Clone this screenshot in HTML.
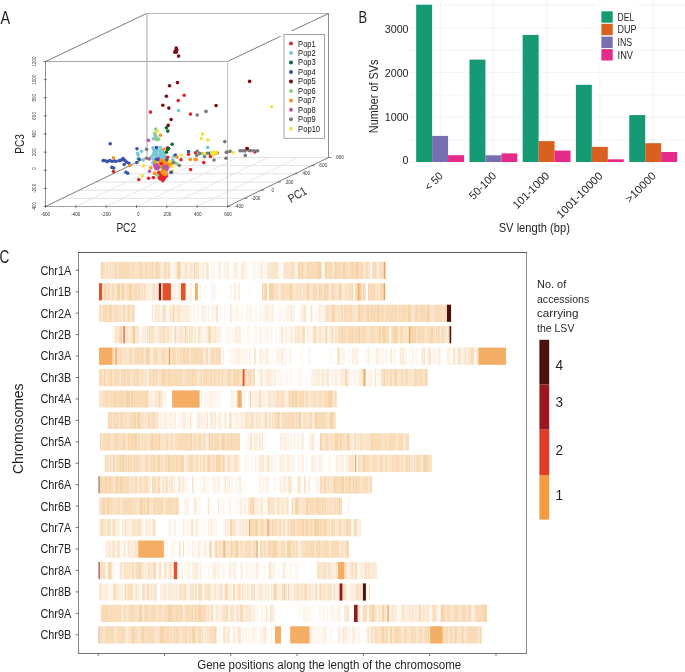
<!DOCTYPE html>
<html><head><meta charset="utf-8"><style>
html,body{margin:0;padding:0;background:#fff;}
body{width:685px;height:672px;overflow:hidden;}
svg{display:block;font-family:"Liberation Sans", sans-serif;}
text{-webkit-font-smoothing:antialiased;}
.g{opacity:0.999;will-change:transform;}
</style></head><body>
<svg width="685" height="672" viewBox="0 0 685 672">
<rect width="685" height="672" fill="#fff"/>
<g class="g"><text x="0.60" y="23.90" font-size="17.5" text-anchor="start" fill="#231f20" textLength="9.6" lengthAdjust="spacingAndGlyphs" >A</text>
<line x1="75.83" y1="206.5" x2="176.83" y2="157.5" stroke="#e2e2e2" stroke-width="0.8"/>
<line x1="106.17" y1="206.5" x2="207.17" y2="157.5" stroke="#e2e2e2" stroke-width="0.8"/>
<line x1="136.50" y1="206.5" x2="237.50" y2="157.5" stroke="#e2e2e2" stroke-width="0.8"/>
<line x1="166.83" y1="206.5" x2="267.83" y2="157.5" stroke="#e2e2e2" stroke-width="0.8"/>
<line x1="197.17" y1="206.5" x2="298.17" y2="157.5" stroke="#e2e2e2" stroke-width="0.8"/>
<line x1="62.33" y1="198.33" x2="244.33" y2="198.33" stroke="#e2e2e2" stroke-width="1"/>
<line x1="79.17" y1="190.17" x2="261.17" y2="190.17" stroke="#e2e2e2" stroke-width="1"/>
<line x1="96.00" y1="182.00" x2="278.00" y2="182.00" stroke="#e2e2e2" stroke-width="1"/>
<line x1="112.83" y1="173.83" x2="294.83" y2="173.83" stroke="#e2e2e2" stroke-width="1"/>
<line x1="129.67" y1="165.67" x2="311.67" y2="165.67" stroke="#e2e2e2" stroke-width="1"/>
<line x1="146.50" y1="157.50" x2="328.50" y2="157.50" stroke="#e2e2e2" stroke-width="1"/>
<line x1="146.5" y1="13.5" x2="328.5" y2="13.5" stroke="#b4b4b4" stroke-width="1"/>
<line x1="147" y1="13.5" x2="147" y2="157.5" stroke="#a6a6a6" stroke-width="1"/>
<line x1="328.5" y1="13.5" x2="328.5" y2="157.5" stroke="#8c8c8c" stroke-width="1"/>
<line x1="45.5" y1="61.5" x2="146.5" y2="13.5" stroke="#5a5a5a" stroke-width="0.8"/>
<line x1="227.5" y1="61.5" x2="328.5" y2="13.5" stroke="#5a5a5a" stroke-width="0.8"/>
<line x1="45.5" y1="206.5" x2="146.5" y2="157.5" stroke="#5a5a5a" stroke-width="0.8"/>
<line x1="227.5" y1="206.5" x2="328.5" y2="157.5" stroke="#5a5a5a" stroke-width="0.8"/>
<line x1="45.5" y1="61.5" x2="227.5" y2="61.5" stroke="#aaaaaa" stroke-width="1"/>
<line x1="45.5" y1="206.5" x2="227.5" y2="206.5" stroke="#a4a4a4" stroke-width="1"/>
<line x1="45.5" y1="61" x2="45.5" y2="207" stroke="#8e8e8e" stroke-width="1"/>
<line x1="227.5" y1="61" x2="227.5" y2="207" stroke="#c0c0c0" stroke-width="1"/>
<line x1="43.5" y1="61.50" x2="47.0" y2="61.50" stroke="#555" stroke-width="0.7"/>
<text x="34.40" y="61.50" font-size="4.6" text-anchor="middle" fill="#333" transform="rotate(-90 34.40 61.50)" dominant-baseline="central">1200</text>
<line x1="43.5" y1="79.62" x2="47.0" y2="79.62" stroke="#555" stroke-width="0.7"/>
<text x="34.40" y="79.62" font-size="4.6" text-anchor="middle" fill="#333" transform="rotate(-90 34.40 79.62)" dominant-baseline="central">1000</text>
<line x1="43.5" y1="97.75" x2="47.0" y2="97.75" stroke="#555" stroke-width="0.7"/>
<text x="34.40" y="97.75" font-size="4.6" text-anchor="middle" fill="#333" transform="rotate(-90 34.40 97.75)" dominant-baseline="central">800</text>
<line x1="43.5" y1="115.88" x2="47.0" y2="115.88" stroke="#555" stroke-width="0.7"/>
<text x="34.40" y="115.88" font-size="4.6" text-anchor="middle" fill="#333" transform="rotate(-90 34.40 115.88)" dominant-baseline="central">600</text>
<line x1="43.5" y1="134.00" x2="47.0" y2="134.00" stroke="#555" stroke-width="0.7"/>
<text x="34.40" y="134.00" font-size="4.6" text-anchor="middle" fill="#333" transform="rotate(-90 34.40 134.00)" dominant-baseline="central">400</text>
<line x1="43.5" y1="152.12" x2="47.0" y2="152.12" stroke="#555" stroke-width="0.7"/>
<text x="34.40" y="152.12" font-size="4.6" text-anchor="middle" fill="#333" transform="rotate(-90 34.40 152.12)" dominant-baseline="central">200</text>
<line x1="43.5" y1="170.25" x2="47.0" y2="170.25" stroke="#555" stroke-width="0.7"/>
<text x="34.40" y="168.45" font-size="4.6" text-anchor="middle" fill="#333" transform="rotate(-90 34.40 168.45)" dominant-baseline="central">0</text>
<line x1="43.5" y1="188.38" x2="47.0" y2="188.38" stroke="#555" stroke-width="0.7"/>
<text x="34.40" y="188.38" font-size="4.6" text-anchor="middle" fill="#333" transform="rotate(-90 34.40 188.38)" dominant-baseline="central">-200</text>
<line x1="43.5" y1="206.50" x2="47.0" y2="206.50" stroke="#555" stroke-width="0.7"/>
<text x="34.40" y="206.50" font-size="4.6" text-anchor="middle" fill="#333" transform="rotate(-90 34.40 206.50)" dominant-baseline="central">-400</text>
<line x1="45.50" y1="205.0" x2="45.50" y2="208.0" stroke="#555" stroke-width="0.7"/>
<text x="45.50" y="215.80" font-size="4.6" text-anchor="middle" fill="#333" >-600</text>
<line x1="75.83" y1="205.0" x2="75.83" y2="208.0" stroke="#555" stroke-width="0.7"/>
<text x="75.83" y="215.80" font-size="4.6" text-anchor="middle" fill="#333" >-400</text>
<line x1="106.17" y1="205.0" x2="106.17" y2="208.0" stroke="#555" stroke-width="0.7"/>
<text x="106.17" y="215.80" font-size="4.6" text-anchor="middle" fill="#333" >-200</text>
<line x1="136.50" y1="205.0" x2="136.50" y2="208.0" stroke="#555" stroke-width="0.7"/>
<text x="138.30" y="215.80" font-size="4.6" text-anchor="middle" fill="#333" >0</text>
<line x1="166.83" y1="205.0" x2="166.83" y2="208.0" stroke="#555" stroke-width="0.7"/>
<text x="167.43" y="215.80" font-size="4.6" text-anchor="middle" fill="#333" >200</text>
<line x1="197.17" y1="205.0" x2="197.17" y2="208.0" stroke="#555" stroke-width="0.7"/>
<text x="197.77" y="215.80" font-size="4.6" text-anchor="middle" fill="#333" >400</text>
<line x1="227.50" y1="205.0" x2="227.50" y2="208.0" stroke="#555" stroke-width="0.7"/>
<text x="228.10" y="215.80" font-size="4.6" text-anchor="middle" fill="#333" >600</text>
<line x1="227.50" y1="206.50" x2="230.50" y2="206.50" stroke="#555" stroke-width="0.7"/>
<text x="239.00" y="208.10" font-size="4.6" text-anchor="middle" fill="#333" >-400</text>
<line x1="244.33" y1="198.33" x2="247.33" y2="198.33" stroke="#555" stroke-width="0.7"/>
<text x="255.83" y="199.93" font-size="4.6" text-anchor="middle" fill="#333" >-200</text>
<line x1="261.17" y1="190.17" x2="264.17" y2="190.17" stroke="#555" stroke-width="0.7"/>
<text x="272.67" y="191.77" font-size="4.6" text-anchor="middle" fill="#333" >0</text>
<line x1="278.00" y1="182.00" x2="281.00" y2="182.00" stroke="#555" stroke-width="0.7"/>
<text x="289.50" y="183.60" font-size="4.6" text-anchor="middle" fill="#333" >200</text>
<line x1="294.83" y1="173.83" x2="297.83" y2="173.83" stroke="#555" stroke-width="0.7"/>
<text x="306.33" y="175.43" font-size="4.6" text-anchor="middle" fill="#333" >400</text>
<line x1="311.67" y1="165.67" x2="314.67" y2="165.67" stroke="#555" stroke-width="0.7"/>
<text x="323.17" y="167.27" font-size="4.6" text-anchor="middle" fill="#333" >600</text>
<line x1="328.50" y1="157.50" x2="331.50" y2="157.50" stroke="#555" stroke-width="0.7"/>
<text x="340.00" y="159.10" font-size="4.6" text-anchor="middle" fill="#333" >800</text>
<text x="126.20" y="231.90" font-size="12.2" text-anchor="middle" fill="#231f20" textLength="19.6" lengthAdjust="spacingAndGlyphs" >PC2</text>
<text x="24.00" y="144.00" font-size="12.8" text-anchor="middle" fill="#231f20" textLength="19.6" lengthAdjust="spacingAndGlyphs" transform="rotate(-90 24.00 144.00)" >PC3</text>
<text x="0" y="0" font-size="12.0" text-anchor="middle" fill="#231f20" textLength="19.4" lengthAdjust="spacingAndGlyphs" transform="translate(299.5 198.3) rotate(-30)">PC1</text>
<circle cx="153.0" cy="147.9" r="1.8" fill="#76c7d6"/>
<circle cx="160.3" cy="147.5" r="1.8" fill="#76c7d6"/>
<circle cx="154.1" cy="150.3" r="1.8" fill="#76c7d6"/>
<circle cx="155.9" cy="150.6" r="1.8" fill="#76c7d6"/>
<circle cx="157.8" cy="150.4" r="1.8" fill="#76c7d6"/>
<circle cx="161.1" cy="150.3" r="1.8" fill="#76c7d6"/>
<circle cx="162.6" cy="151.4" r="1.8" fill="#76c7d6"/>
<circle cx="154.3" cy="152.6" r="1.8" fill="#76c7d6"/>
<circle cx="156.5" cy="153.3" r="1.8" fill="#76c7d6"/>
<circle cx="160.2" cy="152.6" r="1.8" fill="#76c7d6"/>
<circle cx="161.8" cy="153.3" r="1.8" fill="#76c7d6"/>
<circle cx="163.6" cy="153.8" r="1.8" fill="#76c7d6"/>
<circle cx="155.0" cy="155.1" r="1.8" fill="#76c7d6"/>
<circle cx="157.4" cy="155.2" r="1.8" fill="#76c7d6"/>
<circle cx="160.2" cy="155.2" r="1.8" fill="#76c7d6"/>
<circle cx="162.4" cy="155.2" r="1.8" fill="#76c7d6"/>
<circle cx="164.6" cy="155.6" r="1.8" fill="#76c7d6"/>
<circle cx="155.9" cy="157.3" r="1.8" fill="#76c7d6"/>
<circle cx="159.4" cy="157.0" r="1.8" fill="#76c7d6"/>
<circle cx="162.0" cy="157.4" r="1.8" fill="#76c7d6"/>
<circle cx="165.0" cy="157.6" r="1.8" fill="#76c7d6"/>
<circle cx="158.9" cy="160.2" r="1.8" fill="#76c7d6"/>
<circle cx="161.2" cy="159.6" r="1.8" fill="#76c7d6"/>
<circle cx="163.3" cy="160.4" r="1.8" fill="#76c7d6"/>
<circle cx="165.2" cy="159.8" r="1.8" fill="#76c7d6"/>
<circle cx="159.8" cy="162.2" r="1.8" fill="#76c7d6"/>
<circle cx="162.9" cy="162.2" r="1.8" fill="#76c7d6"/>
<circle cx="153.4" cy="159.2" r="1.8" fill="#76c7d6"/>
<circle cx="154.5" cy="161.3" r="1.8" fill="#76c7d6"/>
<circle cx="157.0" cy="158.8" r="1.8" fill="#76c7d6"/>
<circle cx="153.3" cy="154.5" r="1.8" fill="#76c7d6"/>
<circle cx="141.5" cy="151.3" r="1.8" fill="#76c7d6"/>
<circle cx="137.6" cy="153.4" r="1.8" fill="#76c7d6"/>
<circle cx="138.2" cy="155.1" r="1.8" fill="#76c7d6"/>
<circle cx="138.2" cy="158.6" r="1.8" fill="#76c7d6"/>
<circle cx="143.2" cy="160.1" r="1.8" fill="#76c7d6"/>
<circle cx="151.7" cy="156.6" r="1.8" fill="#76c7d6"/>
<circle cx="152.8" cy="163.0" r="1.8" fill="#76c7d6"/>
<circle cx="172.5" cy="160.0" r="1.8" fill="#76c7d6"/>
<circle cx="173.8" cy="156.0" r="1.8" fill="#76c7d6"/>
<circle cx="178.6" cy="110.6" r="1.8" fill="#76c7d6"/>
<circle cx="155.3" cy="135.2" r="1.8" fill="#76c7d6"/>
<circle cx="207.6" cy="147.4" r="1.8" fill="#76c7d6"/>
<circle cx="172.8" cy="160.4" r="1.8" fill="#76c7d6"/>
<circle cx="160.7" cy="160.6" r="1.8" fill="#f7941d"/>
<circle cx="162.5" cy="160.5" r="1.8" fill="#f7941d"/>
<circle cx="164.5" cy="160.2" r="1.8" fill="#f7941d"/>
<circle cx="166.5" cy="160.8" r="1.8" fill="#f7941d"/>
<circle cx="168.5" cy="161.5" r="1.8" fill="#f7941d"/>
<circle cx="170.3" cy="162.5" r="1.8" fill="#f7941d"/>
<circle cx="171.2" cy="164.2" r="1.8" fill="#f7941d"/>
<circle cx="163.5" cy="162.5" r="1.8" fill="#f7941d"/>
<circle cx="165.5" cy="162.5" r="1.8" fill="#f7941d"/>
<circle cx="167.5" cy="163.0" r="1.8" fill="#f7941d"/>
<circle cx="169.5" cy="163.8" r="1.8" fill="#f7941d"/>
<circle cx="160.2" cy="164.8" r="1.8" fill="#f7941d"/>
<circle cx="162.0" cy="165.0" r="1.8" fill="#f7941d"/>
<circle cx="164.0" cy="164.5" r="1.8" fill="#f7941d"/>
<circle cx="166.0" cy="165.0" r="1.8" fill="#f7941d"/>
<circle cx="168.0" cy="165.5" r="1.8" fill="#f7941d"/>
<circle cx="170.0" cy="166.0" r="1.8" fill="#f7941d"/>
<circle cx="161.0" cy="166.8" r="1.8" fill="#f7941d"/>
<circle cx="163.0" cy="167.2" r="1.8" fill="#f7941d"/>
<circle cx="165.0" cy="167.5" r="1.8" fill="#f7941d"/>
<circle cx="167.0" cy="168.0" r="1.8" fill="#f7941d"/>
<circle cx="162.5" cy="168.8" r="1.8" fill="#f7941d"/>
<circle cx="166.0" cy="169.5" r="1.8" fill="#f7941d"/>
<circle cx="159.6" cy="162.8" r="1.8" fill="#f7941d"/>
<circle cx="154.8" cy="164.8" r="1.8" fill="#c24fad"/>
<circle cx="156.8" cy="164.5" r="1.8" fill="#c24fad"/>
<circle cx="155.0" cy="166.6" r="1.8" fill="#c24fad"/>
<circle cx="157.0" cy="166.8" r="1.8" fill="#c24fad"/>
<circle cx="158.8" cy="167.0" r="1.8" fill="#c24fad"/>
<circle cx="155.8" cy="168.6" r="1.8" fill="#c24fad"/>
<circle cx="157.8" cy="168.8" r="1.8" fill="#c24fad"/>
<circle cx="164.5" cy="166.4" r="1.8" fill="#c24fad"/>
<circle cx="166.5" cy="166.3" r="1.8" fill="#c24fad"/>
<circle cx="167.5" cy="168.0" r="1.8" fill="#c24fad"/>
<circle cx="165.3" cy="169.3" r="1.8" fill="#c24fad"/>
<circle cx="166.8" cy="170.0" r="1.8" fill="#c24fad"/>
<circle cx="158.3" cy="158.6" r="1.8" fill="#c24fad"/>
<circle cx="149.3" cy="158.9" r="1.8" fill="#c24fad"/>
<circle cx="148.5" cy="140.3" r="1.8" fill="#c24fad"/>
<circle cx="149.5" cy="171.2" r="1.8" fill="#c24fad"/>
<circle cx="155.9" cy="165.7" r="1.8" fill="#c24fad"/>
<circle cx="163.8" cy="167.5" r="1.8" fill="#7a7a7a"/>
<circle cx="159.5" cy="173.1" r="1.8" fill="#e3252b"/>
<circle cx="158.7" cy="174.6" r="1.8" fill="#e3252b"/>
<circle cx="159.8" cy="176.0" r="1.8" fill="#e3252b"/>
<circle cx="159.2" cy="178.0" r="1.8" fill="#e3252b"/>
<circle cx="161.1" cy="177.6" r="1.8" fill="#e3252b"/>
<circle cx="163.3" cy="177.0" r="1.8" fill="#e3252b"/>
<circle cx="165.4" cy="176.8" r="1.8" fill="#e3252b"/>
<circle cx="162.5" cy="179.3" r="1.8" fill="#e3252b"/>
<circle cx="164.3" cy="178.8" r="1.8" fill="#e3252b"/>
<circle cx="162.9" cy="180.8" r="1.8" fill="#e3252b"/>
<circle cx="160.5" cy="179.0" r="1.8" fill="#e3252b"/>
<circle cx="166.4" cy="176.0" r="1.8" fill="#e3252b"/>
<circle cx="158.9" cy="172.2" r="1.8" fill="#e3252b"/>
<circle cx="161.2" cy="175.2" r="1.8" fill="#e3252b"/>
<circle cx="163.6" cy="175.4" r="1.8" fill="#e3252b"/>
<circle cx="162.0" cy="171.6" r="1.8" fill="#f7941d"/>
<circle cx="164.4" cy="171.2" r="1.8" fill="#f7941d"/>
<circle cx="163.2" cy="173.6" r="1.8" fill="#f7941d"/>
<circle cx="166.8" cy="173.8" r="1.8" fill="#f7941d"/>
<circle cx="165.2" cy="174.6" r="1.8" fill="#f7941d"/>
<circle cx="176.2" cy="48.0" r="1.8" fill="#7d0c0e"/>
<circle cx="175.5" cy="50.7" r="1.8" fill="#7d0c0e"/>
<circle cx="176.4" cy="52.1" r="1.8" fill="#7d0c0e"/>
<circle cx="174.8" cy="52.3" r="1.8" fill="#7d0c0e"/>
<circle cx="176.8" cy="49.8" r="1.8" fill="#7d0c0e"/>
<circle cx="178.6" cy="56.1" r="1.8" fill="#7d0c0e"/>
<circle cx="177.5" cy="82.6" r="1.8" fill="#7d0c0e"/>
<circle cx="169.5" cy="85.8" r="1.8" fill="#7d0c0e"/>
<circle cx="166.4" cy="96.3" r="1.8" fill="#7d0c0e"/>
<circle cx="162.8" cy="105.3" r="1.8" fill="#7d0c0e"/>
<circle cx="168.8" cy="108.1" r="1.8" fill="#7d0c0e"/>
<circle cx="171.1" cy="119.5" r="1.8" fill="#7d0c0e"/>
<circle cx="168.2" cy="125.4" r="1.8" fill="#7d0c0e"/>
<circle cx="216.1" cy="105.6" r="1.8" fill="#7d0c0e"/>
<circle cx="249.6" cy="81.4" r="1.8" fill="#7d0c0e"/>
<circle cx="247.1" cy="148.6" r="1.8" fill="#7d0c0e"/>
<circle cx="184.2" cy="95.2" r="1.8" fill="#e3252b"/>
<circle cx="178.2" cy="100.6" r="1.8" fill="#e3252b"/>
<circle cx="150.5" cy="112.1" r="1.8" fill="#e3252b"/>
<circle cx="190.5" cy="114.1" r="1.8" fill="#e3252b"/>
<circle cx="113.5" cy="171.5" r="1.8" fill="#e3252b"/>
<circle cx="138.8" cy="179.6" r="1.8" fill="#e3252b"/>
<circle cx="148.6" cy="178.2" r="1.8" fill="#e3252b"/>
<circle cx="153.4" cy="177.6" r="1.8" fill="#e3252b"/>
<circle cx="167.6" cy="147.7" r="1.8" fill="#e3252b"/>
<circle cx="167.6" cy="157.2" r="1.8" fill="#e3252b"/>
<circle cx="161.4" cy="163.6" r="1.8" fill="#e3252b"/>
<circle cx="188.5" cy="154.3" r="1.8" fill="#e3252b"/>
<circle cx="195.5" cy="152.7" r="1.8" fill="#e3252b"/>
<circle cx="210.5" cy="156.4" r="1.8" fill="#e3252b"/>
<circle cx="217.2" cy="152.7" r="1.8" fill="#e3252b"/>
<circle cx="203.7" cy="162.6" r="1.8" fill="#e3252b"/>
<circle cx="190.6" cy="169.6" r="1.8" fill="#e3252b"/>
<circle cx="181.0" cy="159.7" r="1.8" fill="#e3252b"/>
<circle cx="254.9" cy="151.9" r="1.8" fill="#e3252b"/>
<circle cx="166.4" cy="127.8" r="1.8" fill="#076a36"/>
<circle cx="167.8" cy="131.1" r="1.8" fill="#076a36"/>
<circle cx="172.2" cy="144.3" r="1.8" fill="#076a36"/>
<circle cx="167.6" cy="149.6" r="1.8" fill="#076a36"/>
<circle cx="166.4" cy="152.2" r="1.8" fill="#076a36"/>
<circle cx="168.6" cy="148.6" r="1.8" fill="#076a36"/>
<circle cx="110.2" cy="143.8" r="1.8" fill="#3953a7"/>
<circle cx="103.2" cy="160.6" r="1.8" fill="#3953a7"/>
<circle cx="105.3" cy="160.8" r="1.8" fill="#3953a7"/>
<circle cx="107.3" cy="161.6" r="1.8" fill="#3953a7"/>
<circle cx="109.6" cy="160.6" r="1.8" fill="#3953a7"/>
<circle cx="111.9" cy="161.3" r="1.8" fill="#3953a7"/>
<circle cx="114.2" cy="161.0" r="1.8" fill="#3953a7"/>
<circle cx="116.2" cy="161.3" r="1.8" fill="#3953a7"/>
<circle cx="119.5" cy="160.6" r="1.8" fill="#3953a7"/>
<circle cx="121.4" cy="160.0" r="1.8" fill="#3953a7"/>
<circle cx="123.0" cy="158.6" r="1.8" fill="#3953a7"/>
<circle cx="124.8" cy="160.4" r="1.8" fill="#3953a7"/>
<circle cx="126.5" cy="162.0" r="1.8" fill="#3953a7"/>
<circle cx="128.9" cy="163.2" r="1.8" fill="#3953a7"/>
<circle cx="124.2" cy="164.5" r="1.8" fill="#3953a7"/>
<circle cx="111.9" cy="167.4" r="1.8" fill="#3953a7"/>
<circle cx="113.7" cy="168.0" r="1.8" fill="#3953a7"/>
<circle cx="126.0" cy="172.3" r="1.8" fill="#3953a7"/>
<circle cx="127.7" cy="173.2" r="1.8" fill="#3953a7"/>
<circle cx="137.0" cy="148.7" r="1.8" fill="#3953a7"/>
<circle cx="139.1" cy="159.2" r="1.8" fill="#3953a7"/>
<circle cx="136.8" cy="162.5" r="1.8" fill="#3953a7"/>
<circle cx="156.5" cy="147.6" r="1.8" fill="#3953a7"/>
<circle cx="171.2" cy="172.2" r="1.8" fill="#3953a7"/>
<circle cx="167.0" cy="159.7" r="1.8" fill="#3953a7"/>
<circle cx="175.4" cy="155.0" r="1.8" fill="#3953a7"/>
<circle cx="156.5" cy="159.5" r="1.8" fill="#3953a7"/>
<circle cx="188.5" cy="151.5" r="1.8" fill="#3953a7"/>
<circle cx="209.6" cy="153.3" r="1.8" fill="#3953a7"/>
<circle cx="157.8" cy="159.8" r="1.8" fill="#3953a7"/>
<circle cx="153.5" cy="138.8" r="1.8" fill="#76c7d6"/>
<circle cx="155.6" cy="136.2" r="1.8" fill="#76c7d6"/>
<circle cx="155.7" cy="129.1" r="1.8" fill="#90d07f"/>
<circle cx="154.7" cy="133.4" r="1.8" fill="#90d07f"/>
<circle cx="157.2" cy="138.2" r="1.8" fill="#90d07f"/>
<circle cx="158.6" cy="139.4" r="1.8" fill="#90d07f"/>
<circle cx="156.4" cy="139.8" r="1.8" fill="#90d07f"/>
<circle cx="157.4" cy="175.3" r="1.8" fill="#90d07f"/>
<circle cx="176.7" cy="163.5" r="1.8" fill="#90d07f"/>
<circle cx="202.0" cy="153.6" r="1.8" fill="#90d07f"/>
<circle cx="113.5" cy="157.8" r="1.8" fill="#f7941d"/>
<circle cx="129.8" cy="165.6" r="1.8" fill="#f7941d"/>
<circle cx="160.5" cy="135.2" r="1.8" fill="#f7941d"/>
<circle cx="164.0" cy="149.2" r="1.8" fill="#f7941d"/>
<circle cx="150.8" cy="167.7" r="1.8" fill="#f7941d"/>
<circle cx="154.8" cy="173.4" r="1.8" fill="#f7941d"/>
<circle cx="177.0" cy="157.1" r="1.8" fill="#f7941d"/>
<circle cx="190.3" cy="159.5" r="1.8" fill="#f7941d"/>
<circle cx="195.0" cy="159.5" r="1.8" fill="#f7941d"/>
<circle cx="196.3" cy="159.5" r="1.8" fill="#f7941d"/>
<circle cx="155.2" cy="162.1" r="1.8" fill="#f7941d"/>
<circle cx="154.6" cy="173.2" r="1.8" fill="#f7941d"/>
<circle cx="146.6" cy="149.3" r="1.8" fill="#7a7a7a"/>
<circle cx="146.7" cy="158.2" r="1.8" fill="#7a7a7a"/>
<circle cx="173.7" cy="162.6" r="1.8" fill="#7a7a7a"/>
<circle cx="179.3" cy="165.5" r="1.8" fill="#7a7a7a"/>
<circle cx="197.2" cy="115.0" r="1.8" fill="#7a7a7a"/>
<circle cx="206.0" cy="111.4" r="1.8" fill="#7a7a7a"/>
<circle cx="224.8" cy="141.6" r="1.8" fill="#7a7a7a"/>
<circle cx="197.3" cy="151.3" r="1.8" fill="#7a7a7a"/>
<circle cx="196.7" cy="155.3" r="1.8" fill="#7a7a7a"/>
<circle cx="199.6" cy="153.6" r="1.8" fill="#7a7a7a"/>
<circle cx="207.2" cy="153.3" r="1.8" fill="#7a7a7a"/>
<circle cx="204.5" cy="156.4" r="1.8" fill="#7a7a7a"/>
<circle cx="214.0" cy="160.0" r="1.8" fill="#7a7a7a"/>
<circle cx="227.1" cy="152.1" r="1.8" fill="#7a7a7a"/>
<circle cx="230.1" cy="151.4" r="1.8" fill="#7a7a7a"/>
<circle cx="226.3" cy="152.2" r="1.8" fill="#7a7a7a"/>
<circle cx="226.0" cy="158.2" r="1.8" fill="#7a7a7a"/>
<circle cx="240.0" cy="150.8" r="1.8" fill="#7a7a7a"/>
<circle cx="242.5" cy="150.8" r="1.8" fill="#7a7a7a"/>
<circle cx="245.0" cy="150.9" r="1.8" fill="#7a7a7a"/>
<circle cx="249.0" cy="150.6" r="1.8" fill="#7a7a7a"/>
<circle cx="251.0" cy="150.8" r="1.8" fill="#7a7a7a"/>
<circle cx="254.0" cy="150.8" r="1.8" fill="#7a7a7a"/>
<circle cx="257.6" cy="150.8" r="1.8" fill="#7a7a7a"/>
<circle cx="245.3" cy="155.4" r="1.8" fill="#7a7a7a"/>
<circle cx="157.6" cy="131.3" r="1.8" fill="#f5e23a"/>
<circle cx="202.6" cy="134.0" r="1.8" fill="#f5e23a"/>
<circle cx="201.4" cy="138.5" r="1.8" fill="#f5e23a"/>
<circle cx="207.8" cy="140.1" r="1.8" fill="#f5e23a"/>
<circle cx="143.5" cy="165.7" r="1.8" fill="#f5e23a"/>
<circle cx="142.2" cy="176.1" r="1.8" fill="#f5e23a"/>
<circle cx="172.2" cy="166.3" r="1.8" fill="#f5e23a"/>
<circle cx="181.3" cy="155.1" r="1.8" fill="#f5e23a"/>
<circle cx="204.3" cy="153.6" r="1.8" fill="#f5e23a"/>
<circle cx="211.5" cy="153.0" r="1.8" fill="#f5e23a"/>
<circle cx="213.5" cy="152.0" r="1.8" fill="#f5e23a"/>
<circle cx="215.0" cy="154.2" r="1.8" fill="#f5e23a"/>
<circle cx="216.5" cy="152.4" r="1.8" fill="#f5e23a"/>
<circle cx="212.8" cy="154.6" r="1.8" fill="#f5e23a"/>
<circle cx="233.2" cy="152.6" r="1.8" fill="#f5e23a"/>
<circle cx="271.6" cy="106.8" r="1.8" fill="#f5e23a"/>
<circle cx="169.7" cy="161.3" r="1.8" fill="#f5e23a"/>
<circle cx="172.4" cy="171.0" r="1.8" fill="#f5e23a"/>
<circle cx="247.1" cy="148.6" r="1.8" fill="#7d0c0e"/>
<circle cx="171.2" cy="172.3" r="1.8" fill="#3953a7"/>
<rect x="280.6" y="31" width="47" height="111" fill="#fff"/>
<rect x="284" y="34.5" width="40.5" height="103.8" fill="#fff" stroke="#9a9a9a" stroke-width="0.9"/>
<circle cx="291" cy="43.50" r="2" fill="#e3252b"/>
<text x="298.10" y="46.50" font-size="8.3" text-anchor="start" fill="#111" textLength="17.7" lengthAdjust="spacingAndGlyphs" >Pop1</text>
<circle cx="291" cy="52.98" r="2" fill="#76c7d6"/>
<text x="298.10" y="55.98" font-size="8.3" text-anchor="start" fill="#111" textLength="17.7" lengthAdjust="spacingAndGlyphs" >Pop2</text>
<circle cx="291" cy="62.46" r="2" fill="#076a36"/>
<text x="298.10" y="65.46" font-size="8.3" text-anchor="start" fill="#111" textLength="17.7" lengthAdjust="spacingAndGlyphs" >Pop3</text>
<circle cx="291" cy="71.94" r="2" fill="#3953a7"/>
<text x="298.10" y="74.94" font-size="8.3" text-anchor="start" fill="#111" textLength="17.7" lengthAdjust="spacingAndGlyphs" >Pop4</text>
<circle cx="291" cy="81.42" r="2" fill="#7d0c0e"/>
<text x="298.10" y="84.42" font-size="8.3" text-anchor="start" fill="#111" textLength="17.7" lengthAdjust="spacingAndGlyphs" >Pop5</text>
<circle cx="291" cy="90.90" r="2" fill="#90d07f"/>
<text x="298.10" y="93.90" font-size="8.3" text-anchor="start" fill="#111" textLength="17.7" lengthAdjust="spacingAndGlyphs" >Pop6</text>
<circle cx="291" cy="100.38" r="2" fill="#f7941d"/>
<text x="298.10" y="103.38" font-size="8.3" text-anchor="start" fill="#111" textLength="17.7" lengthAdjust="spacingAndGlyphs" >Pop7</text>
<circle cx="291" cy="109.86" r="2" fill="#c24fad"/>
<text x="298.10" y="112.86" font-size="8.3" text-anchor="start" fill="#111" textLength="17.7" lengthAdjust="spacingAndGlyphs" >Pop8</text>
<circle cx="291" cy="119.34" r="2" fill="#7a7a7a"/>
<text x="298.10" y="122.34" font-size="8.3" text-anchor="start" fill="#111" textLength="17.7" lengthAdjust="spacingAndGlyphs" >Pop9</text>
<circle cx="291" cy="128.82" r="2" fill="#f5e23a"/>
<text x="298.10" y="131.82" font-size="8.3" text-anchor="start" fill="#111" textLength="22.0" lengthAdjust="spacingAndGlyphs" >Pop10</text>
<text x="358.40" y="22.70" font-size="17.2" text-anchor="start" fill="#231f20" textLength="8.6" lengthAdjust="spacingAndGlyphs" >B</text>
<line x1="408.5" y1="139.60" x2="685" y2="139.60" stroke="#f1f1f1" stroke-width="0.8"/>
<line x1="408.5" y1="117.20" x2="685" y2="117.20" stroke="#f1f1f1" stroke-width="0.8"/>
<line x1="408.5" y1="94.80" x2="685" y2="94.80" stroke="#f1f1f1" stroke-width="0.8"/>
<line x1="408.5" y1="72.40" x2="685" y2="72.40" stroke="#f1f1f1" stroke-width="0.8"/>
<line x1="408.5" y1="50.00" x2="685" y2="50.00" stroke="#f1f1f1" stroke-width="0.8"/>
<line x1="408.5" y1="27.60" x2="685" y2="27.60" stroke="#f1f1f1" stroke-width="0.8"/>
<line x1="408.5" y1="5.20" x2="685" y2="5.20" stroke="#f1f1f1" stroke-width="0.8"/>
<line x1="408.5" y1="162.0" x2="685" y2="162.0" stroke="#f1f1f1" stroke-width="0.8"/>
<line x1="440.1" y1="0" x2="440.1" y2="169" stroke="#f1f1f1" stroke-width="0.8"/>
<line x1="493.4" y1="0" x2="493.4" y2="169" stroke="#f1f1f1" stroke-width="0.8"/>
<line x1="546.6" y1="0" x2="546.6" y2="169" stroke="#f1f1f1" stroke-width="0.8"/>
<line x1="599.8" y1="0" x2="599.8" y2="169" stroke="#f1f1f1" stroke-width="0.8"/>
<line x1="653.2" y1="0" x2="653.2" y2="169" stroke="#f1f1f1" stroke-width="0.8"/>
<rect x="416.18" y="4.7" width="15.95" height="157.30" fill="#159a73"/>
<rect x="432.12" y="135.9" width="15.95" height="26.10" fill="#7670b3"/>
<rect x="448.07" y="155.2" width="15.95" height="6.80" fill="#e52a8a"/>
<rect x="469.47" y="59.6" width="15.95" height="102.40" fill="#159a73"/>
<rect x="485.42" y="155.3" width="15.95" height="6.70" fill="#7670b3"/>
<rect x="501.37" y="153.4" width="15.95" height="8.60" fill="#e52a8a"/>
<rect x="522.68" y="34.9" width="15.95" height="127.10" fill="#159a73"/>
<rect x="538.63" y="141.1" width="15.95" height="20.90" fill="#d9601f"/>
<rect x="554.58" y="150.6" width="15.95" height="11.40" fill="#e52a8a"/>
<rect x="575.88" y="84.8" width="15.95" height="77.20" fill="#159a73"/>
<rect x="591.83" y="146.9" width="15.95" height="15.10" fill="#d9601f"/>
<rect x="607.78" y="159.3" width="15.95" height="2.70" fill="#e52a8a"/>
<rect x="629.28" y="115.1" width="15.95" height="46.90" fill="#159a73"/>
<rect x="645.23" y="143.2" width="15.95" height="18.80" fill="#d9601f"/>
<rect x="661.18" y="152.0" width="15.95" height="10.00" fill="#e52a8a"/>
<text x="408.60" y="32.80" font-size="11.8" text-anchor="end" fill="#231f20" textLength="23.9" lengthAdjust="spacingAndGlyphs" >3000</text>
<text x="408.60" y="76.70" font-size="11.8" text-anchor="end" fill="#231f20" textLength="23.9" lengthAdjust="spacingAndGlyphs" >2000</text>
<text x="408.60" y="120.60" font-size="11.8" text-anchor="end" fill="#231f20" textLength="23.9" lengthAdjust="spacingAndGlyphs" >1000</text>
<text x="408.60" y="164.40" font-size="11.8" text-anchor="end" fill="#231f20" textLength="6.0" lengthAdjust="spacingAndGlyphs" >0</text>
<text x="378.00" y="96.40" font-size="12.4" text-anchor="middle" fill="#231f20" textLength="73.5" lengthAdjust="spacingAndGlyphs" transform="rotate(-90 378.00 96.40)" >Number of SVs</text>
<text x="0" y="0" font-size="11.2" text-anchor="end" fill="#231f20" textLength="20.9" lengthAdjust="spacingAndGlyphs" transform="translate(443.70 176.60) rotate(-45)">&lt; 50</text>
<text x="0" y="0" font-size="11.2" text-anchor="end" fill="#231f20" textLength="33.3" lengthAdjust="spacingAndGlyphs" transform="translate(497.00 176.60) rotate(-45)">50-100</text>
<text x="0" y="0" font-size="11.2" text-anchor="end" fill="#231f20" textLength="46.6" lengthAdjust="spacingAndGlyphs" transform="translate(550.20 176.60) rotate(-45)">101-1000</text>
<text x="0" y="0" font-size="11.2" text-anchor="end" fill="#231f20" textLength="59.8" lengthAdjust="spacingAndGlyphs" transform="translate(603.40 176.60) rotate(-45)">1001-10000</text>
<text x="0" y="0" font-size="11.2" text-anchor="end" fill="#231f20" textLength="38.1" lengthAdjust="spacingAndGlyphs" transform="translate(656.80 176.60) rotate(-45)">&gt;10000</text>
<text x="534.30" y="231.60" font-size="12.2" text-anchor="middle" fill="#231f20" textLength="71.2" lengthAdjust="spacingAndGlyphs" >SV length (bp)</text>
<rect x="596" y="5" width="41.5" height="61" fill="#fff"/>
<rect x="601.4" y="11.3" width="11.3" height="11.4" fill="#159a73"/>
<rect x="601.4" y="23.8" width="11.3" height="11.4" fill="#d9601f"/>
<rect x="601.4" y="36.6" width="11.3" height="11.4" fill="#7670b3"/>
<rect x="601.4" y="49.1" width="11.3" height="11.4" fill="#e52a8a"/>
<text x="617.60" y="20.70" font-size="11.8" text-anchor="start" fill="#231f20" textLength="16.6" lengthAdjust="spacingAndGlyphs" >DEL</text>
<text x="617.60" y="33.30" font-size="11.8" text-anchor="start" fill="#231f20" textLength="19.0" lengthAdjust="spacingAndGlyphs" >DUP</text>
<text x="617.60" y="46.10" font-size="11.8" text-anchor="start" fill="#231f20" textLength="14.6" lengthAdjust="spacingAndGlyphs" >INS</text>
<text x="617.60" y="58.70" font-size="11.8" text-anchor="start" fill="#231f20" textLength="15.4" lengthAdjust="spacingAndGlyphs" >INV</text>
<text x="-0.60" y="262.90" font-size="17.8" text-anchor="start" fill="#231f20" textLength="9.8" lengthAdjust="spacingAndGlyphs" >C</text>
<path fill="#fef8f1" d="M169.8 261.8h1.0v17.2h-1.0zM173.8 261.8h0.5v17.2h-0.5zM189.2 261.8h0.5v17.2h-0.5zM192.6 261.8h1.5v17.2h-1.5zM199.0 261.8h1.0v17.2h-1.0zM200.7 261.8h1.0v17.2h-1.0zM201.7 261.8h1.0v17.2h-1.0zM203.7 261.8h2.5v17.2h-2.5zM211.9 261.8h1.0v17.2h-1.0zM212.9 261.8h1.0v17.2h-1.0zM213.9 261.8h1.0v17.2h-1.0zM217.4 261.8h1.0v17.2h-1.0zM221.9 261.8h2.0v17.2h-2.0zM224.4 261.8h1.0v17.2h-1.0zM226.4 261.8h1.2v17.2h-1.2zM231.7 261.8h2.0v17.2h-2.0zM233.7 261.8h0.5v17.2h-0.5zM236.8 261.8h1.0v17.2h-1.0zM237.8 261.8h1.0v17.2h-1.0zM240.0 261.8h1.5v17.2h-1.5zM245.7 261.8h1.0v17.2h-1.0zM246.7 261.8h2.0v17.2h-2.0zM252.9 261.8h0.7v17.2h-0.7zM253.6 261.8h1.0v17.2h-1.0zM263.0 261.8h2.0v17.2h-2.0zM265.0 261.8h2.5v17.2h-2.5zM297.2 261.8h0.8v17.2h-0.8zM370.4 261.8h2.0v17.2h-2.0zM377.6 261.8h1.0v17.2h-1.0zM172.4 283.2h1.0v17.2h-1.0zM173.4 283.2h0.7v17.2h-0.7zM176.6 283.2h1.2v17.2h-1.2zM185.6 283.2h1.0v17.2h-1.0zM186.6 283.2h2.0v17.2h-2.0zM193.1 283.2h1.0v17.2h-1.0zM199.0 283.2h1.2v17.2h-1.2zM200.9 283.2h1.0v17.2h-1.0zM204.3 283.2h1.5v17.2h-1.5zM206.3 283.2h0.5v17.2h-0.5zM211.0 283.2h1.2v17.2h-1.2zM212.2 283.2h1.5v17.2h-1.5zM229.4 283.2h2.5v17.2h-2.5zM248.8 283.2h1.0v17.2h-1.0zM267.0 283.2h2.0v17.2h-2.0zM279.4 283.2h0.5v17.2h-0.5zM329.6 283.2h0.7v17.2h-0.7zM353.3 283.2h1.0v17.2h-1.0zM153.4 304.7h1.0v17.2h-1.0zM154.4 304.7h1.0v17.2h-1.0zM160.6 304.7h1.5v17.2h-1.5zM166.6 304.7h2.5v17.2h-2.5zM169.1 304.7h1.2v17.2h-1.2zM175.3 304.7h1.2v17.2h-1.2zM190.0 304.7h2.0v17.2h-2.0zM192.7 304.7h1.5v17.2h-1.5zM194.2 304.7h2.0v17.2h-2.0zM210.3 304.7h1.2v17.2h-1.2zM220.0 304.7h1.0v17.2h-1.0zM224.0 304.7h1.0v17.2h-1.0zM231.2 304.7h2.0v17.2h-2.0zM233.9 304.7h2.5v17.2h-2.5zM239.1 304.7h1.2v17.2h-1.2zM241.5 304.7h0.7v17.2h-0.7zM242.2 304.7h1.0v17.2h-1.0zM247.9 304.7h1.0v17.2h-1.0zM248.9 304.7h1.1v17.2h-1.1zM251.2 304.7h1.0v17.2h-1.0zM252.7 304.7h0.5v17.2h-0.5zM254.2 304.7h1.2v17.2h-1.2zM255.4 304.7h1.5v17.2h-1.5zM264.4 304.7h1.0v17.2h-1.0zM266.4 304.7h0.5v17.2h-0.5zM269.4 304.7h2.0v17.2h-2.0zM280.1 304.7h2.5v17.2h-2.5zM283.6 304.7h1.0v17.2h-1.0zM284.6 304.7h2.5v17.2h-2.5zM288.6 304.7h1.0v17.2h-1.0zM292.8 304.7h0.5v17.2h-0.5zM301.0 304.7h1.0v17.2h-1.0zM306.0 304.7h1.0v17.2h-1.0zM315.2 304.7h1.0v17.2h-1.0zM316.2 304.7h2.5v17.2h-2.5zM321.2 304.7h0.5v17.2h-0.5zM321.7 304.7h1.0v17.2h-1.0zM323.7 304.7h1.0v17.2h-1.0zM355.3 304.7h0.5v17.2h-0.5zM112.5 326.1h1.5v17.2h-1.5zM123.6 326.1h1.0v17.2h-1.0zM146.0 326.1h1.2v17.2h-1.2zM148.2 326.1h0.5v17.2h-0.5zM171.7 326.1h2.5v17.2h-2.5zM179.2 326.1h0.5v17.2h-0.5zM195.7 326.1h1.2v17.2h-1.2zM202.8 326.1h2.5v17.2h-2.5zM217.2 326.1h0.5v17.2h-0.5zM220.2 326.1h2.5v17.2h-2.5zM224.7 326.1h2.0v17.2h-2.0zM227.2 326.1h2.5v17.2h-2.5zM229.7 326.1h1.0v17.2h-1.0zM231.4 326.1h2.0v17.2h-2.0zM236.9 326.1h0.5v17.2h-0.5zM242.4 326.1h1.5v17.2h-1.5zM243.9 326.1h0.5v17.2h-0.5zM247.6 326.1h1.5v17.2h-1.5zM249.1 326.1h0.9v17.2h-0.9zM250.0 326.1h0.5v17.2h-0.5zM253.7 326.1h1.0v17.2h-1.0zM255.2 326.1h0.5v17.2h-0.5zM260.3 326.1h1.2v17.2h-1.2zM261.5 326.1h1.0v17.2h-1.0zM263.2 326.1h2.5v17.2h-2.5zM265.7 326.1h2.0v17.2h-2.0zM268.7 326.1h0.5v17.2h-0.5zM270.4 326.1h1.0v17.2h-1.0zM275.0 326.1h2.0v17.2h-2.0zM278.0 326.1h0.7v17.2h-0.7zM278.7 326.1h1.0v17.2h-1.0zM279.7 326.1h1.5v17.2h-1.5zM284.4 326.1h0.5v17.2h-0.5zM286.6 326.1h1.0v17.2h-1.0zM287.6 326.1h1.0v17.2h-1.0zM288.6 326.1h1.5v17.2h-1.5zM293.2 326.1h1.5v17.2h-1.5zM306.0 326.1h0.5v17.2h-0.5zM308.5 326.1h1.0v17.2h-1.0zM310.0 326.1h2.0v17.2h-2.0zM222.2 347.6h1.0v17.2h-1.0zM228.7 347.6h1.0v17.2h-1.0zM230.4 347.6h2.5v17.2h-2.5zM232.9 347.6h2.0v17.2h-2.0zM234.9 347.6h1.0v17.2h-1.0zM236.9 347.6h0.7v17.2h-0.7zM240.6 347.6h1.0v17.2h-1.0zM241.6 347.6h2.5v17.2h-2.5zM244.1 347.6h1.5v17.2h-1.5zM246.1 347.6h2.0v17.2h-2.0zM250.1 347.6h1.5v17.2h-1.5zM256.3 347.6h1.0v17.2h-1.0zM261.8 347.6h2.5v17.2h-2.5zM264.3 347.6h1.5v17.2h-1.5zM268.3 347.6h1.5v17.2h-1.5zM271.0 347.6h1.2v17.2h-1.2zM272.2 347.6h0.5v17.2h-0.5zM275.2 347.6h1.5v17.2h-1.5zM276.7 347.6h1.5v17.2h-1.5zM279.2 347.6h1.5v17.2h-1.5zM284.6 347.6h1.2v17.2h-1.2zM290.0 347.6h2.5v17.2h-2.5zM301.2 347.6h0.5v17.2h-0.5zM301.7 347.6h0.5v17.2h-0.5zM302.2 347.6h1.0v17.2h-1.0zM307.9 347.6h2.0v17.2h-2.0zM309.9 347.6h1.0v17.2h-1.0zM324.6 347.6h0.5v17.2h-0.5zM328.3 347.6h0.7v17.2h-0.7zM330.5 347.6h1.5v17.2h-1.5zM332.0 347.6h0.5v17.2h-0.5zM340.7 347.6h1.5v17.2h-1.5zM342.2 347.6h1.0v17.2h-1.0zM347.7 347.6h1.0v17.2h-1.0zM349.7 347.6h1.0v17.2h-1.0zM354.4 347.6h1.2v17.2h-1.2zM357.8 347.6h1.2v17.2h-1.2zM365.5 347.6h1.0v17.2h-1.0zM366.5 347.6h1.0v17.2h-1.0zM371.7 347.6h1.5v17.2h-1.5zM374.2 347.6h2.0v17.2h-2.0zM378.2 347.6h1.0v17.2h-1.0zM379.2 347.6h2.0v17.2h-2.0zM381.2 347.6h1.2v17.2h-1.2zM382.4 347.6h1.5v17.2h-1.5zM384.9 347.6h0.7v17.2h-0.7zM385.6 347.6h0.7v17.2h-0.7zM406.4 347.6h0.5v17.2h-0.5zM408.9 347.6h1.5v17.2h-1.5zM412.8 347.6h0.5v17.2h-0.5zM413.3 347.6h1.0v17.2h-1.0zM415.3 347.6h0.5v17.2h-0.5zM415.8 347.6h1.0v17.2h-1.0zM416.8 347.6h1.0v17.2h-1.0zM420.3 347.6h1.5v17.2h-1.5zM428.3 347.6h0.7v17.2h-0.7zM432.2 347.6h1.5v17.2h-1.5zM434.9 347.6h2.0v17.2h-2.0zM436.9 347.6h1.0v17.2h-1.0zM440.4 347.6h1.0v17.2h-1.0zM449.5 347.6h2.5v17.2h-2.5zM455.4 347.6h1.5v17.2h-1.5zM456.9 347.6h1.0v17.2h-1.0zM461.4 347.6h2.0v17.2h-2.0zM147.3 369.0h1.2v17.2h-1.2zM257.0 369.0h1.0v17.2h-1.0zM258.0 369.0h2.5v17.2h-2.5zM262.7 369.0h1.5v17.2h-1.5zM264.2 369.0h0.7v17.2h-0.7zM272.6 369.0h1.0v17.2h-1.0zM277.3 369.0h1.2v17.2h-1.2zM278.5 369.0h2.0v17.2h-2.0zM283.7 369.0h1.3v17.2h-1.3zM289.2 369.0h2.5v17.2h-2.5zM297.6 369.0h1.5v17.2h-1.5zM299.1 369.0h0.7v17.2h-0.7zM299.8 369.0h1.2v17.2h-1.2zM301.0 369.0h1.0v17.2h-1.0zM305.5 369.0h1.0v17.2h-1.0zM309.5 369.0h1.0v17.2h-1.0zM313.2 369.0h0.5v17.2h-0.5zM316.7 369.0h0.5v17.2h-0.5zM320.4 369.0h1.2v17.2h-1.2zM325.0 369.0h1.5v17.2h-1.5zM330.2 369.0h1.2v17.2h-1.2zM331.4 369.0h0.5v17.2h-0.5zM332.9 369.0h0.7v17.2h-0.7zM333.6 369.0h1.2v17.2h-1.2zM337.3 369.0h2.5v17.2h-2.5zM339.8 369.0h1.2v17.2h-1.2zM351.0 369.0h0.5v17.2h-0.5zM351.5 369.0h0.7v17.2h-0.7zM353.4 369.0h1.0v17.2h-1.0zM356.1 369.0h2.5v17.2h-2.5zM369.5 369.0h1.0v17.2h-1.0zM371.7 369.0h1.0v17.2h-1.0zM375.9 369.0h1.5v17.2h-1.5zM379.6 369.0h1.4v17.2h-1.4zM153.4 390.4h1.2v17.2h-1.2zM163.7 390.4h2.5v17.2h-2.5zM166.2 390.4h1.0v17.2h-1.0zM203.6 390.4h1.2v17.2h-1.2zM204.8 390.4h2.5v17.2h-2.5zM207.3 390.4h2.0v17.2h-2.0zM209.3 390.4h1.0v17.2h-1.0zM212.3 390.4h2.0v17.2h-2.0zM216.3 390.4h1.0v17.2h-1.0zM217.3 390.4h2.5v17.2h-2.5zM219.8 390.4h1.2v17.2h-1.2zM231.7 390.4h0.7v17.2h-0.7zM235.4 390.4h1.0v17.2h-1.0zM243.7 390.4h0.5v17.2h-0.5zM247.7 390.4h1.5v17.2h-1.5zM251.0 390.4h1.2v17.2h-1.2zM253.2 390.4h0.7v17.2h-0.7zM258.4 390.4h0.5v17.2h-0.5zM265.1 390.4h2.0v17.2h-2.0zM271.6 390.4h0.7v17.2h-0.7zM273.0 390.4h0.5v17.2h-0.5zM162.6 411.9h1.2v17.2h-1.2zM167.5 411.9h1.0v17.2h-1.0zM168.5 411.9h1.0v17.2h-1.0zM171.5 411.9h2.5v17.2h-2.5zM179.0 411.9h1.0v17.2h-1.0zM180.0 411.9h2.5v17.2h-2.5zM189.2 411.9h1.0v17.2h-1.0zM191.2 411.9h1.5v17.2h-1.5zM195.9 411.9h1.0v17.2h-1.0zM213.0 411.9h1.0v17.2h-1.0zM220.9 411.9h0.7v17.2h-0.7zM231.8 411.9h1.0v17.2h-1.0zM232.8 411.9h2.5v17.2h-2.5zM239.5 411.9h1.0v17.2h-1.0zM244.5 411.9h0.5v17.2h-0.5zM270.5 411.9h1.2v17.2h-1.2zM280.0 411.9h0.5v17.2h-0.5zM245.5 433.3h2.5v17.2h-2.5zM248.5 433.3h0.7v17.2h-0.7zM261.4 433.3h0.7v17.2h-0.7zM263.1 433.3h1.9v17.2h-1.9zM282.5 433.3h1.0v17.2h-1.0zM286.5 433.3h2.0v17.2h-2.0zM292.7 433.3h1.0v17.2h-1.0zM295.2 433.3h0.5v17.2h-0.5zM300.2 433.3h1.0v17.2h-1.0zM314.1 433.3h0.5v17.2h-0.5zM314.6 433.3h0.7v17.2h-0.7zM317.8 433.3h0.5v17.2h-0.5zM318.3 433.3h1.0v17.2h-1.0zM319.3 433.3h0.5v17.2h-0.5zM356.5 433.3h1.2v17.2h-1.2zM225.8 454.8h1.5v17.2h-1.5zM244.5 454.8h1.0v17.2h-1.0zM246.5 454.8h1.0v17.2h-1.0zM247.5 454.8h1.5v17.2h-1.5zM252.2 454.8h0.5v17.2h-0.5zM255.9 454.8h0.5v17.2h-0.5zM256.4 454.8h1.2v17.2h-1.2zM257.6 454.8h1.0v17.2h-1.0zM261.5 454.8h1.0v17.2h-1.0zM264.0 454.8h1.0v17.2h-1.0zM265.0 454.8h1.2v17.2h-1.2zM271.9 454.8h1.5v17.2h-1.5zM273.4 454.8h2.0v17.2h-2.0zM275.4 454.8h1.2v17.2h-1.2zM281.3 454.8h1.0v17.2h-1.0zM284.0 454.8h1.0v17.2h-1.0zM285.0 454.8h1.0v17.2h-1.0zM286.0 454.8h1.0v17.2h-1.0zM290.5 454.8h0.5v17.2h-0.5zM298.6 454.8h1.0v17.2h-1.0zM299.6 454.8h0.7v17.2h-0.7zM314.6 454.8h1.5v17.2h-1.5zM321.0 454.8h1.0v17.2h-1.0zM322.0 454.8h2.0v17.2h-2.0zM328.0 454.8h1.0v17.2h-1.0zM329.0 454.8h2.5v17.2h-2.5zM333.5 454.8h2.0v17.2h-2.0zM340.2 454.8h1.0v17.2h-1.0zM345.5 454.8h1.0v17.2h-1.0zM354.2 454.8h0.7v17.2h-0.7zM160.4 476.2h1.2v17.2h-1.2zM164.6 476.2h1.0v17.2h-1.0zM167.6 476.2h1.5v17.2h-1.5zM175.3 476.2h1.0v17.2h-1.0zM176.3 476.2h1.0v17.2h-1.0zM183.5 476.2h0.5v17.2h-0.5zM184.0 476.2h0.5v17.2h-0.5zM185.2 476.2h2.5v17.2h-2.5zM188.7 476.2h1.0v17.2h-1.0zM194.2 476.2h1.5v17.2h-1.5zM197.2 476.2h1.0v17.2h-1.0zM200.2 476.2h1.0v17.2h-1.0zM201.2 476.2h0.7v17.2h-0.7zM201.9 476.2h1.0v17.2h-1.0zM204.9 476.2h2.0v17.2h-2.0zM206.9 476.2h1.0v17.2h-1.0zM207.9 476.2h1.0v17.2h-1.0zM213.6 476.2h0.7v17.2h-0.7zM215.5 476.2h1.2v17.2h-1.2zM216.7 476.2h1.5v17.2h-1.5zM222.7 476.2h2.0v17.2h-2.0zM227.7 476.2h1.0v17.2h-1.0zM231.2 476.2h1.0v17.2h-1.0zM232.2 476.2h1.5v17.2h-1.5zM234.7 476.2h0.5v17.2h-0.5zM235.2 476.2h2.0v17.2h-2.0zM237.2 476.2h1.0v17.2h-1.0zM241.2 476.2h1.2v17.2h-1.2zM244.4 476.2h1.0v17.2h-1.0zM260.3 476.2h2.5v17.2h-2.5zM263.5 476.2h1.0v17.2h-1.0zM267.5 476.2h1.5v17.2h-1.5zM269.0 476.2h1.0v17.2h-1.0zM274.0 476.2h1.0v17.2h-1.0zM275.0 476.2h1.0v17.2h-1.0zM279.0 476.2h1.0v17.2h-1.0zM282.5 476.2h0.5v17.2h-0.5zM286.0 476.2h0.5v17.2h-0.5zM286.5 476.2h0.5v17.2h-0.5zM287.0 476.2h1.2v17.2h-1.2zM291.2 476.2h2.5v17.2h-2.5zM297.2 476.2h0.5v17.2h-0.5zM300.2 476.2h1.2v17.2h-1.2zM301.4 476.2h1.0v17.2h-1.0zM314.8 476.2h2.5v17.2h-2.5zM318.3 476.2h0.7v17.2h-0.7zM319.5 476.2h0.5v17.2h-0.5zM179.0 497.6h0.5v17.2h-0.5zM182.0 497.6h0.5v17.2h-0.5zM185.7 497.6h1.2v17.2h-1.2zM188.4 497.6h0.7v17.2h-0.7zM195.8 497.6h0.5v17.2h-0.5zM198.3 497.6h0.7v17.2h-0.7zM199.0 497.6h1.0v17.2h-1.0zM201.0 497.6h1.0v17.2h-1.0zM206.0 497.6h1.0v17.2h-1.0zM207.7 497.6h0.7v17.2h-0.7zM211.8 497.6h1.5v17.2h-1.5zM219.0 497.6h0.7v17.2h-0.7zM221.7 497.6h0.7v17.2h-0.7zM222.4 497.6h2.0v17.2h-2.0zM228.4 497.6h0.7v17.2h-0.7zM229.1 497.6h1.0v17.2h-1.0zM233.0 497.6h1.0v17.2h-1.0zM235.0 497.6h1.2v17.2h-1.2zM237.2 497.6h2.0v17.2h-2.0zM242.2 497.6h1.0v17.2h-1.0zM243.2 497.6h1.0v17.2h-1.0zM245.9 497.6h0.7v17.2h-0.7zM259.5 497.6h1.2v17.2h-1.2zM262.9 497.6h2.5v17.2h-2.5zM106.0 519.1h0.5v17.2h-0.5zM111.0 519.1h1.5v17.2h-1.5zM116.9 519.1h0.7v17.2h-0.7zM123.2 519.1h1.0v17.2h-1.0zM145.9 519.1h0.5v17.2h-0.5zM150.4 519.1h2.0v17.2h-2.0zM168.6 519.1h0.5v17.2h-0.5zM178.1 519.1h1.0v17.2h-1.0zM186.5 519.1h1.0v17.2h-1.0zM187.5 519.1h1.0v17.2h-1.0zM188.5 519.1h1.2v17.2h-1.2zM189.7 519.1h1.2v17.2h-1.2zM193.4 519.1h0.5v17.2h-0.5zM194.6 519.1h0.5v17.2h-0.5zM201.8 519.1h1.0v17.2h-1.0zM202.8 519.1h2.0v17.2h-2.0zM205.8 519.1h1.2v17.2h-1.2zM208.7 519.1h0.5v17.2h-0.5zM209.9 519.1h1.0v17.2h-1.0zM212.6 519.1h2.0v17.2h-2.0zM214.6 519.1h1.0v17.2h-1.0zM223.2 519.1h1.4v17.2h-1.4zM229.1 519.1h1.0v17.2h-1.0zM237.2 519.1h1.5v17.2h-1.5zM285.4 519.1h1.0v17.2h-1.0zM104.5 540.5h1.5v17.2h-1.5zM110.5 540.5h1.0v17.2h-1.0zM115.5 540.5h0.7v17.2h-0.7zM119.9 540.5h1.2v17.2h-1.2zM121.1 540.5h2.0v17.2h-2.0zM123.1 540.5h0.5v17.2h-0.5zM125.3 540.5h2.5v17.2h-2.5zM165.4 540.5h2.0v17.2h-2.0zM167.4 540.5h1.0v17.2h-1.0zM170.9 540.5h2.5v17.2h-2.5zM173.4 540.5h1.0v17.2h-1.0zM174.4 540.5h1.2v17.2h-1.2zM178.1 540.5h1.0v17.2h-1.0zM187.1 540.5h2.5v17.2h-2.5zM193.1 540.5h1.0v17.2h-1.0zM194.1 540.5h1.0v17.2h-1.0zM200.5 540.5h1.5v17.2h-1.5zM206.0 540.5h1.0v17.2h-1.0zM207.0 540.5h1.5v17.2h-1.5zM208.5 540.5h1.0v17.2h-1.0zM105.1 562.0h1.2v17.2h-1.2zM112.3 562.0h2.0v17.2h-2.0zM114.3 562.0h0.6v17.2h-0.6zM123.2 562.0h0.7v17.2h-0.7zM134.3 562.0h1.0v17.2h-1.0zM146.7 562.0h1.0v17.2h-1.0zM156.1 562.0h2.5v17.2h-2.5zM158.6 562.0h0.7v17.2h-0.7zM161.8 562.0h0.5v17.2h-0.5zM162.3 562.0h1.5v17.2h-1.5zM180.6 562.0h1.2v17.2h-1.2zM189.5 562.0h1.0v17.2h-1.0zM194.5 562.0h1.0v17.2h-1.0zM198.5 562.0h1.2v17.2h-1.2zM199.7 562.0h0.7v17.2h-0.7zM204.6 562.0h1.2v17.2h-1.2zM207.8 562.0h2.0v17.2h-2.0zM210.8 562.0h1.0v17.2h-1.0zM211.8 562.0h0.5v17.2h-0.5zM216.5 562.0h1.0v17.2h-1.0zM217.5 562.0h0.5v17.2h-0.5zM221.2 562.0h1.0v17.2h-1.0zM222.2 562.0h2.0v17.2h-2.0zM224.2 562.0h1.2v17.2h-1.2zM230.9 562.0h1.5v17.2h-1.5zM232.4 562.0h1.5v17.2h-1.5zM234.9 562.0h2.5v17.2h-2.5zM247.1 562.0h1.0v17.2h-1.0zM248.1 562.0h1.0v17.2h-1.0zM249.1 562.0h2.5v17.2h-2.5zM258.0 562.0h1.0v17.2h-1.0zM259.0 562.0h1.0v17.2h-1.0zM263.2 562.0h1.5v17.2h-1.5zM264.7 562.0h1.0v17.2h-1.0zM271.9 562.0h1.0v17.2h-1.0zM275.1 562.0h1.2v17.2h-1.2zM278.8 562.0h0.7v17.2h-0.7zM286.9 562.0h1.0v17.2h-1.0zM288.9 562.0h1.2v17.2h-1.2zM290.1 562.0h2.0v17.2h-2.0zM293.6 562.0h0.5v17.2h-0.5zM294.1 562.0h0.5v17.2h-0.5zM294.6 562.0h1.5v17.2h-1.5zM296.1 562.0h1.2v17.2h-1.2zM334.7 562.0h1.0v17.2h-1.0zM357.2 562.0h1.0v17.2h-1.0zM358.2 562.0h1.2v17.2h-1.2zM363.1 562.0h1.0v17.2h-1.0zM111.2 583.4h2.0v17.2h-2.0zM134.2 583.4h1.0v17.2h-1.0zM162.5 583.4h1.0v17.2h-1.0zM166.0 583.4h1.0v17.2h-1.0zM186.1 583.4h1.0v17.2h-1.0zM189.5 583.4h0.5v17.2h-0.5zM194.0 583.4h1.0v17.2h-1.0zM202.4 583.4h2.0v17.2h-2.0zM212.6 583.4h1.5v17.2h-1.5zM224.1 583.4h0.5v17.2h-0.5zM232.0 583.4h1.2v17.2h-1.2zM235.7 583.4h1.0v17.2h-1.0zM240.7 583.4h1.0v17.2h-1.0zM245.9 583.4h1.2v17.2h-1.2zM250.7 583.4h0.5v17.2h-0.5zM254.9 583.4h2.0v17.2h-2.0zM268.9 583.4h2.0v17.2h-2.0zM287.1 583.4h1.0v17.2h-1.0zM293.3 583.4h1.0v17.2h-1.0zM300.7 583.4h0.5v17.2h-0.5zM316.9 583.4h0.5v17.2h-0.5zM331.8 583.4h2.0v17.2h-2.0zM347.6 583.4h2.0v17.2h-2.0zM362.2 583.4h0.7v17.2h-0.7zM368.6 583.4h0.7v17.2h-0.7zM142.5 604.8h1.0v17.2h-1.0zM212.8 604.8h2.5v17.2h-2.5zM219.2 604.8h0.5v17.2h-0.5zM234.6 604.8h1.2v17.2h-1.2zM251.3 604.8h1.0v17.2h-1.0zM252.8 604.8h0.5v17.2h-0.5zM255.0 604.8h1.5v17.2h-1.5zM256.5 604.8h1.0v17.2h-1.0zM260.5 604.8h1.0v17.2h-1.0zM262.5 604.8h0.5v17.2h-0.5zM264.2 604.8h0.5v17.2h-0.5zM274.3 604.8h0.7v17.2h-0.7zM299.0 604.8h0.7v17.2h-0.7zM299.7 604.8h0.7v17.2h-0.7zM302.4 604.8h1.0v17.2h-1.0zM304.6 604.8h0.7v17.2h-0.7zM305.3 604.8h1.5v17.2h-1.5zM306.8 604.8h2.0v17.2h-2.0zM308.8 604.8h1.0v17.2h-1.0zM309.8 604.8h1.5v17.2h-1.5zM318.7 604.8h1.5v17.2h-1.5zM320.2 604.8h2.0v17.2h-2.0zM329.6 604.8h0.7v17.2h-0.7zM330.3 604.8h2.5v17.2h-2.5zM334.3 604.8h1.2v17.2h-1.2zM335.5 604.8h1.0v17.2h-1.0zM336.5 604.8h1.0v17.2h-1.0zM367.6 604.8h1.5v17.2h-1.5zM380.3 604.8h0.5v17.2h-0.5zM396.7 604.8h1.5v17.2h-1.5zM398.2 604.8h0.7v17.2h-0.7zM398.9 604.8h2.5v17.2h-2.5zM421.3 604.8h1.0v17.2h-1.0zM429.0 604.8h1.2v17.2h-1.2zM431.2 604.8h1.2v17.2h-1.2zM436.9 604.8h1.0v17.2h-1.0zM226.8 626.3h0.7v17.2h-0.7zM229.5 626.3h1.0v17.2h-1.0zM232.2 626.3h1.0v17.2h-1.0zM234.4 626.3h1.0v17.2h-1.0zM241.3 626.3h1.0v17.2h-1.0zM242.3 626.3h2.5v17.2h-2.5zM245.5 626.3h1.0v17.2h-1.0zM248.2 626.3h1.5v17.2h-1.5zM249.7 626.3h1.2v17.2h-1.2zM250.9 626.3h0.5v17.2h-0.5zM254.4 626.3h1.2v17.2h-1.2zM255.6 626.3h2.0v17.2h-2.0zM259.1 626.3h1.2v17.2h-1.2zM268.0 626.3h0.5v17.2h-0.5zM268.5 626.3h1.0v17.2h-1.0zM285.2 626.3h0.7v17.2h-0.7zM312.1 626.3h1.5v17.2h-1.5zM313.6 626.3h2.5v17.2h-2.5zM316.1 626.3h0.5v17.2h-0.5zM316.6 626.3h2.0v17.2h-2.0zM318.6 626.3h1.2v17.2h-1.2zM320.8 626.3h0.5v17.2h-0.5zM321.3 626.3h2.0v17.2h-2.0zM324.3 626.3h0.7v17.2h-0.7zM326.2 626.3h0.7v17.2h-0.7zM329.4 626.3h1.5v17.2h-1.5zM330.9 626.3h0.5v17.2h-0.5zM331.9 626.3h0.7v17.2h-0.7zM340.7 626.3h0.7v17.2h-0.7zM347.5 626.3h2.5v17.2h-2.5zM350.0 626.3h1.2v17.2h-1.2zM355.4 626.3h1.0v17.2h-1.0zM358.6 626.3h2.0v17.2h-2.0zM365.6 626.3h1.2v17.2h-1.2z"/>
<path fill="#fcefe0" d="M105.4 261.8h1.0v17.2h-1.0zM153.2 261.8h1.2v17.2h-1.2zM161.6 261.8h2.0v17.2h-2.0zM170.8 261.8h1.0v17.2h-1.0zM172.8 261.8h1.0v17.2h-1.0zM174.3 261.8h2.5v17.2h-2.5zM181.0 261.8h2.5v17.2h-2.5zM183.5 261.8h1.5v17.2h-1.5zM187.0 261.8h0.5v17.2h-0.5zM187.5 261.8h1.0v17.2h-1.0zM188.5 261.8h0.7v17.2h-0.7zM200.0 261.8h0.7v17.2h-0.7zM211.2 261.8h0.7v17.2h-0.7zM218.4 261.8h1.0v17.2h-1.0zM219.4 261.8h1.5v17.2h-1.5zM225.4 261.8h1.0v17.2h-1.0zM234.2 261.8h1.2v17.2h-1.2zM235.4 261.8h0.7v17.2h-0.7zM241.5 261.8h0.7v17.2h-0.7zM243.7 261.8h2.0v17.2h-2.0zM252.4 261.8h0.5v17.2h-0.5zM254.6 261.8h1.0v17.2h-1.0zM257.6 261.8h1.0v17.2h-1.0zM259.8 261.8h1.5v17.2h-1.5zM261.8 261.8h1.2v17.2h-1.2zM270.0 261.8h1.0v17.2h-1.0zM278.1 261.8h0.5v17.2h-0.5zM282.8 261.8h0.7v17.2h-0.7zM294.0 261.8h1.0v17.2h-1.0zM295.0 261.8h1.5v17.2h-1.5zM322.0 261.8h0.4v17.2h-0.4zM348.0 261.8h0.5v17.2h-0.5zM363.4 261.8h1.0v17.2h-1.0zM145.5 283.2h0.9v17.2h-0.9zM147.6 283.2h2.0v17.2h-2.0zM149.6 283.2h2.5v17.2h-2.5zM154.8 283.2h2.5v17.2h-2.5zM158.0 283.2h0.5v17.2h-0.5zM170.9 283.2h1.5v17.2h-1.5zM174.1 283.2h2.5v17.2h-2.5zM177.8 283.2h2.5v17.2h-2.5zM189.6 283.2h2.0v17.2h-2.0zM200.2 283.2h0.7v17.2h-0.7zM213.7 283.2h1.5v17.2h-1.5zM233.6 283.2h2.5v17.2h-2.5zM238.1 283.2h2.0v17.2h-2.0zM288.6 283.2h0.5v17.2h-0.5zM342.5 283.2h2.0v17.2h-2.0zM354.3 283.2h0.7v17.2h-0.7zM362.0 283.2h1.0v17.2h-1.0zM122.0 304.7h1.0v17.2h-1.0zM156.4 304.7h0.7v17.2h-0.7zM157.1 304.7h1.0v17.2h-1.0zM158.6 304.7h2.0v17.2h-2.0zM166.1 304.7h0.5v17.2h-0.5zM180.5 304.7h1.5v17.2h-1.5zM182.0 304.7h1.2v17.2h-1.2zM183.2 304.7h2.0v17.2h-2.0zM186.0 304.7h2.0v17.2h-2.0zM188.0 304.7h2.0v17.2h-2.0zM197.7 304.7h1.2v17.2h-1.2zM201.4 304.7h2.5v17.2h-2.5zM208.3 304.7h1.0v17.2h-1.0zM236.4 304.7h1.5v17.2h-1.5zM246.2 304.7h1.2v17.2h-1.2zM250.0 304.7h1.2v17.2h-1.2zM260.4 304.7h1.0v17.2h-1.0zM263.4 304.7h1.0v17.2h-1.0zM266.9 304.7h2.5v17.2h-2.5zM271.4 304.7h2.5v17.2h-2.5zM287.1 304.7h1.5v17.2h-1.5zM290.8 304.7h2.0v17.2h-2.0zM293.3 304.7h1.5v17.2h-1.5zM300.0 304.7h1.0v17.2h-1.0zM302.0 304.7h1.5v17.2h-1.5zM318.7 304.7h2.5v17.2h-2.5zM322.7 304.7h1.0v17.2h-1.0zM337.3 304.7h0.5v17.2h-0.5zM412.0 304.7h1.5v17.2h-1.5zM430.3 304.7h0.7v17.2h-0.7zM114.0 326.1h0.7v17.2h-0.7zM117.4 326.1h0.7v17.2h-0.7zM128.8 326.1h1.0v17.2h-1.0zM133.3 326.1h2.0v17.2h-2.0zM135.3 326.1h1.0v17.2h-1.0zM141.3 326.1h1.0v17.2h-1.0zM142.3 326.1h1.0v17.2h-1.0zM143.3 326.1h2.0v17.2h-2.0zM153.6 326.1h1.0v17.2h-1.0zM155.3 326.1h1.0v17.2h-1.0zM156.3 326.1h2.0v17.2h-2.0zM158.3 326.1h1.0v17.2h-1.0zM165.0 326.1h1.0v17.2h-1.0zM169.7 326.1h1.0v17.2h-1.0zM176.2 326.1h2.0v17.2h-2.0zM182.9 326.1h2.0v17.2h-2.0zM186.4 326.1h0.7v17.2h-0.7zM196.9 326.1h1.2v17.2h-1.2zM200.6 326.1h1.0v17.2h-1.0zM201.6 326.1h1.2v17.2h-1.2zM205.3 326.1h1.0v17.2h-1.0zM206.3 326.1h2.0v17.2h-2.0zM210.8 326.1h2.5v17.2h-2.5zM214.3 326.1h0.7v17.2h-0.7zM216.5 326.1h0.7v17.2h-0.7zM217.7 326.1h2.5v17.2h-2.5zM226.7 326.1h0.5v17.2h-0.5zM234.4 326.1h1.0v17.2h-1.0zM235.4 326.1h1.5v17.2h-1.5zM237.4 326.1h1.0v17.2h-1.0zM238.4 326.1h2.5v17.2h-2.5zM246.9 326.1h0.7v17.2h-0.7zM259.3 326.1h1.0v17.2h-1.0zM267.7 326.1h1.0v17.2h-1.0zM271.4 326.1h1.0v17.2h-1.0zM284.9 326.1h1.2v17.2h-1.2zM286.1 326.1h0.5v17.2h-0.5zM290.1 326.1h1.0v17.2h-1.0zM291.1 326.1h0.9v17.2h-0.9zM292.0 326.1h1.2v17.2h-1.2zM294.7 326.1h0.5v17.2h-0.5zM296.2 326.1h1.0v17.2h-1.0zM299.7 326.1h2.0v17.2h-2.0zM306.5 326.1h2.0v17.2h-2.0zM309.5 326.1h0.5v17.2h-0.5zM312.0 326.1h1.0v17.2h-1.0zM313.0 326.1h0.7v17.2h-0.7zM316.2 326.1h2.5v17.2h-2.5zM321.2 326.1h1.0v17.2h-1.0zM322.2 326.1h0.7v17.2h-0.7zM322.9 326.1h1.0v17.2h-1.0zM323.9 326.1h1.2v17.2h-1.2zM328.6 326.1h2.0v17.2h-2.0zM330.6 326.1h0.7v17.2h-0.7zM333.3 326.1h1.0v17.2h-1.0zM334.3 326.1h0.5v17.2h-0.5zM337.0 326.1h0.7v17.2h-0.7zM435.0 326.1h1.0v17.2h-1.0zM446.7 326.1h1.2v17.2h-1.2zM128.6 347.6h0.5v17.2h-0.5zM150.5 347.6h2.5v17.2h-2.5zM176.0 347.6h0.5v17.2h-0.5zM203.6 347.6h1.0v17.2h-1.0zM208.3 347.6h1.5v17.2h-1.5zM223.2 347.6h1.0v17.2h-1.0zM235.9 347.6h1.0v17.2h-1.0zM237.6 347.6h2.0v17.2h-2.0zM239.6 347.6h1.0v17.2h-1.0zM245.6 347.6h0.5v17.2h-0.5zM249.1 347.6h1.0v17.2h-1.0zM259.3 347.6h2.5v17.2h-2.5zM265.8 347.6h2.5v17.2h-2.5zM278.2 347.6h1.0v17.2h-1.0zM280.7 347.6h2.0v17.2h-2.0zM282.7 347.6h1.2v17.2h-1.2zM285.8 347.6h0.7v17.2h-0.7zM289.0 347.6h1.0v17.2h-1.0zM343.2 347.6h1.5v17.2h-1.5zM351.9 347.6h2.5v17.2h-2.5zM356.3 347.6h1.5v17.2h-1.5zM367.5 347.6h2.0v17.2h-2.0zM376.2 347.6h1.0v17.2h-1.0zM386.3 347.6h1.0v17.2h-1.0zM389.8 347.6h1.5v17.2h-1.5zM391.3 347.6h1.0v17.2h-1.0zM394.0 347.6h1.2v17.2h-1.2zM399.7 347.6h1.5v17.2h-1.5zM401.2 347.6h2.0v17.2h-2.0zM405.2 347.6h1.2v17.2h-1.2zM411.8 347.6h1.0v17.2h-1.0zM423.0 347.6h0.7v17.2h-0.7zM427.1 347.6h1.2v17.2h-1.2zM433.7 347.6h1.2v17.2h-1.2zM437.9 347.6h2.5v17.2h-2.5zM447.0 347.6h2.5v17.2h-2.5zM454.4 347.6h1.0v17.2h-1.0zM466.6 347.6h1.0v17.2h-1.0zM474.5 347.6h0.5v17.2h-0.5zM476.0 347.6h1.0v17.2h-1.0zM120.3 369.0h0.5v17.2h-0.5zM220.5 369.0h0.7v17.2h-0.7zM232.4 369.0h0.5v17.2h-0.5zM251.1 369.0h1.2v17.2h-1.2zM262.0 369.0h0.7v17.2h-0.7zM264.9 369.0h1.0v17.2h-1.0zM265.9 369.0h1.0v17.2h-1.0zM266.9 369.0h1.0v17.2h-1.0zM268.9 369.0h1.2v17.2h-1.2zM270.1 369.0h2.5v17.2h-2.5zM273.6 369.0h2.5v17.2h-2.5zM280.5 369.0h1.0v17.2h-1.0zM286.5 369.0h1.0v17.2h-1.0zM311.2 369.0h0.5v17.2h-0.5zM312.0 369.0h1.2v17.2h-1.2zM313.7 369.0h2.5v17.2h-2.5zM316.2 369.0h0.5v17.2h-0.5zM318.4 369.0h0.5v17.2h-0.5zM318.9 369.0h1.5v17.2h-1.5zM323.1 369.0h0.7v17.2h-0.7zM323.8 369.0h1.2v17.2h-1.2zM331.9 369.0h1.0v17.2h-1.0zM334.8 369.0h2.5v17.2h-2.5zM342.0 369.0h2.0v17.2h-2.0zM344.0 369.0h1.0v17.2h-1.0zM347.5 369.0h2.0v17.2h-2.0zM349.5 369.0h0.5v17.2h-0.5zM358.6 369.0h2.5v17.2h-2.5zM362.1 369.0h1.2v17.2h-1.2zM368.5 369.0h1.0v17.2h-1.0zM370.5 369.0h1.2v17.2h-1.2zM377.4 369.0h1.2v17.2h-1.2zM385.2 369.0h1.0v17.2h-1.0zM418.2 369.0h0.5v17.2h-0.5zM148.7 390.4h1.5v17.2h-1.5zM150.2 390.4h0.7v17.2h-0.7zM150.9 390.4h2.5v17.2h-2.5zM157.1 390.4h1.0v17.2h-1.0zM171.9 390.4h0.2v17.2h-0.2zM201.1 390.4h1.0v17.2h-1.0zM210.3 390.4h2.0v17.2h-2.0zM214.3 390.4h1.0v17.2h-1.0zM230.7 390.4h1.0v17.2h-1.0zM232.4 390.4h2.0v17.2h-2.0zM244.2 390.4h1.0v17.2h-1.0zM249.2 390.4h0.8v17.2h-0.8zM252.2 390.4h1.0v17.2h-1.0zM253.9 390.4h2.0v17.2h-2.0zM255.9 390.4h2.5v17.2h-2.5zM260.9 390.4h1.5v17.2h-1.5zM262.4 390.4h2.0v17.2h-2.0zM264.4 390.4h0.7v17.2h-0.7zM267.6 390.4h1.0v17.2h-1.0zM284.2 390.4h1.0v17.2h-1.0zM286.2 390.4h0.5v17.2h-0.5zM286.7 390.4h1.3v17.2h-1.3zM308.2 390.4h1.2v17.2h-1.2zM310.1 390.4h1.2v17.2h-1.2zM143.6 411.9h1.0v17.2h-1.0zM158.4 411.9h0.8v17.2h-0.8zM160.9 411.9h0.7v17.2h-0.7zM161.6 411.9h1.0v17.2h-1.0zM163.8 411.9h1.0v17.2h-1.0zM164.8 411.9h0.7v17.2h-0.7zM165.5 411.9h2.0v17.2h-2.0zM169.5 411.9h2.0v17.2h-2.0zM174.0 411.9h2.0v17.2h-2.0zM178.5 411.9h0.5v17.2h-0.5zM183.5 411.9h2.5v17.2h-2.5zM186.7 411.9h0.5v17.2h-0.5zM187.2 411.9h1.0v17.2h-1.0zM196.9 411.9h2.5v17.2h-2.5zM199.9 411.9h0.7v17.2h-0.7zM203.5 411.9h2.0v17.2h-2.0zM209.5 411.9h2.5v17.2h-2.5zM214.0 411.9h1.0v17.2h-1.0zM217.7 411.9h2.5v17.2h-2.5zM220.2 411.9h0.7v17.2h-0.7zM223.6 411.9h1.2v17.2h-1.2zM224.8 411.9h2.0v17.2h-2.0zM235.3 411.9h2.5v17.2h-2.5zM238.5 411.9h1.0v17.2h-1.0zM240.5 411.9h2.0v17.2h-2.0zM242.5 411.9h2.0v17.2h-2.0zM249.2 411.9h0.8v17.2h-0.8zM252.7 411.9h0.5v17.2h-0.5zM253.7 411.9h2.0v17.2h-2.0zM257.9 411.9h0.7v17.2h-0.7zM260.6 411.9h1.0v17.2h-1.0zM261.6 411.9h1.0v17.2h-1.0zM262.6 411.9h2.0v17.2h-2.0zM267.1 411.9h0.7v17.2h-0.7zM267.8 411.9h0.5v17.2h-0.5zM268.3 411.9h1.0v17.2h-1.0zM272.9 411.9h1.5v17.2h-1.5zM301.3 411.9h2.0v17.2h-2.0zM312.0 411.9h2.5v17.2h-2.5zM172.9 433.3h0.5v17.2h-0.5zM206.0 433.3h2.5v17.2h-2.5zM248.0 433.3h0.5v17.2h-0.5zM253.4 433.3h2.5v17.2h-2.5zM255.9 433.3h2.0v17.2h-2.0zM259.9 433.3h1.5v17.2h-1.5zM280.0 433.3h2.0v17.2h-2.0zM282.0 433.3h0.5v17.2h-0.5zM283.5 433.3h1.0v17.2h-1.0zM284.5 433.3h2.0v17.2h-2.0zM290.7 433.3h1.0v17.2h-1.0zM294.2 433.3h1.0v17.2h-1.0zM297.2 433.3h1.0v17.2h-1.0zM301.2 433.3h2.0v17.2h-2.0zM303.2 433.3h0.7v17.2h-0.7zM309.6 433.3h2.5v17.2h-2.5zM350.8 433.3h1.0v17.2h-1.0zM351.8 433.3h2.5v17.2h-2.5zM359.4 433.3h0.7v17.2h-0.7zM403.7 433.3h1.0v17.2h-1.0zM112.0 454.8h1.0v17.2h-1.0zM183.9 454.8h1.5v17.2h-1.5zM185.4 454.8h1.0v17.2h-1.0zM198.4 454.8h1.2v17.2h-1.2zM231.3 454.8h2.0v17.2h-2.0zM237.0 454.8h2.5v17.2h-2.5zM245.5 454.8h1.0v17.2h-1.0zM251.5 454.8h0.7v17.2h-0.7zM254.7 454.8h1.2v17.2h-1.2zM258.6 454.8h1.2v17.2h-1.2zM266.2 454.8h2.0v17.2h-2.0zM269.2 454.8h1.0v17.2h-1.0zM270.9 454.8h1.0v17.2h-1.0zM279.3 454.8h2.0v17.2h-2.0zM283.0 454.8h1.0v17.2h-1.0zM287.0 454.8h1.0v17.2h-1.0zM288.0 454.8h2.0v17.2h-2.0zM291.0 454.8h1.5v17.2h-1.5zM293.5 454.8h0.5v17.2h-0.5zM294.0 454.8h0.7v17.2h-0.7zM301.5 454.8h2.0v17.2h-2.0zM306.4 454.8h0.5v17.2h-0.5zM311.1 454.8h2.5v17.2h-2.5zM313.6 454.8h1.0v17.2h-1.0zM316.6 454.8h0.7v17.2h-0.7zM319.0 454.8h2.0v17.2h-2.0zM339.0 454.8h1.2v17.2h-1.2zM341.2 454.8h2.5v17.2h-2.5zM343.7 454.8h0.5v17.2h-0.5zM345.0 454.8h0.5v17.2h-0.5zM347.5 454.8h1.0v17.2h-1.0zM378.8 454.8h0.5v17.2h-0.5zM403.7 454.8h1.0v17.2h-1.0zM412.6 454.8h1.2v17.2h-1.2zM421.9 454.8h1.0v17.2h-1.0zM137.0 476.2h1.5v17.2h-1.5zM148.3 476.2h2.5v17.2h-2.5zM156.2 476.2h1.0v17.2h-1.0zM161.6 476.2h0.5v17.2h-0.5zM170.1 476.2h1.0v17.2h-1.0zM173.8 476.2h0.5v17.2h-0.5zM174.3 476.2h1.0v17.2h-1.0zM180.3 476.2h0.7v17.2h-0.7zM184.5 476.2h0.7v17.2h-0.7zM202.9 476.2h2.0v17.2h-2.0zM212.4 476.2h1.2v17.2h-1.2zM214.3 476.2h1.2v17.2h-1.2zM218.2 476.2h2.0v17.2h-2.0zM228.7 476.2h1.5v17.2h-1.5zM238.7 476.2h2.5v17.2h-2.5zM262.8 476.2h0.7v17.2h-0.7zM265.5 476.2h2.0v17.2h-2.0zM281.5 476.2h1.0v17.2h-1.0zM283.0 476.2h0.5v17.2h-0.5zM283.5 476.2h2.5v17.2h-2.5zM308.4 476.2h1.0v17.2h-1.0zM317.3 476.2h1.0v17.2h-1.0zM329.5 476.2h0.7v17.2h-0.7zM184.5 497.6h1.2v17.2h-1.2zM186.9 497.6h1.5v17.2h-1.5zM193.6 497.6h0.7v17.2h-0.7zM196.3 497.6h1.0v17.2h-1.0zM230.1 497.6h0.5v17.2h-0.5zM230.6 497.6h0.5v17.2h-0.5zM239.7 497.6h2.5v17.2h-2.5zM244.2 497.6h1.0v17.2h-1.0zM245.2 497.6h0.7v17.2h-0.7zM249.3 497.6h0.7v17.2h-0.7zM254.5 497.6h2.5v17.2h-2.5zM257.0 497.6h2.5v17.2h-2.5zM265.4 497.6h0.5v17.2h-0.5zM266.9 497.6h1.0v17.2h-1.0zM274.9 497.6h2.5v17.2h-2.5zM279.4 497.6h2.0v17.2h-2.0zM283.6 497.6h2.0v17.2h-2.0zM293.6 497.6h1.5v17.2h-1.5zM348.0 497.6h1.0v17.2h-1.0zM99.0 519.1h1.0v17.2h-1.0zM115.2 519.1h0.7v17.2h-0.7zM117.6 519.1h0.7v17.2h-0.7zM118.3 519.1h0.5v17.2h-0.5zM126.7 519.1h1.2v17.2h-1.2zM127.9 519.1h2.5v17.2h-2.5zM130.4 519.1h1.5v17.2h-1.5zM141.5 519.1h1.0v17.2h-1.0zM142.5 519.1h0.7v17.2h-0.7zM144.7 519.1h1.2v17.2h-1.2zM147.4 519.1h2.0v17.2h-2.0zM149.4 519.1h1.0v17.2h-1.0zM169.1 519.1h2.0v17.2h-2.0zM173.6 519.1h1.0v17.2h-1.0zM174.6 519.1h1.0v17.2h-1.0zM182.8 519.1h2.0v17.2h-2.0zM195.1 519.1h2.5v17.2h-2.5zM197.6 519.1h1.0v17.2h-1.0zM211.9 519.1h0.7v17.2h-0.7zM215.6 519.1h0.5v17.2h-0.5zM216.5 519.1h0.7v17.2h-0.7zM224.6 519.1h1.0v17.2h-1.0zM225.6 519.1h2.5v17.2h-2.5zM228.1 519.1h1.0v17.2h-1.0zM235.0 519.1h1.2v17.2h-1.2zM236.2 519.1h1.0v17.2h-1.0zM238.7 519.1h1.0v17.2h-1.0zM240.7 519.1h2.5v17.2h-2.5zM244.2 519.1h1.0v17.2h-1.0zM245.2 519.1h0.7v17.2h-0.7zM247.1 519.1h2.0v17.2h-2.0zM249.1 519.1h0.9v17.2h-0.9zM270.9 519.1h0.7v17.2h-0.7zM330.0 519.1h1.0v17.2h-1.0zM343.4 519.1h1.0v17.2h-1.0zM357.5 519.1h1.5v17.2h-1.5zM359.0 519.1h2.2v17.2h-2.2zM106.0 540.5h1.0v17.2h-1.0zM107.0 540.5h2.5v17.2h-2.5zM111.5 540.5h0.5v17.2h-0.5zM116.2 540.5h0.7v17.2h-0.7zM128.8 540.5h1.5v17.2h-1.5zM130.3 540.5h1.0v17.2h-1.0zM132.5 540.5h1.5v17.2h-1.5zM134.5 540.5h0.7v17.2h-0.7zM137.2 540.5h1.0v17.2h-1.0zM192.1 540.5h1.0v17.2h-1.0zM195.1 540.5h1.0v17.2h-1.0zM197.5 540.5h2.5v17.2h-2.5zM200.0 540.5h0.5v17.2h-0.5zM203.5 540.5h2.5v17.2h-2.5zM213.7 540.5h0.7v17.2h-0.7zM221.1 540.5h1.0v17.2h-1.0zM223.1 540.5h0.4v17.2h-0.4zM239.2 540.5h1.0v17.2h-1.0zM265.9 540.5h0.7v17.2h-0.7zM286.4 540.5h0.5v17.2h-0.5zM297.9 540.5h2.5v17.2h-2.5zM343.7 540.5h1.0v17.2h-1.0zM101.9 562.0h0.7v17.2h-0.7zM106.3 562.0h2.0v17.2h-2.0zM119.5 562.0h0.5v17.2h-0.5zM122.5 562.0h0.7v17.2h-0.7zM131.1 562.0h0.7v17.2h-0.7zM143.7 562.0h2.0v17.2h-2.0zM150.4 562.0h0.7v17.2h-0.7zM152.1 562.0h1.0v17.2h-1.0zM160.8 562.0h1.0v17.2h-1.0zM167.5 562.0h1.2v17.2h-1.2zM177.2 562.0h1.0v17.2h-1.0zM181.8 562.0h1.0v17.2h-1.0zM187.5 562.0h2.0v17.2h-2.0zM192.0 562.0h2.5v17.2h-2.5zM196.5 562.0h2.0v17.2h-2.0zM212.8 562.0h2.5v17.2h-2.5zM215.3 562.0h1.2v17.2h-1.2zM218.0 562.0h1.5v17.2h-1.5zM228.9 562.0h2.0v17.2h-2.0zM240.4 562.0h2.0v17.2h-2.0zM245.4 562.0h0.5v17.2h-0.5zM246.4 562.0h0.7v17.2h-0.7zM253.0 562.0h1.0v17.2h-1.0zM255.5 562.0h2.5v17.2h-2.5zM270.7 562.0h1.2v17.2h-1.2zM272.9 562.0h1.5v17.2h-1.5zM282.2 562.0h2.0v17.2h-2.0zM284.2 562.0h1.5v17.2h-1.5zM297.3 562.0h0.7v17.2h-0.7zM321.0 562.0h1.0v17.2h-1.0zM326.5 562.0h1.0v17.2h-1.0zM330.5 562.0h1.5v17.2h-1.5zM332.0 562.0h0.7v17.2h-0.7zM333.7 562.0h1.0v17.2h-1.0zM336.7 562.0h1.0v17.2h-1.0zM337.7 562.0h0.2v17.2h-0.2zM347.2 562.0h2.5v17.2h-2.5zM349.7 562.0h0.5v17.2h-0.5zM350.2 562.0h1.0v17.2h-1.0zM353.7 562.0h1.0v17.2h-1.0zM359.4 562.0h1.2v17.2h-1.2zM360.6 562.0h2.5v17.2h-2.5zM367.3 562.0h0.5v17.2h-0.5zM370.8 562.0h1.0v17.2h-1.0zM372.8 562.0h0.7v17.2h-0.7zM374.5 562.0h0.5v17.2h-0.5zM375.0 562.0h2.0v17.2h-2.0zM101.5 583.4h2.0v17.2h-2.0zM103.5 583.4h2.0v17.2h-2.0zM105.5 583.4h0.5v17.2h-0.5zM106.0 583.4h1.0v17.2h-1.0zM107.0 583.4h2.0v17.2h-2.0zM110.2 583.4h1.0v17.2h-1.0zM117.4 583.4h1.0v17.2h-1.0zM119.6 583.4h2.0v17.2h-2.0zM121.6 583.4h1.5v17.2h-1.5zM126.3 583.4h1.0v17.2h-1.0zM133.5 583.4h0.7v17.2h-0.7zM137.7 583.4h1.2v17.2h-1.2zM138.9 583.4h0.7v17.2h-0.7zM145.6 583.4h1.2v17.2h-1.2zM150.3 583.4h0.7v17.2h-0.7zM152.2 583.4h1.5v17.2h-1.5zM156.1 583.4h1.9v17.2h-1.9zM160.0 583.4h1.0v17.2h-1.0zM161.0 583.4h0.5v17.2h-0.5zM164.5 583.4h1.0v17.2h-1.0zM167.0 583.4h1.5v17.2h-1.5zM168.5 583.4h0.5v17.2h-0.5zM170.2 583.4h0.5v17.2h-0.5zM171.7 583.4h2.0v17.2h-2.0zM173.7 583.4h2.5v17.2h-2.5zM177.2 583.4h1.5v17.2h-1.5zM178.7 583.4h0.7v17.2h-0.7zM187.1 583.4h0.7v17.2h-0.7zM187.8 583.4h1.2v17.2h-1.2zM189.0 583.4h0.5v17.2h-0.5zM211.6 583.4h1.0v17.2h-1.0zM216.3 583.4h1.0v17.2h-1.0zM217.3 583.4h1.2v17.2h-1.2zM218.5 583.4h0.7v17.2h-0.7zM228.3 583.4h1.0v17.2h-1.0zM229.3 583.4h2.0v17.2h-2.0zM231.3 583.4h0.7v17.2h-0.7zM235.2 583.4h0.5v17.2h-0.5zM241.7 583.4h0.5v17.2h-0.5zM243.9 583.4h2.0v17.2h-2.0zM248.1 583.4h1.9v17.2h-1.9zM250.0 583.4h0.7v17.2h-0.7zM256.9 583.4h2.5v17.2h-2.5zM261.4 583.4h2.5v17.2h-2.5zM263.9 583.4h1.0v17.2h-1.0zM264.9 583.4h1.0v17.2h-1.0zM265.9 583.4h2.0v17.2h-2.0zM271.9 583.4h1.0v17.2h-1.0zM272.9 583.4h1.0v17.2h-1.0zM276.9 583.4h0.5v17.2h-0.5zM277.4 583.4h1.0v17.2h-1.0zM278.4 583.4h2.5v17.2h-2.5zM280.9 583.4h1.0v17.2h-1.0zM289.3 583.4h2.5v17.2h-2.5zM291.8 583.4h1.5v17.2h-1.5zM302.9 583.4h1.5v17.2h-1.5zM307.6 583.4h1.0v17.2h-1.0zM308.6 583.4h0.7v17.2h-0.7zM310.5 583.4h2.5v17.2h-2.5zM313.7 583.4h1.2v17.2h-1.2zM317.4 583.4h1.5v17.2h-1.5zM326.3 583.4h0.5v17.2h-0.5zM337.0 583.4h1.0v17.2h-1.0zM346.4 583.4h1.2v17.2h-1.2zM349.6 583.4h1.5v17.2h-1.5zM351.1 583.4h1.0v17.2h-1.0zM352.1 583.4h2.5v17.2h-2.5zM354.6 583.4h1.0v17.2h-1.0zM365.9 583.4h1.2v17.2h-1.2zM121.8 604.8h1.5v17.2h-1.5zM183.1 604.8h1.2v17.2h-1.2zM207.0 604.8h1.2v17.2h-1.2zM209.4 604.8h1.0v17.2h-1.0zM215.3 604.8h1.2v17.2h-1.2zM218.0 604.8h1.2v17.2h-1.2zM219.7 604.8h2.5v17.2h-2.5zM227.9 604.8h0.5v17.2h-0.5zM235.8 604.8h1.0v17.2h-1.0zM237.8 604.8h2.0v17.2h-2.0zM243.3 604.8h2.5v17.2h-2.5zM247.8 604.8h1.0v17.2h-1.0zM253.3 604.8h1.7v17.2h-1.7zM257.5 604.8h0.5v17.2h-0.5zM261.5 604.8h1.0v17.2h-1.0zM271.3 604.8h1.0v17.2h-1.0zM272.3 604.8h2.0v17.2h-2.0zM303.4 604.8h1.2v17.2h-1.2zM313.3 604.8h0.7v17.2h-0.7zM323.2 604.8h1.2v17.2h-1.2zM326.6 604.8h1.0v17.2h-1.0zM339.0 604.8h1.2v17.2h-1.2zM345.9 604.8h1.5v17.2h-1.5zM353.6 604.8h0.4v17.2h-0.4zM360.1 604.8h1.0v17.2h-1.0zM366.9 604.8h0.7v17.2h-0.7zM376.8 604.8h2.5v17.2h-2.5zM380.8 604.8h1.0v17.2h-1.0zM384.5 604.8h0.5v17.2h-0.5zM386.0 604.8h2.0v17.2h-2.0zM389.0 604.8h1.0v17.2h-1.0zM390.0 604.8h1.5v17.2h-1.5zM393.5 604.8h1.0v17.2h-1.0zM395.7 604.8h1.0v17.2h-1.0zM402.6 604.8h0.5v17.2h-0.5zM404.1 604.8h2.5v17.2h-2.5zM406.6 604.8h1.5v17.2h-1.5zM408.1 604.8h1.0v17.2h-1.0zM410.3 604.8h1.0v17.2h-1.0zM413.8 604.8h1.0v17.2h-1.0zM415.8 604.8h2.5v17.2h-2.5zM425.8 604.8h1.2v17.2h-1.2zM430.2 604.8h1.0v17.2h-1.0zM446.3 604.8h0.7v17.2h-0.7zM471.4 604.8h2.5v17.2h-2.5zM125.8 626.3h2.0v17.2h-2.0zM203.3 626.3h1.5v17.2h-1.5zM220.0 626.3h0.7v17.2h-0.7zM225.6 626.3h1.2v17.2h-1.2zM235.4 626.3h1.0v17.2h-1.0zM237.1 626.3h1.2v17.2h-1.2zM246.5 626.3h0.7v17.2h-0.7zM252.4 626.3h2.0v17.2h-2.0zM260.3 626.3h0.5v17.2h-0.5zM260.8 626.3h0.5v17.2h-0.5zM262.3 626.3h2.0v17.2h-2.0zM271.2 626.3h1.0v17.2h-1.0zM289.6 626.3h0.6v17.2h-0.6zM309.6 626.3h2.5v17.2h-2.5zM323.3 626.3h1.0v17.2h-1.0zM325.0 626.3h1.2v17.2h-1.2zM338.7 626.3h2.0v17.2h-2.0zM343.8 626.3h2.0v17.2h-2.0zM351.9 626.3h1.0v17.2h-1.0zM352.9 626.3h2.5v17.2h-2.5zM357.6 626.3h1.0v17.2h-1.0zM366.8 626.3h0.7v17.2h-0.7zM388.3 626.3h1.5v17.2h-1.5z"/>
<path fill="#fae5cb" d="M107.9 261.8h1.0v17.2h-1.0zM108.9 261.8h1.5v17.2h-1.5zM111.6 261.8h1.5v17.2h-1.5zM113.1 261.8h1.0v17.2h-1.0zM117.1 261.8h1.0v17.2h-1.0zM130.6 261.8h1.0v17.2h-1.0zM134.8 261.8h0.7v17.2h-0.7zM135.5 261.8h1.5v17.2h-1.5zM137.0 261.8h1.2v17.2h-1.2zM143.3 261.8h2.0v17.2h-2.0zM148.0 261.8h0.7v17.2h-0.7zM160.6 261.8h1.0v17.2h-1.0zM166.1 261.8h1.0v17.2h-1.0zM167.1 261.8h1.2v17.2h-1.2zM180.5 261.8h0.5v17.2h-0.5zM185.0 261.8h2.0v17.2h-2.0zM189.7 261.8h1.0v17.2h-1.0zM190.7 261.8h1.2v17.2h-1.2zM195.1 261.8h1.2v17.2h-1.2zM197.0 261.8h2.0v17.2h-2.0zM202.7 261.8h1.0v17.2h-1.0zM206.2 261.8h2.5v17.2h-2.5zM223.9 261.8h0.5v17.2h-0.5zM227.6 261.8h1.2v17.2h-1.2zM236.1 261.8h0.7v17.2h-0.7zM261.3 261.8h0.5v17.2h-0.5zM267.5 261.8h1.0v17.2h-1.0zM269.0 261.8h1.0v17.2h-1.0zM271.0 261.8h2.0v17.2h-2.0zM273.0 261.8h0.7v17.2h-0.7zM273.7 261.8h1.2v17.2h-1.2zM274.9 261.8h2.5v17.2h-2.5zM279.6 261.8h0.7v17.2h-0.7zM283.5 261.8h2.5v17.2h-2.5zM286.0 261.8h1.0v17.2h-1.0zM287.0 261.8h2.0v17.2h-2.0zM289.0 261.8h2.0v17.2h-2.0zM291.0 261.8h1.0v17.2h-1.0zM296.5 261.8h0.7v17.2h-0.7zM300.0 261.8h1.2v17.2h-1.2zM303.9 261.8h2.0v17.2h-2.0zM305.9 261.8h1.0v17.2h-1.0zM321.3 261.8h0.7v17.2h-0.7zM332.1 261.8h1.0v17.2h-1.0zM333.1 261.8h1.0v17.2h-1.0zM341.0 261.8h1.0v17.2h-1.0zM365.4 261.8h0.5v17.2h-0.5zM368.4 261.8h1.0v17.2h-1.0zM369.4 261.8h1.0v17.2h-1.0zM376.6 261.8h1.0v17.2h-1.0zM378.6 261.8h1.5v17.2h-1.5zM382.1 261.8h0.5v17.2h-0.5zM382.6 261.8h0.7v17.2h-0.7zM103.0 283.2h1.0v17.2h-1.0zM109.0 283.2h2.0v17.2h-2.0zM111.0 283.2h1.0v17.2h-1.0zM114.5 283.2h2.5v17.2h-2.5zM120.0 283.2h1.0v17.2h-1.0zM121.0 283.2h0.5v17.2h-0.5zM124.2 283.2h2.5v17.2h-2.5zM137.0 283.2h1.0v17.2h-1.0zM140.0 283.2h1.5v17.2h-1.5zM142.5 283.2h1.0v17.2h-1.0zM146.4 283.2h0.5v17.2h-0.5zM146.9 283.2h0.7v17.2h-0.7zM152.1 283.2h2.0v17.2h-2.0zM180.3 283.2h0.7v17.2h-0.7zM263.0 283.2h0.5v17.2h-0.5zM275.0 283.2h0.7v17.2h-0.7zM277.4 283.2h2.0v17.2h-2.0zM279.9 283.2h1.0v17.2h-1.0zM284.9 283.2h0.7v17.2h-0.7zM293.6 283.2h1.0v17.2h-1.0zM295.6 283.2h1.5v17.2h-1.5zM298.1 283.2h1.2v17.2h-1.2zM301.3 283.2h1.5v17.2h-1.5zM303.8 283.2h2.5v17.2h-2.5zM309.3 283.2h1.0v17.2h-1.0zM311.3 283.2h1.0v17.2h-1.0zM316.8 283.2h0.5v17.2h-0.5zM318.3 283.2h0.5v17.2h-0.5zM322.7 283.2h1.2v17.2h-1.2zM330.3 283.2h1.0v17.2h-1.0zM335.5 283.2h1.5v17.2h-1.5zM337.0 283.2h2.0v17.2h-2.0zM346.0 283.2h1.5v17.2h-1.5zM355.0 283.2h1.0v17.2h-1.0zM375.7 283.2h0.7v17.2h-0.7zM377.9 283.2h2.0v17.2h-2.0zM100.0 304.7h1.0v17.2h-1.0zM101.0 304.7h1.0v17.2h-1.0zM102.0 304.7h1.0v17.2h-1.0zM108.2 304.7h0.5v17.2h-0.5zM111.7 304.7h1.2v17.2h-1.2zM112.9 304.7h1.0v17.2h-1.0zM113.9 304.7h0.5v17.2h-0.5zM118.6 304.7h0.5v17.2h-0.5zM119.1 304.7h1.2v17.2h-1.2zM121.5 304.7h0.5v17.2h-0.5zM125.2 304.7h1.2v17.2h-1.2zM126.4 304.7h1.0v17.2h-1.0zM130.4 304.7h1.5v17.2h-1.5zM152.2 304.7h1.2v17.2h-1.2zM162.1 304.7h1.0v17.2h-1.0zM163.1 304.7h1.0v17.2h-1.0zM165.1 304.7h1.0v17.2h-1.0zM174.8 304.7h0.5v17.2h-0.5zM176.5 304.7h2.0v17.2h-2.0zM178.5 304.7h1.0v17.2h-1.0zM179.5 304.7h1.0v17.2h-1.0zM185.2 304.7h0.5v17.2h-0.5zM185.7 304.7h0.3v17.2h-0.3zM212.5 304.7h1.0v17.2h-1.0zM215.5 304.7h2.5v17.2h-2.5zM230.0 304.7h1.2v17.2h-1.2zM259.9 304.7h0.5v17.2h-0.5zM265.4 304.7h1.0v17.2h-1.0zM278.9 304.7h0.5v17.2h-0.5zM303.5 304.7h2.5v17.2h-2.5zM310.5 304.7h1.0v17.2h-1.0zM311.5 304.7h1.0v17.2h-1.0zM325.4 304.7h1.0v17.2h-1.0zM326.4 304.7h0.5v17.2h-0.5zM328.9 304.7h0.5v17.2h-0.5zM329.9 304.7h0.5v17.2h-0.5zM330.4 304.7h1.2v17.2h-1.2zM334.8 304.7h1.5v17.2h-1.5zM336.3 304.7h1.0v17.2h-1.0zM339.5 304.7h1.0v17.2h-1.0zM343.2 304.7h1.0v17.2h-1.0zM352.8 304.7h1.0v17.2h-1.0zM355.8 304.7h2.0v17.2h-2.0zM384.0 304.7h1.2v17.2h-1.2zM397.7 304.7h0.7v17.2h-0.7zM398.4 304.7h0.7v17.2h-0.7zM431.0 304.7h2.5v17.2h-2.5zM441.9 304.7h2.0v17.2h-2.0zM114.7 326.1h1.5v17.2h-1.5zM116.2 326.1h1.2v17.2h-1.2zM122.1 326.1h1.5v17.2h-1.5zM125.3 326.1h1.0v17.2h-1.0zM126.3 326.1h2.5v17.2h-2.5zM129.8 326.1h1.5v17.2h-1.5zM131.3 326.1h1.0v17.2h-1.0zM136.3 326.1h1.5v17.2h-1.5zM137.8 326.1h1.5v17.2h-1.5zM145.3 326.1h0.7v17.2h-0.7zM149.9 326.1h1.0v17.2h-1.0zM150.9 326.1h1.2v17.2h-1.2zM152.1 326.1h0.5v17.2h-0.5zM154.6 326.1h0.7v17.2h-0.7zM160.8 326.1h1.0v17.2h-1.0zM161.8 326.1h0.7v17.2h-0.7zM166.0 326.1h1.0v17.2h-1.0zM167.0 326.1h2.0v17.2h-2.0zM169.0 326.1h0.7v17.2h-0.7zM170.7 326.1h1.0v17.2h-1.0zM178.2 326.1h1.0v17.2h-1.0zM179.7 326.1h1.2v17.2h-1.2zM180.9 326.1h2.0v17.2h-2.0zM187.1 326.1h1.2v17.2h-1.2zM188.8 326.1h0.5v17.2h-0.5zM190.5 326.1h0.7v17.2h-0.7zM191.2 326.1h2.0v17.2h-2.0zM194.2 326.1h1.5v17.2h-1.5zM198.1 326.1h2.5v17.2h-2.5zM213.3 326.1h1.0v17.2h-1.0zM215.0 326.1h1.2v17.2h-1.2zM216.2 326.1h0.3v17.2h-0.3zM255.7 326.1h0.7v17.2h-0.7zM281.2 326.1h2.0v17.2h-2.0zM297.2 326.1h2.5v17.2h-2.5zM301.7 326.1h0.7v17.2h-0.7zM318.7 326.1h2.5v17.2h-2.5zM334.8 326.1h2.2v17.2h-2.2zM346.2 326.1h0.5v17.2h-0.5zM360.8 326.1h1.0v17.2h-1.0zM366.8 326.1h2.0v17.2h-2.0zM375.9 326.1h1.5v17.2h-1.5zM380.9 326.1h1.0v17.2h-1.0zM389.2 326.1h0.6v17.2h-0.6zM398.7 326.1h1.0v17.2h-1.0zM403.4 326.1h2.0v17.2h-2.0zM405.4 326.1h2.5v17.2h-2.5zM408.9 326.1h1.0v17.2h-1.0zM416.1 326.1h1.0v17.2h-1.0zM424.8 326.1h1.5v17.2h-1.5zM426.3 326.1h1.0v17.2h-1.0zM433.0 326.1h1.0v17.2h-1.0zM440.2 326.1h2.0v17.2h-2.0zM443.7 326.1h2.0v17.2h-2.0zM114.0 347.6h0.7v17.2h-0.7zM122.1 347.6h2.5v17.2h-2.5zM126.6 347.6h1.0v17.2h-1.0zM132.1 347.6h2.0v17.2h-2.0zM139.8 347.6h0.7v17.2h-0.7zM144.5 347.6h1.0v17.2h-1.0zM157.1 347.6h2.5v17.2h-2.5zM159.6 347.6h2.5v17.2h-2.5zM165.3 347.6h2.5v17.2h-2.5zM171.5 347.6h1.0v17.2h-1.0zM179.0 347.6h1.0v17.2h-1.0zM182.0 347.6h1.0v17.2h-1.0zM188.7 347.6h2.0v17.2h-2.0zM204.6 347.6h1.2v17.2h-1.2zM209.8 347.6h1.2v17.2h-1.2zM215.2 347.6h0.5v17.2h-0.5zM253.8 347.6h1.0v17.2h-1.0zM254.8 347.6h1.0v17.2h-1.0zM337.0 347.6h1.0v17.2h-1.0zM338.0 347.6h2.0v17.2h-2.0zM355.6 347.6h0.7v17.2h-0.7zM377.2 347.6h1.0v17.2h-1.0zM403.2 347.6h1.0v17.2h-1.0zM421.8 347.6h1.2v17.2h-1.2zM423.7 347.6h1.0v17.2h-1.0zM424.7 347.6h0.5v17.2h-0.5zM452.0 347.6h0.2v17.2h-0.2zM457.9 347.6h2.0v17.2h-2.0zM459.9 347.6h1.0v17.2h-1.0zM460.9 347.6h0.5v17.2h-0.5zM463.4 347.6h1.2v17.2h-1.2zM465.6 347.6h1.0v17.2h-1.0zM467.6 347.6h0.7v17.2h-0.7zM468.3 347.6h1.0v17.2h-1.0zM469.3 347.6h1.0v17.2h-1.0zM473.8 347.6h0.7v17.2h-0.7zM477.0 347.6h0.7v17.2h-0.7zM102.0 369.0h1.0v17.2h-1.0zM103.0 369.0h0.7v17.2h-0.7zM105.7 369.0h2.0v17.2h-2.0zM108.9 369.0h1.0v17.2h-1.0zM111.9 369.0h2.0v17.2h-2.0zM119.6 369.0h0.7v17.2h-0.7zM125.8 369.0h1.0v17.2h-1.0zM130.2 369.0h1.2v17.2h-1.2zM132.6 369.0h1.0v17.2h-1.0zM133.6 369.0h0.5v17.2h-0.5zM139.6 369.0h0.7v17.2h-0.7zM140.3 369.0h1.0v17.2h-1.0zM143.3 369.0h1.5v17.2h-1.5zM145.3 369.0h2.0v17.2h-2.0zM151.0 369.0h1.0v17.2h-1.0zM158.4 369.0h2.0v17.2h-2.0zM182.9 369.0h1.0v17.2h-1.0zM184.9 369.0h0.7v17.2h-0.7zM196.9 369.0h2.5v17.2h-2.5zM201.9 369.0h0.7v17.2h-0.7zM209.0 369.0h1.2v17.2h-1.2zM211.9 369.0h0.7v17.2h-0.7zM216.8 369.0h1.2v17.2h-1.2zM223.7 369.0h2.0v17.2h-2.0zM226.9 369.0h1.0v17.2h-1.0zM235.9 369.0h0.5v17.2h-0.5zM240.9 369.0h1.7v17.2h-1.7zM246.7 369.0h0.5v17.2h-0.5zM261.5 369.0h0.5v17.2h-0.5zM267.9 369.0h1.0v17.2h-1.0zM317.2 369.0h1.2v17.2h-1.2zM321.6 369.0h1.5v17.2h-1.5zM326.5 369.0h2.0v17.2h-2.0zM328.5 369.0h0.5v17.2h-0.5zM341.0 369.0h1.0v17.2h-1.0zM354.4 369.0h0.7v17.2h-0.7zM361.1 369.0h1.0v17.2h-1.0zM374.7 369.0h1.2v17.2h-1.2zM381.0 369.0h1.2v17.2h-1.2zM388.2 369.0h1.2v17.2h-1.2zM391.9 369.0h2.0v17.2h-2.0zM396.9 369.0h1.0v17.2h-1.0zM398.4 369.0h1.0v17.2h-1.0zM399.4 369.0h2.0v17.2h-2.0zM402.9 369.0h1.2v17.2h-1.2zM404.1 369.0h2.0v17.2h-2.0zM408.1 369.0h0.7v17.2h-0.7zM408.8 369.0h0.5v17.2h-0.5zM409.3 369.0h1.0v17.2h-1.0zM410.3 369.0h1.2v17.2h-1.2zM412.5 369.0h1.5v17.2h-1.5zM422.7 369.0h0.5v17.2h-0.5zM423.2 369.0h1.2v17.2h-1.2zM424.4 369.0h0.7v17.2h-0.7zM99.0 390.4h1.0v17.2h-1.0zM100.0 390.4h2.5v17.2h-2.5zM130.2 390.4h0.5v17.2h-0.5zM154.6 390.4h2.5v17.2h-2.5zM160.1 390.4h1.2v17.2h-1.2zM161.3 390.4h1.4v17.2h-1.4zM236.4 390.4h1.1v17.2h-1.1zM267.1 390.4h0.5v17.2h-0.5zM269.1 390.4h1.0v17.2h-1.0zM270.1 390.4h1.5v17.2h-1.5zM272.3 390.4h0.7v17.2h-0.7zM274.2 390.4h1.0v17.2h-1.0zM275.7 390.4h1.0v17.2h-1.0zM278.7 390.4h2.5v17.2h-2.5zM285.2 390.4h1.0v17.2h-1.0zM288.0 390.4h1.0v17.2h-1.0zM298.0 390.4h1.0v17.2h-1.0zM304.5 390.4h1.2v17.2h-1.2zM312.3 390.4h1.0v17.2h-1.0zM316.3 390.4h2.0v17.2h-2.0zM318.3 390.4h1.0v17.2h-1.0zM320.8 390.4h0.7v17.2h-0.7zM322.2 390.4h2.0v17.2h-2.0zM333.2 390.4h2.0v17.2h-2.0zM335.9 390.4h1.0v17.2h-1.0zM111.8 411.9h1.0v17.2h-1.0zM119.0 411.9h1.0v17.2h-1.0zM123.5 411.9h0.7v17.2h-0.7zM126.7 411.9h1.5v17.2h-1.5zM128.2 411.9h1.2v17.2h-1.2zM136.4 411.9h0.7v17.2h-0.7zM140.6 411.9h1.0v17.2h-1.0zM145.3 411.9h1.2v17.2h-1.2zM147.5 411.9h0.5v17.2h-0.5zM150.2 411.9h1.2v17.2h-1.2zM154.9 411.9h2.5v17.2h-2.5zM160.4 411.9h0.5v17.2h-0.5zM182.5 411.9h1.0v17.2h-1.0zM199.4 411.9h0.5v17.2h-0.5zM201.3 411.9h1.0v17.2h-1.0zM206.5 411.9h1.5v17.2h-1.5zM212.0 411.9h1.0v17.2h-1.0zM221.6 411.9h0.5v17.2h-0.5zM228.8 411.9h1.0v17.2h-1.0zM229.8 411.9h2.0v17.2h-2.0zM245.0 411.9h1.5v17.2h-1.5zM246.5 411.9h1.2v17.2h-1.2zM247.7 411.9h1.5v17.2h-1.5zM250.0 411.9h1.2v17.2h-1.2zM255.7 411.9h1.0v17.2h-1.0zM256.7 411.9h1.2v17.2h-1.2zM258.6 411.9h2.0v17.2h-2.0zM280.5 411.9h1.0v17.2h-1.0zM295.6 411.9h0.5v17.2h-0.5zM305.0 411.9h1.0v17.2h-1.0zM306.0 411.9h2.5v17.2h-2.5zM308.5 411.9h1.5v17.2h-1.5zM325.9 411.9h1.0v17.2h-1.0zM326.9 411.9h0.5v17.2h-0.5zM327.4 411.9h2.5v17.2h-2.5zM334.1 411.9h1.9v17.2h-1.9zM101.2 433.3h1.5v17.2h-1.5zM111.4 433.3h1.2v17.2h-1.2zM121.3 433.3h0.5v17.2h-0.5zM125.0 433.3h2.5v17.2h-2.5zM140.8 433.3h1.0v17.2h-1.0zM143.0 433.3h1.5v17.2h-1.5zM146.0 433.3h1.5v17.2h-1.5zM148.5 433.3h1.0v17.2h-1.0zM160.0 433.3h1.0v17.2h-1.0zM161.7 433.3h2.5v17.2h-2.5zM164.2 433.3h1.2v17.2h-1.2zM168.4 433.3h2.5v17.2h-2.5zM173.4 433.3h2.0v17.2h-2.0zM192.0 433.3h1.5v17.2h-1.5zM196.5 433.3h1.0v17.2h-1.0zM201.0 433.3h2.0v17.2h-2.0zM203.0 433.3h1.0v17.2h-1.0zM205.0 433.3h1.0v17.2h-1.0zM213.0 433.3h0.5v17.2h-0.5zM219.4 433.3h1.0v17.2h-1.0zM224.9 433.3h1.2v17.2h-1.2zM249.7 433.3h2.5v17.2h-2.5zM258.9 433.3h1.0v17.2h-1.0zM262.1 433.3h1.0v17.2h-1.0zM288.5 433.3h0.7v17.2h-0.7zM298.2 433.3h0.5v17.2h-0.5zM312.1 433.3h1.5v17.2h-1.5zM322.5 433.3h2.0v17.2h-2.0zM328.8 433.3h0.7v17.2h-0.7zM330.5 433.3h1.0v17.2h-1.0zM332.7 433.3h0.5v17.2h-0.5zM333.2 433.3h0.5v17.2h-0.5zM341.9 433.3h0.5v17.2h-0.5zM345.9 433.3h0.7v17.2h-0.7zM362.5 433.3h2.5v17.2h-2.5zM365.0 433.3h2.0v17.2h-2.0zM367.0 433.3h2.5v17.2h-2.5zM383.7 433.3h0.5v17.2h-0.5zM386.9 433.3h1.0v17.2h-1.0zM395.8 433.3h2.0v17.2h-2.0zM404.7 433.3h1.0v17.2h-1.0zM106.8 454.8h1.0v17.2h-1.0zM107.8 454.8h2.0v17.2h-2.0zM111.0 454.8h1.0v17.2h-1.0zM115.2 454.8h1.0v17.2h-1.0zM121.4 454.8h0.5v17.2h-0.5zM127.4 454.8h0.5v17.2h-0.5zM132.4 454.8h0.7v17.2h-0.7zM140.8 454.8h0.7v17.2h-0.7zM142.5 454.8h2.0v17.2h-2.0zM148.4 454.8h1.5v17.2h-1.5zM154.9 454.8h1.0v17.2h-1.0zM159.9 454.8h1.0v17.2h-1.0zM162.9 454.8h0.7v17.2h-0.7zM163.6 454.8h1.2v17.2h-1.2zM186.4 454.8h2.0v17.2h-2.0zM193.4 454.8h1.0v17.2h-1.0zM194.4 454.8h2.0v17.2h-2.0zM201.1 454.8h1.0v17.2h-1.0zM202.1 454.8h0.5v17.2h-0.5zM205.6 454.8h1.5v17.2h-1.5zM210.1 454.8h2.5v17.2h-2.5zM213.8 454.8h0.5v17.2h-0.5zM214.3 454.8h1.5v17.2h-1.5zM220.8 454.8h1.5v17.2h-1.5zM224.5 454.8h1.0v17.2h-1.0zM228.8 454.8h2.5v17.2h-2.5zM233.3 454.8h2.5v17.2h-2.5zM239.5 454.8h0.3v17.2h-0.3zM259.8 454.8h1.0v17.2h-1.0zM260.8 454.8h0.7v17.2h-0.7zM262.5 454.8h1.5v17.2h-1.5zM282.3 454.8h0.7v17.2h-0.7zM297.9 454.8h0.7v17.2h-0.7zM346.5 454.8h1.0v17.2h-1.0zM348.5 454.8h2.5v17.2h-2.5zM351.0 454.8h1.2v17.2h-1.2zM352.2 454.8h2.0v17.2h-2.0zM354.9 454.8h0.1v17.2h-0.1zM360.5 454.8h2.5v17.2h-2.5zM369.5 454.8h1.0v17.2h-1.0zM370.5 454.8h2.5v17.2h-2.5zM377.4 454.8h0.7v17.2h-0.7zM383.5 454.8h1.5v17.2h-1.5zM387.5 454.8h1.2v17.2h-1.2zM389.7 454.8h2.5v17.2h-2.5zM399.2 454.8h2.0v17.2h-2.0zM410.6 454.8h1.5v17.2h-1.5zM415.3 454.8h1.2v17.2h-1.2zM420.9 454.8h1.0v17.2h-1.0zM429.1 454.8h1.0v17.2h-1.0zM113.1 476.2h0.7v17.2h-0.7zM114.3 476.2h0.5v17.2h-0.5zM129.1 476.2h2.5v17.2h-2.5zM133.6 476.2h1.0v17.2h-1.0zM139.5 476.2h0.7v17.2h-0.7zM141.2 476.2h1.2v17.2h-1.2zM142.4 476.2h0.5v17.2h-0.5zM142.9 476.2h1.5v17.2h-1.5zM162.6 476.2h1.0v17.2h-1.0zM163.6 476.2h1.0v17.2h-1.0zM169.1 476.2h1.0v17.2h-1.0zM171.1 476.2h2.2v17.2h-2.2zM178.3 476.2h1.0v17.2h-1.0zM179.3 476.2h1.0v17.2h-1.0zM182.0 476.2h1.5v17.2h-1.5zM224.7 476.2h1.5v17.2h-1.5zM227.2 476.2h0.5v17.2h-0.5zM259.6 476.2h0.7v17.2h-0.7zM288.2 476.2h2.5v17.2h-2.5zM290.7 476.2h0.5v17.2h-0.5zM297.7 476.2h2.5v17.2h-2.5zM303.9 476.2h2.0v17.2h-2.0zM322.5 476.2h0.5v17.2h-0.5zM323.0 476.2h1.0v17.2h-1.0zM326.5 476.2h1.0v17.2h-1.0zM330.2 476.2h1.0v17.2h-1.0zM332.2 476.2h1.2v17.2h-1.2zM344.1 476.2h1.0v17.2h-1.0zM351.6 476.2h0.5v17.2h-0.5zM352.1 476.2h0.5v17.2h-0.5zM360.7 476.2h1.0v17.2h-1.0zM363.7 476.2h0.5v17.2h-0.5zM368.4 476.2h2.0v17.2h-2.0zM99.0 497.6h1.5v17.2h-1.5zM105.0 497.6h1.0v17.2h-1.0zM112.9 497.6h1.2v17.2h-1.2zM120.5 497.6h2.0v17.2h-2.0zM136.8 497.6h1.5v17.2h-1.5zM145.0 497.6h1.0v17.2h-1.0zM150.7 497.6h0.5v17.2h-0.5zM151.2 497.6h1.5v17.2h-1.5zM163.3 497.6h1.0v17.2h-1.0zM164.3 497.6h1.0v17.2h-1.0zM165.3 497.6h0.7v17.2h-0.7zM178.0 497.6h1.0v17.2h-1.0zM194.3 497.6h1.5v17.2h-1.5zM218.0 497.6h1.0v17.2h-1.0zM260.7 497.6h1.2v17.2h-1.2zM261.9 497.6h1.0v17.2h-1.0zM269.9 497.6h2.5v17.2h-2.5zM272.4 497.6h2.5v17.2h-2.5zM281.4 497.6h1.0v17.2h-1.0zM282.4 497.6h1.2v17.2h-1.2zM285.6 497.6h1.2v17.2h-1.2zM287.8 497.6h1.0v17.2h-1.0zM299.6 497.6h2.0v17.2h-2.0zM302.6 497.6h1.2v17.2h-1.2zM303.8 497.6h2.0v17.2h-2.0zM325.9 497.6h1.2v17.2h-1.2zM328.8 497.6h1.0v17.2h-1.0zM331.8 497.6h1.0v17.2h-1.0zM332.8 497.6h1.2v17.2h-1.2zM335.9 497.6h0.7v17.2h-0.7zM100.0 519.1h0.5v17.2h-0.5zM103.0 519.1h1.0v17.2h-1.0zM104.0 519.1h2.0v17.2h-2.0zM106.5 519.1h1.5v17.2h-1.5zM109.0 519.1h2.0v17.2h-2.0zM115.9 519.1h1.0v17.2h-1.0zM118.8 519.1h0.7v17.2h-0.7zM122.0 519.1h1.2v17.2h-1.2zM124.2 519.1h2.5v17.2h-2.5zM131.9 519.1h1.2v17.2h-1.2zM133.1 519.1h2.5v17.2h-2.5zM135.6 519.1h1.0v17.2h-1.0zM137.8 519.1h1.2v17.2h-1.2zM139.0 519.1h2.5v17.2h-2.5zM146.4 519.1h1.0v17.2h-1.0zM155.1 519.1h0.6v17.2h-0.6zM190.9 519.1h2.5v17.2h-2.5zM208.0 519.1h0.7v17.2h-0.7zM210.9 519.1h1.0v17.2h-1.0zM232.1 519.1h1.2v17.2h-1.2zM233.3 519.1h1.2v17.2h-1.2zM234.5 519.1h0.5v17.2h-0.5zM239.7 519.1h1.0v17.2h-1.0zM243.2 519.1h1.0v17.2h-1.0zM245.9 519.1h1.2v17.2h-1.2zM258.2 519.1h1.5v17.2h-1.5zM259.7 519.1h0.7v17.2h-0.7zM263.9 519.1h1.0v17.2h-1.0zM264.9 519.1h1.0v17.2h-1.0zM265.9 519.1h2.5v17.2h-2.5zM277.3 519.1h1.2v17.2h-1.2zM281.2 519.1h0.7v17.2h-0.7zM281.9 519.1h0.5v17.2h-0.5zM282.4 519.1h1.0v17.2h-1.0zM286.4 519.1h2.0v17.2h-2.0zM289.4 519.1h1.5v17.2h-1.5zM295.3 519.1h1.0v17.2h-1.0zM311.8 519.1h1.5v17.2h-1.5zM327.5 519.1h1.0v17.2h-1.0zM335.5 519.1h1.2v17.2h-1.2zM337.2 519.1h1.0v17.2h-1.0zM341.7 519.1h1.0v17.2h-1.0zM356.3 519.1h1.2v17.2h-1.2zM112.0 540.5h0.5v17.2h-0.5zM113.5 540.5h2.0v17.2h-2.0zM116.9 540.5h2.5v17.2h-2.5zM123.6 540.5h1.0v17.2h-1.0zM124.6 540.5h0.7v17.2h-0.7zM131.3 540.5h0.5v17.2h-0.5zM131.8 540.5h0.7v17.2h-0.7zM135.2 540.5h1.0v17.2h-1.0zM136.2 540.5h1.0v17.2h-1.0zM179.1 540.5h1.5v17.2h-1.5zM214.4 540.5h0.7v17.2h-0.7zM217.1 540.5h2.0v17.2h-2.0zM219.1 540.5h1.0v17.2h-1.0zM225.8 540.5h2.5v17.2h-2.5zM228.3 540.5h2.5v17.2h-2.5zM233.0 540.5h1.0v17.2h-1.0zM242.4 540.5h2.5v17.2h-2.5zM251.1 540.5h1.5v17.2h-1.5zM256.3 540.5h0.7v17.2h-0.7zM262.2 540.5h1.2v17.2h-1.2zM277.3 540.5h1.0v17.2h-1.0zM279.3 540.5h1.2v17.2h-1.2zM285.2 540.5h0.5v17.2h-0.5zM285.7 540.5h0.7v17.2h-0.7zM291.4 540.5h1.5v17.2h-1.5zM293.9 540.5h1.5v17.2h-1.5zM300.9 540.5h1.5v17.2h-1.5zM303.6 540.5h0.5v17.2h-0.5zM314.0 540.5h2.0v17.2h-2.0zM318.2 540.5h0.5v17.2h-0.5zM320.7 540.5h1.0v17.2h-1.0zM329.2 540.5h2.5v17.2h-2.5zM339.2 540.5h2.5v17.2h-2.5zM342.7 540.5h0.5v17.2h-0.5zM99.7 562.0h1.2v17.2h-1.2zM111.8 562.0h0.5v17.2h-0.5zM120.0 562.0h2.5v17.2h-2.5zM124.9 562.0h2.5v17.2h-2.5zM128.1 562.0h2.0v17.2h-2.0zM130.1 562.0h1.0v17.2h-1.0zM141.0 562.0h1.2v17.2h-1.2zM142.2 562.0h1.5v17.2h-1.5zM145.7 562.0h1.0v17.2h-1.0zM148.9 562.0h1.0v17.2h-1.0zM149.9 562.0h0.5v17.2h-0.5zM151.1 562.0h1.0v17.2h-1.0zM163.8 562.0h1.0v17.2h-1.0zM165.3 562.0h1.5v17.2h-1.5zM168.7 562.0h1.5v17.2h-1.5zM170.2 562.0h1.8v17.2h-1.8zM184.8 562.0h0.7v17.2h-0.7zM200.4 562.0h0.7v17.2h-0.7zM233.9 562.0h1.0v17.2h-1.0zM242.4 562.0h0.5v17.2h-0.5zM268.7 562.0h2.0v17.2h-2.0zM317.0 562.0h2.5v17.2h-2.5zM319.5 562.0h1.0v17.2h-1.0zM320.5 562.0h0.5v17.2h-0.5zM322.0 562.0h0.5v17.2h-0.5zM322.5 562.0h1.0v17.2h-1.0zM323.5 562.0h1.0v17.2h-1.0zM327.5 562.0h2.0v17.2h-2.0zM332.7 562.0h1.0v17.2h-1.0zM346.2 562.0h1.0v17.2h-1.0zM353.2 562.0h0.5v17.2h-0.5zM364.1 562.0h2.0v17.2h-2.0zM366.1 562.0h1.2v17.2h-1.2zM367.8 562.0h1.0v17.2h-1.0zM368.8 562.0h2.0v17.2h-2.0zM371.8 562.0h1.0v17.2h-1.0zM99.0 583.4h2.5v17.2h-2.5zM115.7 583.4h0.7v17.2h-0.7zM118.4 583.4h1.2v17.2h-1.2zM129.8 583.4h0.7v17.2h-0.7zM132.5 583.4h1.0v17.2h-1.0zM135.2 583.4h2.5v17.2h-2.5zM143.6 583.4h2.0v17.2h-2.0zM149.3 583.4h1.0v17.2h-1.0zM151.0 583.4h1.2v17.2h-1.2zM154.4 583.4h0.7v17.2h-0.7zM155.1 583.4h0.5v17.2h-0.5zM155.6 583.4h0.5v17.2h-0.5zM161.5 583.4h1.0v17.2h-1.0zM163.5 583.4h1.0v17.2h-1.0zM169.0 583.4h0.5v17.2h-0.5zM169.5 583.4h0.7v17.2h-0.7zM170.7 583.4h1.0v17.2h-1.0zM176.2 583.4h1.0v17.2h-1.0zM181.4 583.4h1.2v17.2h-1.2zM182.6 583.4h2.5v17.2h-2.5zM190.0 583.4h2.0v17.2h-2.0zM192.0 583.4h1.0v17.2h-1.0zM193.0 583.4h1.0v17.2h-1.0zM201.7 583.4h0.7v17.2h-0.7zM204.4 583.4h1.2v17.2h-1.2zM205.6 583.4h2.5v17.2h-2.5zM209.1 583.4h0.5v17.2h-0.5zM209.6 583.4h0.5v17.2h-0.5zM210.1 583.4h1.5v17.2h-1.5zM214.1 583.4h1.0v17.2h-1.0zM215.1 583.4h1.2v17.2h-1.2zM219.2 583.4h1.2v17.2h-1.2zM220.4 583.4h1.5v17.2h-1.5zM221.9 583.4h1.0v17.2h-1.0zM236.7 583.4h2.0v17.2h-2.0zM242.2 583.4h1.0v17.2h-1.0zM243.2 583.4h0.7v17.2h-0.7zM247.1 583.4h1.0v17.2h-1.0zM252.7 583.4h1.0v17.2h-1.0zM259.4 583.4h1.0v17.2h-1.0zM267.9 583.4h1.0v17.2h-1.0zM270.9 583.4h1.0v17.2h-1.0zM285.1 583.4h2.0v17.2h-2.0zM295.0 583.4h2.5v17.2h-2.5zM299.5 583.4h0.5v17.2h-0.5zM300.0 583.4h0.7v17.2h-0.7zM306.4 583.4h1.2v17.2h-1.2zM313.0 583.4h0.7v17.2h-0.7zM314.9 583.4h1.0v17.2h-1.0zM318.9 583.4h1.0v17.2h-1.0zM321.1 583.4h1.0v17.2h-1.0zM322.1 583.4h2.5v17.2h-2.5zM324.6 583.4h1.0v17.2h-1.0zM325.6 583.4h0.7v17.2h-0.7zM326.8 583.4h2.5v17.2h-2.5zM329.3 583.4h1.0v17.2h-1.0zM335.0 583.4h0.5v17.2h-0.5zM338.0 583.4h0.7v17.2h-0.7zM342.4 583.4h1.5v17.2h-1.5zM343.9 583.4h2.5v17.2h-2.5zM355.6 583.4h0.7v17.2h-0.7zM358.3 583.4h0.7v17.2h-0.7zM359.0 583.4h2.5v17.2h-2.5zM361.5 583.4h0.7v17.2h-0.7zM125.8 604.8h2.5v17.2h-2.5zM135.0 604.8h0.5v17.2h-0.5zM137.5 604.8h1.0v17.2h-1.0zM149.0 604.8h2.0v17.2h-2.0zM156.0 604.8h2.5v17.2h-2.5zM162.2 604.8h2.0v17.2h-2.0zM193.3 604.8h1.5v17.2h-1.5zM196.8 604.8h1.2v17.2h-1.2zM210.4 604.8h0.5v17.2h-0.5zM210.9 604.8h0.7v17.2h-0.7zM216.5 604.8h1.5v17.2h-1.5zM222.2 604.8h2.5v17.2h-2.5zM224.7 604.8h0.7v17.2h-0.7zM229.9 604.8h0.5v17.2h-0.5zM230.4 604.8h1.0v17.2h-1.0zM231.4 604.8h2.5v17.2h-2.5zM233.9 604.8h0.7v17.2h-0.7zM245.8 604.8h2.0v17.2h-2.0zM248.8 604.8h2.5v17.2h-2.5zM252.3 604.8h0.5v17.2h-0.5zM265.7 604.8h0.7v17.2h-0.7zM266.4 604.8h1.0v17.2h-1.0zM332.8 604.8h0.5v17.2h-0.5zM338.5 604.8h0.5v17.2h-0.5zM344.4 604.8h1.5v17.2h-1.5zM348.6 604.8h0.5v17.2h-0.5zM357.6 604.8h2.5v17.2h-2.5zM363.0 604.8h0.5v17.2h-0.5zM375.6 604.8h0.7v17.2h-0.7zM376.3 604.8h0.5v17.2h-0.5zM385.0 604.8h1.0v17.2h-1.0zM388.0 604.8h1.0v17.2h-1.0zM391.5 604.8h2.0v17.2h-2.0zM394.5 604.8h1.2v17.2h-1.2zM401.9 604.8h0.7v17.2h-0.7zM409.1 604.8h1.2v17.2h-1.2zM411.3 604.8h2.5v17.2h-2.5zM414.8 604.8h1.0v17.2h-1.0zM418.3 604.8h0.5v17.2h-0.5zM422.3 604.8h1.0v17.2h-1.0zM424.3 604.8h1.0v17.2h-1.0zM425.3 604.8h0.5v17.2h-0.5zM427.0 604.8h1.0v17.2h-1.0zM428.0 604.8h1.0v17.2h-1.0zM434.9 604.8h2.0v17.2h-2.0zM437.9 604.8h0.6v17.2h-0.6zM450.5 604.8h0.5v17.2h-0.5zM451.0 604.8h1.0v17.2h-1.0zM452.0 604.8h0.7v17.2h-0.7zM452.7 604.8h1.2v17.2h-1.2zM458.1 604.8h1.5v17.2h-1.5zM459.6 604.8h2.5v17.2h-2.5zM466.1 604.8h1.0v17.2h-1.0zM467.1 604.8h1.0v17.2h-1.0zM474.6 604.8h0.7v17.2h-0.7zM99.5 626.3h1.0v17.2h-1.0zM103.0 626.3h2.0v17.2h-2.0zM114.4 626.3h2.0v17.2h-2.0zM127.8 626.3h2.5v17.2h-2.5zM135.9 626.3h0.5v17.2h-0.5zM138.4 626.3h1.5v17.2h-1.5zM154.1 626.3h1.0v17.2h-1.0zM155.1 626.3h1.0v17.2h-1.0zM156.1 626.3h2.5v17.2h-2.5zM169.2 626.3h1.0v17.2h-1.0zM172.2 626.3h1.0v17.2h-1.0zM180.4 626.3h2.0v17.2h-2.0zM182.4 626.3h0.5v17.2h-0.5zM186.9 626.3h2.0v17.2h-2.0zM191.4 626.3h0.7v17.2h-0.7zM195.6 626.3h2.0v17.2h-2.0zM201.3 626.3h1.0v17.2h-1.0zM204.8 626.3h2.0v17.2h-2.0zM207.5 626.3h1.0v17.2h-1.0zM208.5 626.3h0.7v17.2h-0.7zM223.1 626.3h2.5v17.2h-2.5zM227.5 626.3h2.0v17.2h-2.0zM233.2 626.3h0.5v17.2h-0.5zM233.7 626.3h0.7v17.2h-0.7zM238.3 626.3h2.5v17.2h-2.5zM264.3 626.3h2.0v17.2h-2.0zM338.0 626.3h0.7v17.2h-0.7zM342.6 626.3h1.2v17.2h-1.2zM345.8 626.3h1.0v17.2h-1.0zM367.5 626.3h1.8v17.2h-1.8zM371.7 626.3h1.0v17.2h-1.0zM373.4 626.3h1.2v17.2h-1.2zM377.1 626.3h1.0v17.2h-1.0zM378.1 626.3h2.0v17.2h-2.0zM392.3 626.3h1.2v17.2h-1.2zM401.2 626.3h2.5v17.2h-2.5zM407.2 626.3h2.0v17.2h-2.0zM409.2 626.3h1.2v17.2h-1.2zM416.1 626.3h2.5v17.2h-2.5zM423.2 626.3h1.0v17.2h-1.0zM429.1 626.3h1.0v17.2h-1.0zM448.0 626.3h0.5v17.2h-0.5zM448.5 626.3h1.0v17.2h-1.0zM452.0 626.3h2.5v17.2h-2.5zM457.7 626.3h2.5v17.2h-2.5zM460.2 626.3h1.2v17.2h-1.2zM464.4 626.3h2.5v17.2h-2.5zM478.3 626.3h1.0v17.2h-1.0z"/>
<path fill="#f9dbb8" d="M102.0 261.8h1.5v17.2h-1.5zM104.2 261.8h0.7v17.2h-0.7zM106.4 261.8h1.5v17.2h-1.5zM111.1 261.8h0.5v17.2h-0.5zM114.1 261.8h1.0v17.2h-1.0zM115.1 261.8h1.0v17.2h-1.0zM116.1 261.8h1.0v17.2h-1.0zM118.1 261.8h1.0v17.2h-1.0zM119.1 261.8h2.5v17.2h-2.5zM121.6 261.8h0.5v17.2h-0.5zM122.1 261.8h2.0v17.2h-2.0zM125.6 261.8h2.0v17.2h-2.0zM127.6 261.8h2.0v17.2h-2.0zM131.6 261.8h1.0v17.2h-1.0zM132.6 261.8h1.2v17.2h-1.2zM133.8 261.8h1.0v17.2h-1.0zM138.2 261.8h2.0v17.2h-2.0zM140.9 261.8h1.2v17.2h-1.2zM142.1 261.8h1.2v17.2h-1.2zM146.0 261.8h2.0v17.2h-2.0zM148.7 261.8h1.0v17.2h-1.0zM149.7 261.8h2.0v17.2h-2.0zM154.4 261.8h2.0v17.2h-2.0zM156.4 261.8h0.7v17.2h-0.7zM158.1 261.8h1.0v17.2h-1.0zM159.1 261.8h1.5v17.2h-1.5zM163.6 261.8h1.0v17.2h-1.0zM164.6 261.8h1.5v17.2h-1.5zM191.9 261.8h0.7v17.2h-0.7zM196.3 261.8h0.7v17.2h-0.7zM242.2 261.8h1.0v17.2h-1.0zM268.5 261.8h0.5v17.2h-0.5zM277.4 261.8h0.7v17.2h-0.7zM292.0 261.8h1.0v17.2h-1.0zM293.0 261.8h1.0v17.2h-1.0zM303.2 261.8h0.7v17.2h-0.7zM308.4 261.8h1.5v17.2h-1.5zM309.9 261.8h1.0v17.2h-1.0zM310.9 261.8h0.7v17.2h-0.7zM311.6 261.8h0.5v17.2h-0.5zM312.1 261.8h2.0v17.2h-2.0zM314.1 261.8h0.5v17.2h-0.5zM314.6 261.8h2.5v17.2h-2.5zM327.2 261.8h2.0v17.2h-2.0zM329.2 261.8h0.7v17.2h-0.7zM329.9 261.8h1.0v17.2h-1.0zM330.9 261.8h0.7v17.2h-0.7zM331.6 261.8h0.5v17.2h-0.5zM334.1 261.8h0.7v17.2h-0.7zM337.5 261.8h1.0v17.2h-1.0zM338.5 261.8h0.5v17.2h-0.5zM340.0 261.8h1.0v17.2h-1.0zM342.0 261.8h1.0v17.2h-1.0zM345.5 261.8h1.0v17.2h-1.0zM346.5 261.8h1.0v17.2h-1.0zM348.5 261.8h2.5v17.2h-2.5zM351.0 261.8h1.0v17.2h-1.0zM353.0 261.8h0.7v17.2h-0.7zM353.7 261.8h1.5v17.2h-1.5zM359.2 261.8h1.0v17.2h-1.0zM360.2 261.8h1.0v17.2h-1.0zM361.2 261.8h1.0v17.2h-1.0zM364.4 261.8h1.0v17.2h-1.0zM367.4 261.8h1.0v17.2h-1.0zM373.6 261.8h2.5v17.2h-2.5zM380.1 261.8h1.0v17.2h-1.0zM381.1 261.8h1.0v17.2h-1.0zM383.3 261.8h0.3v17.2h-0.3zM102.0 283.2h1.0v17.2h-1.0zM106.5 283.2h1.0v17.2h-1.0zM112.0 283.2h2.5v17.2h-2.5zM126.7 283.2h0.5v17.2h-0.5zM127.2 283.2h1.0v17.2h-1.0zM128.2 283.2h0.5v17.2h-0.5zM131.9 283.2h0.7v17.2h-0.7zM133.3 283.2h2.0v17.2h-2.0zM136.0 283.2h1.0v17.2h-1.0zM138.0 283.2h2.0v17.2h-2.0zM143.5 283.2h1.0v17.2h-1.0zM144.5 283.2h1.0v17.2h-1.0zM157.3 283.2h0.7v17.2h-0.7zM158.5 283.2h0.3v17.2h-0.3zM161.1 283.2h1.6v17.2h-1.6zM263.5 283.2h1.5v17.2h-1.5zM273.0 283.2h2.0v17.2h-2.0zM275.7 283.2h1.0v17.2h-1.0zM280.9 283.2h0.5v17.2h-0.5zM282.4 283.2h1.0v17.2h-1.0zM283.4 283.2h1.5v17.2h-1.5zM285.6 283.2h1.0v17.2h-1.0zM286.6 283.2h1.0v17.2h-1.0zM291.1 283.2h1.0v17.2h-1.0zM292.1 283.2h1.0v17.2h-1.0zM294.6 283.2h1.0v17.2h-1.0zM297.1 283.2h1.0v17.2h-1.0zM299.3 283.2h0.5v17.2h-0.5zM299.8 283.2h1.5v17.2h-1.5zM302.8 283.2h1.0v17.2h-1.0zM310.3 283.2h1.0v17.2h-1.0zM312.3 283.2h2.0v17.2h-2.0zM314.3 283.2h1.0v17.2h-1.0zM317.3 283.2h1.0v17.2h-1.0zM320.8 283.2h1.2v17.2h-1.2zM326.4 283.2h0.5v17.2h-0.5zM328.4 283.2h1.2v17.2h-1.2zM332.8 283.2h0.7v17.2h-0.7zM333.5 283.2h1.0v17.2h-1.0zM341.5 283.2h1.0v17.2h-1.0zM344.5 283.2h1.5v17.2h-1.5zM347.5 283.2h0.5v17.2h-0.5zM348.0 283.2h0.5v17.2h-0.5zM349.2 283.2h1.2v17.2h-1.2zM351.6 283.2h0.5v17.2h-0.5zM364.0 283.2h1.0v17.2h-1.0zM369.5 283.2h1.0v17.2h-1.0zM370.5 283.2h0.5v17.2h-0.5zM371.0 283.2h2.5v17.2h-2.5zM375.0 283.2h0.7v17.2h-0.7zM376.4 283.2h1.5v17.2h-1.5zM379.9 283.2h1.0v17.2h-1.0zM382.6 283.2h0.9v17.2h-0.9zM99.0 304.7h1.0v17.2h-1.0zM103.0 304.7h1.0v17.2h-1.0zM104.0 304.7h1.5v17.2h-1.5zM105.5 304.7h1.0v17.2h-1.0zM106.5 304.7h1.0v17.2h-1.0zM107.5 304.7h0.7v17.2h-0.7zM115.4 304.7h1.2v17.2h-1.2zM116.6 304.7h1.0v17.2h-1.0zM120.3 304.7h1.2v17.2h-1.2zM124.0 304.7h1.2v17.2h-1.2zM127.9 304.7h2.5v17.2h-2.5zM131.9 304.7h1.5v17.2h-1.5zM133.4 304.7h1.0v17.2h-1.0zM134.4 304.7h0.3v17.2h-0.3zM155.4 304.7h1.0v17.2h-1.0zM164.1 304.7h1.0v17.2h-1.0zM172.3 304.7h2.5v17.2h-2.5zM204.9 304.7h0.7v17.2h-0.7zM290.3 304.7h0.5v17.2h-0.5zM324.7 304.7h0.7v17.2h-0.7zM326.9 304.7h1.0v17.2h-1.0zM327.9 304.7h1.0v17.2h-1.0zM329.4 304.7h0.5v17.2h-0.5zM338.5 304.7h1.0v17.2h-1.0zM340.5 304.7h1.0v17.2h-1.0zM341.5 304.7h1.2v17.2h-1.2zM342.7 304.7h0.5v17.2h-0.5zM345.4 304.7h2.5v17.2h-2.5zM347.9 304.7h1.0v17.2h-1.0zM349.4 304.7h0.5v17.2h-0.5zM349.9 304.7h0.7v17.2h-0.7zM350.6 304.7h0.5v17.2h-0.5zM351.1 304.7h1.0v17.2h-1.0zM352.1 304.7h0.7v17.2h-0.7zM353.8 304.7h0.5v17.2h-0.5zM360.0 304.7h2.5v17.2h-2.5zM362.5 304.7h1.0v17.2h-1.0zM364.5 304.7h1.0v17.2h-1.0zM366.2 304.7h0.7v17.2h-0.7zM369.4 304.7h1.2v17.2h-1.2zM372.1 304.7h0.7v17.2h-0.7zM372.8 304.7h0.5v17.2h-0.5zM373.3 304.7h1.0v17.2h-1.0zM374.3 304.7h2.5v17.2h-2.5zM379.3 304.7h1.0v17.2h-1.0zM380.3 304.7h0.5v17.2h-0.5zM380.8 304.7h1.2v17.2h-1.2zM382.0 304.7h2.0v17.2h-2.0zM385.2 304.7h2.0v17.2h-2.0zM387.2 304.7h1.0v17.2h-1.0zM388.2 304.7h1.0v17.2h-1.0zM389.2 304.7h1.0v17.2h-1.0zM390.2 304.7h1.0v17.2h-1.0zM391.2 304.7h1.0v17.2h-1.0zM392.2 304.7h1.0v17.2h-1.0zM393.2 304.7h2.5v17.2h-2.5zM395.7 304.7h1.0v17.2h-1.0zM396.7 304.7h1.0v17.2h-1.0zM400.1 304.7h1.0v17.2h-1.0zM401.1 304.7h1.5v17.2h-1.5zM402.6 304.7h0.7v17.2h-0.7zM403.3 304.7h0.7v17.2h-0.7zM404.0 304.7h1.5v17.2h-1.5zM405.5 304.7h0.5v17.2h-0.5zM406.0 304.7h1.5v17.2h-1.5zM410.0 304.7h1.0v17.2h-1.0zM411.0 304.7h1.0v17.2h-1.0zM414.5 304.7h1.5v17.2h-1.5zM417.5 304.7h1.0v17.2h-1.0zM418.5 304.7h0.7v17.2h-0.7zM419.2 304.7h1.2v17.2h-1.2zM422.1 304.7h1.0v17.2h-1.0zM423.1 304.7h1.5v17.2h-1.5zM424.6 304.7h0.5v17.2h-0.5zM425.1 304.7h1.5v17.2h-1.5zM433.5 304.7h1.0v17.2h-1.0zM435.2 304.7h2.0v17.2h-2.0zM437.2 304.7h2.0v17.2h-2.0zM439.2 304.7h1.2v17.2h-1.2zM443.9 304.7h1.0v17.2h-1.0zM444.9 304.7h0.7v17.2h-0.7zM445.6 304.7h1.2v17.2h-1.2zM446.8 304.7h0.2v17.2h-0.2zM118.1 326.1h1.5v17.2h-1.5zM124.6 326.1h0.7v17.2h-0.7zM132.3 326.1h1.0v17.2h-1.0zM147.2 326.1h1.0v17.2h-1.0zM148.7 326.1h1.2v17.2h-1.2zM159.3 326.1h1.5v17.2h-1.5zM162.5 326.1h2.5v17.2h-2.5zM174.2 326.1h2.0v17.2h-2.0zM189.3 326.1h1.2v17.2h-1.2zM295.2 326.1h1.0v17.2h-1.0zM302.4 326.1h2.0v17.2h-2.0zM304.4 326.1h0.6v17.2h-0.6zM313.7 326.1h2.5v17.2h-2.5zM325.1 326.1h2.5v17.2h-2.5zM331.3 326.1h2.0v17.2h-2.0zM337.7 326.1h2.0v17.2h-2.0zM339.7 326.1h1.0v17.2h-1.0zM340.7 326.1h1.0v17.2h-1.0zM343.7 326.1h1.0v17.2h-1.0zM344.7 326.1h0.5v17.2h-0.5zM345.2 326.1h1.0v17.2h-1.0zM346.7 326.1h2.5v17.2h-2.5zM349.2 326.1h2.0v17.2h-2.0zM353.4 326.1h0.7v17.2h-0.7zM354.1 326.1h1.0v17.2h-1.0zM355.1 326.1h2.5v17.2h-2.5zM363.8 326.1h0.5v17.2h-0.5zM364.3 326.1h2.5v17.2h-2.5zM368.8 326.1h1.0v17.2h-1.0zM370.3 326.1h1.0v17.2h-1.0zM373.3 326.1h0.7v17.2h-0.7zM374.0 326.1h1.2v17.2h-1.2zM375.2 326.1h0.7v17.2h-0.7zM378.4 326.1h0.5v17.2h-0.5zM386.3 326.1h0.7v17.2h-0.7zM387.0 326.1h1.2v17.2h-1.2zM388.2 326.1h1.0v17.2h-1.0zM391.2 326.1h1.0v17.2h-1.0zM392.2 326.1h1.0v17.2h-1.0zM397.7 326.1h1.0v17.2h-1.0zM399.7 326.1h1.0v17.2h-1.0zM400.7 326.1h1.0v17.2h-1.0zM401.7 326.1h1.0v17.2h-1.0zM402.7 326.1h0.7v17.2h-0.7zM407.9 326.1h1.0v17.2h-1.0zM413.4 326.1h0.7v17.2h-0.7zM417.1 326.1h0.5v17.2h-0.5zM417.6 326.1h2.5v17.2h-2.5zM420.1 326.1h1.0v17.2h-1.0zM421.1 326.1h2.5v17.2h-2.5zM423.6 326.1h1.2v17.2h-1.2zM427.3 326.1h1.0v17.2h-1.0zM428.3 326.1h1.0v17.2h-1.0zM429.3 326.1h1.0v17.2h-1.0zM434.0 326.1h1.0v17.2h-1.0zM436.0 326.1h2.5v17.2h-2.5zM438.5 326.1h0.5v17.2h-0.5zM439.0 326.1h1.2v17.2h-1.2zM445.7 326.1h1.0v17.2h-1.0zM447.9 326.1h1.2v17.2h-1.2zM449.1 326.1h0.5v17.2h-0.5zM116.9 347.6h1.5v17.2h-1.5zM118.4 347.6h0.5v17.2h-0.5zM119.6 347.6h2.0v17.2h-2.0zM121.6 347.6h0.5v17.2h-0.5zM125.6 347.6h1.0v17.2h-1.0zM127.6 347.6h1.0v17.2h-1.0zM129.1 347.6h1.0v17.2h-1.0zM130.1 347.6h2.0v17.2h-2.0zM134.1 347.6h0.7v17.2h-0.7zM134.8 347.6h0.5v17.2h-0.5zM135.3 347.6h2.0v17.2h-2.0zM142.0 347.6h2.5v17.2h-2.5zM149.0 347.6h1.5v17.2h-1.5zM153.5 347.6h1.2v17.2h-1.2zM154.7 347.6h1.2v17.2h-1.2zM162.1 347.6h1.2v17.2h-1.2zM163.3 347.6h1.5v17.2h-1.5zM164.8 347.6h0.5v17.2h-0.5zM167.8 347.6h1.2v17.2h-1.2zM169.0 347.6h2.5v17.2h-2.5zM174.0 347.6h2.0v17.2h-2.0zM177.5 347.6h1.0v17.2h-1.0zM178.5 347.6h0.5v17.2h-0.5zM180.0 347.6h0.5v17.2h-0.5zM180.5 347.6h0.5v17.2h-0.5zM181.0 347.6h1.0v17.2h-1.0zM185.5 347.6h0.7v17.2h-0.7zM191.7 347.6h1.5v17.2h-1.5zM193.2 347.6h1.0v17.2h-1.0zM195.9 347.6h1.0v17.2h-1.0zM196.9 347.6h1.0v17.2h-1.0zM197.9 347.6h1.2v17.2h-1.2zM199.1 347.6h2.5v17.2h-2.5zM201.6 347.6h2.0v17.2h-2.0zM205.8 347.6h2.5v17.2h-2.5zM211.0 347.6h1.0v17.2h-1.0zM212.0 347.6h1.2v17.2h-1.2zM214.2 347.6h1.0v17.2h-1.0zM215.7 347.6h0.7v17.2h-0.7zM216.4 347.6h1.2v17.2h-1.2zM217.6 347.6h0.5v17.2h-0.5zM218.1 347.6h2.0v17.2h-2.0zM220.1 347.6h0.7v17.2h-0.7zM220.8 347.6h0.2v17.2h-0.2zM429.0 347.6h1.5v17.2h-1.5zM464.6 347.6h1.0v17.2h-1.0zM470.3 347.6h2.0v17.2h-2.0zM472.3 347.6h1.5v17.2h-1.5zM99.0 369.0h1.0v17.2h-1.0zM100.0 369.0h2.0v17.2h-2.0zM113.9 369.0h2.5v17.2h-2.5zM117.6 369.0h1.0v17.2h-1.0zM118.6 369.0h1.0v17.2h-1.0zM122.3 369.0h1.0v17.2h-1.0zM127.8 369.0h1.2v17.2h-1.2zM129.0 369.0h1.2v17.2h-1.2zM135.6 369.0h1.0v17.2h-1.0zM136.6 369.0h2.0v17.2h-2.0zM138.6 369.0h1.0v17.2h-1.0zM141.3 369.0h2.0v17.2h-2.0zM148.5 369.0h2.5v17.2h-2.5zM152.0 369.0h0.5v17.2h-0.5zM154.0 369.0h0.7v17.2h-0.7zM155.7 369.0h1.0v17.2h-1.0zM156.7 369.0h0.5v17.2h-0.5zM157.2 369.0h1.2v17.2h-1.2zM160.4 369.0h1.2v17.2h-1.2zM164.8 369.0h0.5v17.2h-0.5zM165.3 369.0h1.2v17.2h-1.2zM166.5 369.0h1.0v17.2h-1.0zM169.0 369.0h2.0v17.2h-2.0zM171.0 369.0h1.0v17.2h-1.0zM172.0 369.0h1.2v17.2h-1.2zM173.7 369.0h1.0v17.2h-1.0zM174.7 369.0h2.0v17.2h-2.0zM176.7 369.0h1.0v17.2h-1.0zM177.7 369.0h1.2v17.2h-1.2zM178.9 369.0h1.5v17.2h-1.5zM180.4 369.0h1.0v17.2h-1.0zM181.4 369.0h1.5v17.2h-1.5zM183.9 369.0h1.0v17.2h-1.0zM185.6 369.0h1.0v17.2h-1.0zM186.6 369.0h1.0v17.2h-1.0zM187.6 369.0h1.0v17.2h-1.0zM188.6 369.0h1.0v17.2h-1.0zM189.6 369.0h1.0v17.2h-1.0zM190.6 369.0h0.7v17.2h-0.7zM193.7 369.0h2.5v17.2h-2.5zM196.2 369.0h0.7v17.2h-0.7zM199.4 369.0h1.5v17.2h-1.5zM200.9 369.0h1.0v17.2h-1.0zM202.6 369.0h0.5v17.2h-0.5zM203.1 369.0h0.5v17.2h-0.5zM203.6 369.0h0.5v17.2h-0.5zM204.1 369.0h1.0v17.2h-1.0zM205.1 369.0h0.7v17.2h-0.7zM207.3 369.0h0.7v17.2h-0.7zM208.0 369.0h1.0v17.2h-1.0zM212.6 369.0h2.5v17.2h-2.5zM215.1 369.0h1.2v17.2h-1.2zM218.0 369.0h2.5v17.2h-2.5zM221.2 369.0h1.0v17.2h-1.0zM222.2 369.0h1.0v17.2h-1.0zM225.7 369.0h0.5v17.2h-0.5zM230.4 369.0h1.0v17.2h-1.0zM232.9 369.0h1.0v17.2h-1.0zM237.9 369.0h1.0v17.2h-1.0zM238.9 369.0h2.0v17.2h-2.0zM244.5 369.0h1.2v17.2h-1.2zM247.2 369.0h1.2v17.2h-1.2zM248.4 369.0h1.2v17.2h-1.2zM252.3 369.0h2.0v17.2h-2.0zM254.3 369.0h0.5v17.2h-0.5zM254.8 369.0h0.2v17.2h-0.2zM260.5 369.0h1.0v17.2h-1.0zM345.0 369.0h2.5v17.2h-2.5zM382.2 369.0h1.5v17.2h-1.5zM386.2 369.0h0.5v17.2h-0.5zM386.7 369.0h1.5v17.2h-1.5zM389.4 369.0h1.5v17.2h-1.5zM393.9 369.0h1.0v17.2h-1.0zM397.9 369.0h0.5v17.2h-0.5zM407.1 369.0h1.0v17.2h-1.0zM411.5 369.0h1.0v17.2h-1.0zM414.0 369.0h1.2v17.2h-1.2zM416.7 369.0h0.5v17.2h-0.5zM418.7 369.0h2.5v17.2h-2.5zM421.2 369.0h1.5v17.2h-1.5zM427.1 369.0h0.6v17.2h-0.6zM102.5 390.4h2.5v17.2h-2.5zM105.0 390.4h0.7v17.2h-0.7zM107.7 390.4h0.7v17.2h-0.7zM109.4 390.4h1.0v17.2h-1.0zM110.4 390.4h1.0v17.2h-1.0zM111.4 390.4h0.5v17.2h-0.5zM112.6 390.4h1.0v17.2h-1.0zM115.1 390.4h1.2v17.2h-1.2zM116.3 390.4h1.2v17.2h-1.2zM117.5 390.4h2.0v17.2h-2.0zM119.5 390.4h2.5v17.2h-2.5zM123.5 390.4h1.0v17.2h-1.0zM124.5 390.4h1.2v17.2h-1.2zM133.2 390.4h1.0v17.2h-1.0zM135.7 390.4h1.0v17.2h-1.0zM137.9 390.4h0.5v17.2h-0.5zM138.4 390.4h2.5v17.2h-2.5zM140.9 390.4h2.0v17.2h-2.0zM142.9 390.4h1.2v17.2h-1.2zM144.1 390.4h0.5v17.2h-0.5zM144.6 390.4h0.6v17.2h-0.6zM147.7 390.4h1.0v17.2h-1.0zM158.1 390.4h2.0v17.2h-2.0zM258.9 390.4h2.0v17.2h-2.0zM268.6 390.4h0.5v17.2h-0.5zM273.5 390.4h0.7v17.2h-0.7zM275.2 390.4h0.5v17.2h-0.5zM276.7 390.4h2.0v17.2h-2.0zM281.2 390.4h1.5v17.2h-1.5zM283.7 390.4h0.5v17.2h-0.5zM289.0 390.4h1.5v17.2h-1.5zM290.5 390.4h1.0v17.2h-1.0zM294.0 390.4h0.5v17.2h-0.5zM297.0 390.4h1.0v17.2h-1.0zM299.0 390.4h2.5v17.2h-2.5zM301.5 390.4h2.0v17.2h-2.0zM303.5 390.4h1.0v17.2h-1.0zM305.7 390.4h2.5v17.2h-2.5zM309.4 390.4h0.7v17.2h-0.7zM314.3 390.4h2.0v17.2h-2.0zM324.2 390.4h2.5v17.2h-2.5zM326.7 390.4h1.0v17.2h-1.0zM332.2 390.4h1.0v17.2h-1.0zM107.8 411.9h1.0v17.2h-1.0zM108.8 411.9h2.0v17.2h-2.0zM112.8 411.9h2.0v17.2h-2.0zM115.8 411.9h1.2v17.2h-1.2zM117.0 411.9h1.0v17.2h-1.0zM118.0 411.9h1.0v17.2h-1.0zM120.0 411.9h1.0v17.2h-1.0zM121.0 411.9h0.5v17.2h-0.5zM121.5 411.9h1.0v17.2h-1.0zM122.5 411.9h1.0v17.2h-1.0zM124.2 411.9h1.0v17.2h-1.0zM125.2 411.9h1.5v17.2h-1.5zM130.4 411.9h2.5v17.2h-2.5zM132.9 411.9h1.0v17.2h-1.0zM142.6 411.9h1.0v17.2h-1.0zM146.5 411.9h1.0v17.2h-1.0zM148.0 411.9h1.2v17.2h-1.2zM149.2 411.9h1.0v17.2h-1.0zM152.4 411.9h2.5v17.2h-2.5zM157.4 411.9h1.0v17.2h-1.0zM190.2 411.9h1.0v17.2h-1.0zM215.0 411.9h0.7v17.2h-0.7zM251.2 411.9h1.5v17.2h-1.5zM264.6 411.9h2.5v17.2h-2.5zM271.7 411.9h1.2v17.2h-1.2zM275.6 411.9h2.4v17.2h-2.4zM279.0 411.9h1.0v17.2h-1.0zM281.5 411.9h1.0v17.2h-1.0zM282.5 411.9h1.0v17.2h-1.0zM284.2 411.9h2.5v17.2h-2.5zM287.7 411.9h1.0v17.2h-1.0zM288.7 411.9h0.7v17.2h-0.7zM289.4 411.9h1.2v17.2h-1.2zM290.6 411.9h1.0v17.2h-1.0zM293.6 411.9h2.0v17.2h-2.0zM296.1 411.9h0.7v17.2h-0.7zM296.8 411.9h2.0v17.2h-2.0zM303.3 411.9h1.2v17.2h-1.2zM310.0 411.9h1.0v17.2h-1.0zM311.0 411.9h1.0v17.2h-1.0zM317.7 411.9h1.5v17.2h-1.5zM319.2 411.9h1.2v17.2h-1.2zM320.4 411.9h1.0v17.2h-1.0zM323.4 411.9h2.5v17.2h-2.5zM333.1 411.9h1.0v17.2h-1.0zM102.7 433.3h1.0v17.2h-1.0zM103.7 433.3h1.2v17.2h-1.2zM104.9 433.3h2.0v17.2h-2.0zM107.9 433.3h2.0v17.2h-2.0zM109.9 433.3h1.5v17.2h-1.5zM113.6 433.3h2.0v17.2h-2.0zM117.1 433.3h1.0v17.2h-1.0zM118.1 433.3h1.5v17.2h-1.5zM120.6 433.3h0.7v17.2h-0.7zM121.8 433.3h1.0v17.2h-1.0zM122.8 433.3h1.2v17.2h-1.2zM129.7 433.3h1.0v17.2h-1.0zM132.9 433.3h1.2v17.2h-1.2zM137.3 433.3h1.0v17.2h-1.0zM138.3 433.3h2.5v17.2h-2.5zM141.8 433.3h1.2v17.2h-1.2zM145.0 433.3h1.0v17.2h-1.0zM149.5 433.3h1.0v17.2h-1.0zM153.0 433.3h1.0v17.2h-1.0zM154.0 433.3h1.5v17.2h-1.5zM155.5 433.3h1.0v17.2h-1.0zM156.5 433.3h2.5v17.2h-2.5zM161.0 433.3h0.7v17.2h-0.7zM165.4 433.3h2.0v17.2h-2.0zM167.4 433.3h1.0v17.2h-1.0zM170.9 433.3h2.0v17.2h-2.0zM175.4 433.3h1.0v17.2h-1.0zM177.6 433.3h2.5v17.2h-2.5zM180.1 433.3h1.0v17.2h-1.0zM181.1 433.3h1.0v17.2h-1.0zM182.1 433.3h2.5v17.2h-2.5zM186.1 433.3h1.0v17.2h-1.0zM187.8 433.3h1.0v17.2h-1.0zM188.8 433.3h0.7v17.2h-0.7zM194.0 433.3h2.5v17.2h-2.5zM197.5 433.3h2.0v17.2h-2.0zM199.5 433.3h1.5v17.2h-1.5zM204.0 433.3h1.0v17.2h-1.0zM210.5 433.3h1.0v17.2h-1.0zM213.5 433.3h1.0v17.2h-1.0zM214.5 433.3h2.5v17.2h-2.5zM217.0 433.3h1.2v17.2h-1.2zM220.4 433.3h1.0v17.2h-1.0zM226.1 433.3h1.0v17.2h-1.0zM227.1 433.3h2.0v17.2h-2.0zM229.8 433.3h1.2v17.2h-1.2zM232.0 433.3h2.5v17.2h-2.5zM234.5 433.3h2.5v17.2h-2.5zM237.0 433.3h1.2v17.2h-1.2zM238.7 433.3h1.0v17.2h-1.0zM239.7 433.3h0.3v17.2h-0.3zM324.5 433.3h1.0v17.2h-1.0zM325.5 433.3h0.7v17.2h-0.7zM326.2 433.3h0.7v17.2h-0.7zM326.9 433.3h1.2v17.2h-1.2zM328.1 433.3h0.7v17.2h-0.7zM329.5 433.3h1.0v17.2h-1.0zM333.7 433.3h1.0v17.2h-1.0zM338.4 433.3h0.5v17.2h-0.5zM338.9 433.3h0.5v17.2h-0.5zM342.4 433.3h1.0v17.2h-1.0zM343.4 433.3h1.0v17.2h-1.0zM345.4 433.3h0.5v17.2h-0.5zM349.6 433.3h1.2v17.2h-1.2zM354.3 433.3h1.0v17.2h-1.0zM358.7 433.3h0.7v17.2h-0.7zM360.1 433.3h1.2v17.2h-1.2zM361.3 433.3h1.2v17.2h-1.2zM369.5 433.3h2.5v17.2h-2.5zM373.5 433.3h2.5v17.2h-2.5zM376.0 433.3h0.7v17.2h-0.7zM376.7 433.3h1.0v17.2h-1.0zM377.7 433.3h0.5v17.2h-0.5zM378.2 433.3h1.5v17.2h-1.5zM379.7 433.3h1.0v17.2h-1.0zM380.7 433.3h1.0v17.2h-1.0zM382.7 433.3h1.0v17.2h-1.0zM384.2 433.3h1.0v17.2h-1.0zM385.2 433.3h1.0v17.2h-1.0zM386.2 433.3h0.7v17.2h-0.7zM387.9 433.3h0.7v17.2h-0.7zM388.6 433.3h0.7v17.2h-0.7zM389.3 433.3h1.0v17.2h-1.0zM390.3 433.3h2.0v17.2h-2.0zM392.3 433.3h2.5v17.2h-2.5zM397.8 433.3h0.7v17.2h-0.7zM398.5 433.3h1.5v17.2h-1.5zM400.0 433.3h1.0v17.2h-1.0zM401.7 433.3h2.0v17.2h-2.0zM406.7 433.3h1.2v17.2h-1.2zM105.8 454.8h1.0v17.2h-1.0zM109.8 454.8h0.5v17.2h-0.5zM110.3 454.8h0.7v17.2h-0.7zM114.0 454.8h1.2v17.2h-1.2zM116.2 454.8h1.0v17.2h-1.0zM117.2 454.8h1.0v17.2h-1.0zM118.9 454.8h1.0v17.2h-1.0zM124.4 454.8h1.0v17.2h-1.0zM125.4 454.8h2.0v17.2h-2.0zM129.4 454.8h1.0v17.2h-1.0zM130.4 454.8h2.0v17.2h-2.0zM133.1 454.8h2.5v17.2h-2.5zM135.6 454.8h0.7v17.2h-0.7zM136.3 454.8h2.0v17.2h-2.0zM139.3 454.8h1.5v17.2h-1.5zM141.5 454.8h1.0v17.2h-1.0zM144.5 454.8h1.2v17.2h-1.2zM145.7 454.8h0.7v17.2h-0.7zM149.9 454.8h1.5v17.2h-1.5zM151.4 454.8h1.0v17.2h-1.0zM155.9 454.8h2.0v17.2h-2.0zM160.9 454.8h2.0v17.2h-2.0zM164.8 454.8h2.0v17.2h-2.0zM166.8 454.8h1.0v17.2h-1.0zM170.3 454.8h2.0v17.2h-2.0zM172.3 454.8h0.5v17.2h-0.5zM173.8 454.8h1.0v17.2h-1.0zM174.8 454.8h1.0v17.2h-1.0zM177.0 454.8h1.2v17.2h-1.2zM178.2 454.8h1.0v17.2h-1.0zM179.2 454.8h0.5v17.2h-0.5zM179.7 454.8h0.7v17.2h-0.7zM180.4 454.8h0.5v17.2h-0.5zM188.4 454.8h2.0v17.2h-2.0zM190.4 454.8h2.0v17.2h-2.0zM192.4 454.8h1.0v17.2h-1.0zM196.4 454.8h2.0v17.2h-2.0zM199.6 454.8h1.0v17.2h-1.0zM200.6 454.8h0.5v17.2h-0.5zM202.6 454.8h1.0v17.2h-1.0zM203.6 454.8h2.0v17.2h-2.0zM207.1 454.8h1.0v17.2h-1.0zM227.3 454.8h1.5v17.2h-1.5zM235.8 454.8h1.2v17.2h-1.2zM268.2 454.8h1.0v17.2h-1.0zM336.5 454.8h1.0v17.2h-1.0zM358.0 454.8h1.5v17.2h-1.5zM365.7 454.8h1.2v17.2h-1.2zM366.9 454.8h1.2v17.2h-1.2zM368.8 454.8h0.7v17.2h-0.7zM373.0 454.8h2.0v17.2h-2.0zM375.0 454.8h0.5v17.2h-0.5zM376.2 454.8h1.2v17.2h-1.2zM378.1 454.8h0.7v17.2h-0.7zM379.3 454.8h1.0v17.2h-1.0zM380.3 454.8h0.7v17.2h-0.7zM381.0 454.8h2.5v17.2h-2.5zM385.0 454.8h1.0v17.2h-1.0zM386.0 454.8h1.5v17.2h-1.5zM388.7 454.8h1.0v17.2h-1.0zM393.2 454.8h1.5v17.2h-1.5zM394.7 454.8h1.0v17.2h-1.0zM396.7 454.8h1.5v17.2h-1.5zM401.2 454.8h2.5v17.2h-2.5zM404.7 454.8h2.5v17.2h-2.5zM408.2 454.8h1.2v17.2h-1.2zM409.4 454.8h1.2v17.2h-1.2zM413.8 454.8h1.0v17.2h-1.0zM418.7 454.8h1.0v17.2h-1.0zM419.7 454.8h1.2v17.2h-1.2zM426.9 454.8h1.0v17.2h-1.0zM427.9 454.8h1.2v17.2h-1.2zM430.1 454.8h1.6v17.2h-1.6zM99.7 476.2h0.5v17.2h-0.5zM102.2 476.2h2.5v17.2h-2.5zM107.7 476.2h1.2v17.2h-1.2zM110.9 476.2h1.0v17.2h-1.0zM111.9 476.2h1.2v17.2h-1.2zM114.8 476.2h0.7v17.2h-0.7zM118.5 476.2h1.5v17.2h-1.5zM122.0 476.2h1.0v17.2h-1.0zM123.0 476.2h2.0v17.2h-2.0zM125.0 476.2h1.2v17.2h-1.2zM126.2 476.2h1.0v17.2h-1.0zM127.2 476.2h1.2v17.2h-1.2zM128.4 476.2h0.7v17.2h-0.7zM131.6 476.2h2.0v17.2h-2.0zM134.6 476.2h1.2v17.2h-1.2zM135.8 476.2h0.7v17.2h-0.7zM136.5 476.2h0.5v17.2h-0.5zM138.5 476.2h1.0v17.2h-1.0zM145.1 476.2h1.0v17.2h-1.0zM146.1 476.2h1.2v17.2h-1.2zM147.3 476.2h1.0v17.2h-1.0zM150.8 476.2h0.2v17.2h-0.2zM153.7 476.2h2.5v17.2h-2.5zM157.2 476.2h2.5v17.2h-2.5zM159.7 476.2h0.7v17.2h-0.7zM162.1 476.2h0.5v17.2h-0.5zM165.6 476.2h2.0v17.2h-2.0zM192.2 476.2h1.0v17.2h-1.0zM280.0 476.2h0.5v17.2h-0.5zM309.4 476.2h0.5v17.2h-0.5zM320.0 476.2h1.0v17.2h-1.0zM321.0 476.2h1.5v17.2h-1.5zM325.0 476.2h1.5v17.2h-1.5zM327.5 476.2h2.0v17.2h-2.0zM331.2 476.2h1.0v17.2h-1.0zM335.9 476.2h2.5v17.2h-2.5zM338.4 476.2h1.0v17.2h-1.0zM339.4 476.2h1.2v17.2h-1.2zM345.1 476.2h2.5v17.2h-2.5zM347.6 476.2h1.0v17.2h-1.0zM351.1 476.2h0.5v17.2h-0.5zM354.6 476.2h0.7v17.2h-0.7zM357.5 476.2h0.7v17.2h-0.7zM358.2 476.2h2.5v17.2h-2.5zM361.7 476.2h1.0v17.2h-1.0zM362.7 476.2h1.0v17.2h-1.0zM365.2 476.2h0.7v17.2h-0.7zM365.9 476.2h2.5v17.2h-2.5zM371.9 476.2h0.1v17.2h-0.1zM100.5 497.6h2.0v17.2h-2.0zM106.0 497.6h0.7v17.2h-0.7zM109.2 497.6h2.0v17.2h-2.0zM111.2 497.6h1.0v17.2h-1.0zM112.2 497.6h0.7v17.2h-0.7zM114.1 497.6h0.7v17.2h-0.7zM115.5 497.6h1.0v17.2h-1.0zM117.5 497.6h1.5v17.2h-1.5zM119.0 497.6h1.0v17.2h-1.0zM120.0 497.6h0.5v17.2h-0.5zM122.5 497.6h1.0v17.2h-1.0zM123.5 497.6h1.2v17.2h-1.2zM124.7 497.6h1.2v17.2h-1.2zM125.9 497.6h1.0v17.2h-1.0zM126.9 497.6h1.0v17.2h-1.0zM127.9 497.6h1.0v17.2h-1.0zM128.9 497.6h1.0v17.2h-1.0zM129.9 497.6h0.7v17.2h-0.7zM130.6 497.6h1.0v17.2h-1.0zM131.6 497.6h1.0v17.2h-1.0zM133.3 497.6h1.0v17.2h-1.0zM135.3 497.6h1.0v17.2h-1.0zM136.3 497.6h0.5v17.2h-0.5zM138.3 497.6h1.0v17.2h-1.0zM139.3 497.6h0.5v17.2h-0.5zM143.5 497.6h0.5v17.2h-0.5zM146.0 497.6h0.7v17.2h-0.7zM149.2 497.6h1.5v17.2h-1.5zM152.7 497.6h1.0v17.2h-1.0zM153.7 497.6h1.5v17.2h-1.5zM156.2 497.6h2.5v17.2h-2.5zM158.7 497.6h1.0v17.2h-1.0zM159.7 497.6h1.2v17.2h-1.2zM162.1 497.6h1.2v17.2h-1.2zM166.0 497.6h2.5v17.2h-2.5zM168.5 497.6h0.7v17.2h-0.7zM169.2 497.6h1.5v17.2h-1.5zM170.7 497.6h0.5v17.2h-0.5zM171.2 497.6h1.0v17.2h-1.0zM173.2 497.6h0.5v17.2h-0.5zM173.7 497.6h1.2v17.2h-1.2zM175.6 497.6h1.5v17.2h-1.5zM208.4 497.6h1.0v17.2h-1.0zM248.3 497.6h1.0v17.2h-1.0zM250.0 497.6h2.5v17.2h-2.5zM267.9 497.6h2.0v17.2h-2.0zM277.4 497.6h1.5v17.2h-1.5zM278.9 497.6h0.5v17.2h-0.5zM286.8 497.6h1.0v17.2h-1.0zM291.6 497.6h1.0v17.2h-1.0zM292.6 497.6h0.5v17.2h-0.5zM293.1 497.6h0.5v17.2h-0.5zM298.6 497.6h1.0v17.2h-1.0zM301.6 497.6h1.0v17.2h-1.0zM308.3 497.6h2.0v17.2h-2.0zM310.3 497.6h1.0v17.2h-1.0zM311.3 497.6h1.0v17.2h-1.0zM312.3 497.6h1.2v17.2h-1.2zM313.5 497.6h1.0v17.2h-1.0zM315.5 497.6h1.5v17.2h-1.5zM318.0 497.6h1.2v17.2h-1.2zM319.9 497.6h2.0v17.2h-2.0zM322.9 497.6h1.5v17.2h-1.5zM327.1 497.6h1.2v17.2h-1.2zM328.3 497.6h0.5v17.2h-0.5zM329.8 497.6h1.0v17.2h-1.0zM330.8 497.6h1.0v17.2h-1.0zM334.0 497.6h1.2v17.2h-1.2zM335.2 497.6h0.7v17.2h-0.7zM336.6 497.6h2.0v17.2h-2.0zM340.6 497.6h0.7v17.2h-0.7zM341.3 497.6h0.7v17.2h-0.7zM100.5 519.1h2.5v17.2h-2.5zM108.0 519.1h1.0v17.2h-1.0zM113.2 519.1h2.0v17.2h-2.0zM136.6 519.1h1.2v17.2h-1.2zM152.4 519.1h1.2v17.2h-1.2zM154.1 519.1h1.0v17.2h-1.0zM250.5 519.1h1.0v17.2h-1.0zM251.5 519.1h1.0v17.2h-1.0zM252.5 519.1h1.0v17.2h-1.0zM253.5 519.1h1.0v17.2h-1.0zM260.4 519.1h1.0v17.2h-1.0zM261.4 519.1h1.0v17.2h-1.0zM262.4 519.1h1.5v17.2h-1.5zM268.4 519.1h2.5v17.2h-2.5zM271.6 519.1h1.0v17.2h-1.0zM272.6 519.1h0.7v17.2h-0.7zM274.3 519.1h1.0v17.2h-1.0zM276.3 519.1h1.0v17.2h-1.0zM279.2 519.1h1.0v17.2h-1.0zM280.2 519.1h1.0v17.2h-1.0zM284.4 519.1h1.0v17.2h-1.0zM291.9 519.1h0.7v17.2h-0.7zM292.6 519.1h0.7v17.2h-0.7zM296.3 519.1h0.5v17.2h-0.5zM296.8 519.1h1.5v17.2h-1.5zM298.3 519.1h2.5v17.2h-2.5zM300.8 519.1h1.0v17.2h-1.0zM304.3 519.1h1.5v17.2h-1.5zM308.3 519.1h2.0v17.2h-2.0zM313.3 519.1h0.5v17.2h-0.5zM319.3 519.1h0.7v17.2h-0.7zM321.5 519.1h0.5v17.2h-0.5zM322.0 519.1h2.0v17.2h-2.0zM324.0 519.1h1.0v17.2h-1.0zM326.0 519.1h1.5v17.2h-1.5zM328.5 519.1h1.5v17.2h-1.5zM331.0 519.1h2.0v17.2h-2.0zM333.0 519.1h2.5v17.2h-2.5zM336.7 519.1h0.5v17.2h-0.5zM338.2 519.1h1.0v17.2h-1.0zM339.2 519.1h2.5v17.2h-2.5zM344.4 519.1h1.2v17.2h-1.2zM345.6 519.1h1.5v17.2h-1.5zM348.6 519.1h0.7v17.2h-0.7zM349.3 519.1h1.0v17.2h-1.0zM350.3 519.1h0.9v17.2h-0.9zM353.3 519.1h1.5v17.2h-1.5zM109.5 540.5h1.0v17.2h-1.0zM112.5 540.5h1.0v17.2h-1.0zM119.4 540.5h0.5v17.2h-0.5zM127.8 540.5h1.0v17.2h-1.0zM134.0 540.5h0.5v17.2h-0.5zM183.1 540.5h1.0v17.2h-1.0zM215.1 540.5h1.0v17.2h-1.0zM216.1 540.5h1.0v17.2h-1.0zM220.1 540.5h1.0v17.2h-1.0zM222.1 540.5h1.0v17.2h-1.0zM232.0 540.5h1.0v17.2h-1.0zM234.5 540.5h1.0v17.2h-1.0zM235.5 540.5h0.5v17.2h-0.5zM238.2 540.5h1.0v17.2h-1.0zM240.2 540.5h0.7v17.2h-0.7zM240.9 540.5h1.5v17.2h-1.5zM244.9 540.5h2.0v17.2h-2.0zM246.9 540.5h0.5v17.2h-0.5zM248.6 540.5h0.5v17.2h-0.5zM249.1 540.5h2.0v17.2h-2.0zM252.6 540.5h2.5v17.2h-2.5zM255.1 540.5h1.2v17.2h-1.2zM260.0 540.5h1.2v17.2h-1.2zM263.4 540.5h2.5v17.2h-2.5zM266.6 540.5h1.0v17.2h-1.0zM267.6 540.5h1.0v17.2h-1.0zM270.1 540.5h2.0v17.2h-2.0zM278.3 540.5h1.0v17.2h-1.0zM281.7 540.5h2.0v17.2h-2.0zM283.7 540.5h0.5v17.2h-0.5zM295.4 540.5h1.0v17.2h-1.0zM296.4 540.5h1.5v17.2h-1.5zM300.4 540.5h0.5v17.2h-0.5zM304.6 540.5h2.0v17.2h-2.0zM307.8 540.5h1.5v17.2h-1.5zM309.8 540.5h1.0v17.2h-1.0zM310.8 540.5h0.7v17.2h-0.7zM311.5 540.5h2.5v17.2h-2.5zM316.0 540.5h0.7v17.2h-0.7zM321.7 540.5h1.5v17.2h-1.5zM323.2 540.5h1.0v17.2h-1.0zM324.7 540.5h1.0v17.2h-1.0zM325.7 540.5h2.0v17.2h-2.0zM327.7 540.5h1.0v17.2h-1.0zM328.7 540.5h0.5v17.2h-0.5zM333.2 540.5h0.5v17.2h-0.5zM333.7 540.5h2.5v17.2h-2.5zM336.2 540.5h1.0v17.2h-1.0zM337.2 540.5h2.0v17.2h-2.0zM345.7 540.5h1.0v17.2h-1.0zM102.6 562.0h2.5v17.2h-2.5zM110.8 562.0h1.0v17.2h-1.0zM123.9 562.0h1.0v17.2h-1.0zM127.4 562.0h0.7v17.2h-0.7zM131.8 562.0h1.0v17.2h-1.0zM132.8 562.0h1.0v17.2h-1.0zM133.8 562.0h0.5v17.2h-0.5zM135.3 562.0h1.0v17.2h-1.0zM136.3 562.0h2.5v17.2h-2.5zM140.0 562.0h1.0v17.2h-1.0zM147.7 562.0h1.2v17.2h-1.2zM153.1 562.0h1.0v17.2h-1.0zM154.1 562.0h2.0v17.2h-2.0zM159.3 562.0h1.5v17.2h-1.5zM164.8 562.0h0.5v17.2h-0.5zM195.5 562.0h1.0v17.2h-1.0zM324.5 562.0h2.0v17.2h-2.0zM344.2 562.0h2.0v17.2h-2.0zM351.2 562.0h1.0v17.2h-1.0zM352.2 562.0h1.0v17.2h-1.0zM354.7 562.0h2.5v17.2h-2.5zM373.5 562.0h1.0v17.2h-1.0zM113.2 583.4h2.5v17.2h-2.5zM116.4 583.4h1.0v17.2h-1.0zM124.3 583.4h2.0v17.2h-2.0zM127.3 583.4h2.5v17.2h-2.5zM130.5 583.4h2.0v17.2h-2.0zM142.1 583.4h1.5v17.2h-1.5zM146.8 583.4h2.5v17.2h-2.5zM165.5 583.4h0.5v17.2h-0.5zM179.4 583.4h2.0v17.2h-2.0zM195.0 583.4h2.0v17.2h-2.0zM198.0 583.4h2.5v17.2h-2.5zM208.1 583.4h1.0v17.2h-1.0zM224.6 583.4h0.5v17.2h-0.5zM225.1 583.4h1.0v17.2h-1.0zM226.1 583.4h1.2v17.2h-1.2zM227.3 583.4h1.0v17.2h-1.0zM233.2 583.4h2.0v17.2h-2.0zM238.7 583.4h2.0v17.2h-2.0zM251.2 583.4h1.5v17.2h-1.5zM253.7 583.4h1.2v17.2h-1.2zM260.4 583.4h1.0v17.2h-1.0zM275.9 583.4h1.0v17.2h-1.0zM281.9 583.4h1.0v17.2h-1.0zM282.9 583.4h1.0v17.2h-1.0zM294.3 583.4h0.7v17.2h-0.7zM298.5 583.4h1.0v17.2h-1.0zM301.2 583.4h1.0v17.2h-1.0zM302.2 583.4h0.7v17.2h-0.7zM309.3 583.4h1.2v17.2h-1.2zM319.9 583.4h1.2v17.2h-1.2zM330.3 583.4h1.5v17.2h-1.5zM333.8 583.4h1.2v17.2h-1.2zM336.5 583.4h0.5v17.2h-0.5zM338.7 583.4h0.9v17.2h-0.9zM356.3 583.4h2.0v17.2h-2.0zM369.3 583.4h0.7v17.2h-0.7zM100.8 604.8h1.0v17.2h-1.0zM102.8 604.8h1.0v17.2h-1.0zM103.8 604.8h1.2v17.2h-1.2zM106.0 604.8h2.0v17.2h-2.0zM108.0 604.8h0.5v17.2h-0.5zM108.5 604.8h1.2v17.2h-1.2zM110.4 604.8h0.5v17.2h-0.5zM110.9 604.8h2.5v17.2h-2.5zM114.6 604.8h2.5v17.2h-2.5zM117.1 604.8h2.0v17.2h-2.0zM119.8 604.8h1.0v17.2h-1.0zM120.8 604.8h1.0v17.2h-1.0zM123.3 604.8h2.5v17.2h-2.5zM128.3 604.8h2.5v17.2h-2.5zM131.8 604.8h0.7v17.2h-0.7zM132.5 604.8h2.0v17.2h-2.0zM136.5 604.8h1.0v17.2h-1.0zM143.5 604.8h1.0v17.2h-1.0zM144.5 604.8h1.0v17.2h-1.0zM147.5 604.8h0.5v17.2h-0.5zM148.0 604.8h1.0v17.2h-1.0zM151.0 604.8h2.5v17.2h-2.5zM153.5 604.8h0.5v17.2h-0.5zM154.0 604.8h2.0v17.2h-2.0zM158.5 604.8h1.2v17.2h-1.2zM159.7 604.8h1.5v17.2h-1.5zM161.2 604.8h0.5v17.2h-0.5zM164.2 604.8h1.5v17.2h-1.5zM165.7 604.8h1.0v17.2h-1.0zM166.7 604.8h0.7v17.2h-0.7zM172.4 604.8h1.0v17.2h-1.0zM173.4 604.8h2.5v17.2h-2.5zM176.9 604.8h0.7v17.2h-0.7zM177.6 604.8h2.5v17.2h-2.5zM180.1 604.8h1.0v17.2h-1.0zM182.1 604.8h1.0v17.2h-1.0zM184.3 604.8h1.0v17.2h-1.0zM185.3 604.8h0.5v17.2h-0.5zM186.8 604.8h2.5v17.2h-2.5zM190.3 604.8h1.0v17.2h-1.0zM202.5 604.8h1.0v17.2h-1.0zM203.5 604.8h0.7v17.2h-0.7zM205.4 604.8h1.5v17.2h-1.5zM208.2 604.8h1.2v17.2h-1.2zM225.4 604.8h1.5v17.2h-1.5zM226.9 604.8h1.0v17.2h-1.0zM228.4 604.8h0.5v17.2h-0.5zM240.8 604.8h2.5v17.2h-2.5zM270.1 604.8h1.2v17.2h-1.2zM347.4 604.8h1.2v17.2h-1.2zM362.3 604.8h0.7v17.2h-0.7zM363.5 604.8h0.7v17.2h-0.7zM364.2 604.8h2.0v17.2h-2.0zM366.2 604.8h0.7v17.2h-0.7zM369.1 604.8h2.5v17.2h-2.5zM374.1 604.8h1.5v17.2h-1.5zM401.4 604.8h0.5v17.2h-0.5zM403.1 604.8h1.0v17.2h-1.0zM418.8 604.8h2.5v17.2h-2.5zM423.3 604.8h1.0v17.2h-1.0zM432.4 604.8h2.5v17.2h-2.5zM444.3 604.8h2.0v17.2h-2.0zM447.0 604.8h1.0v17.2h-1.0zM448.0 604.8h1.0v17.2h-1.0zM449.0 604.8h1.5v17.2h-1.5zM453.9 604.8h1.5v17.2h-1.5zM455.4 604.8h1.0v17.2h-1.0zM456.4 604.8h0.7v17.2h-0.7zM457.1 604.8h1.0v17.2h-1.0zM463.1 604.8h1.0v17.2h-1.0zM464.1 604.8h1.0v17.2h-1.0zM465.1 604.8h1.0v17.2h-1.0zM468.1 604.8h0.7v17.2h-0.7zM468.8 604.8h1.2v17.2h-1.2zM470.7 604.8h0.7v17.2h-0.7zM473.9 604.8h0.7v17.2h-0.7zM475.3 604.8h1.2v17.2h-1.2zM476.5 604.8h1.5v17.2h-1.5zM478.0 604.8h1.2v17.2h-1.2zM479.2 604.8h1.5v17.2h-1.5zM480.7 604.8h2.5v17.2h-2.5zM100.5 626.3h1.5v17.2h-1.5zM102.0 626.3h1.0v17.2h-1.0zM105.0 626.3h0.7v17.2h-0.7zM105.7 626.3h1.5v17.2h-1.5zM107.2 626.3h1.0v17.2h-1.0zM109.7 626.3h1.0v17.2h-1.0zM110.7 626.3h2.0v17.2h-2.0zM112.7 626.3h0.5v17.2h-0.5zM113.2 626.3h1.2v17.2h-1.2zM116.4 626.3h1.0v17.2h-1.0zM117.4 626.3h2.0v17.2h-2.0zM120.1 626.3h2.0v17.2h-2.0zM122.1 626.3h1.2v17.2h-1.2zM123.3 626.3h1.0v17.2h-1.0zM124.3 626.3h1.5v17.2h-1.5zM130.3 626.3h1.2v17.2h-1.2zM133.9 626.3h2.0v17.2h-2.0zM137.4 626.3h1.0v17.2h-1.0zM139.9 626.3h2.0v17.2h-2.0zM144.4 626.3h1.0v17.2h-1.0zM145.4 626.3h0.5v17.2h-0.5zM145.9 626.3h1.0v17.2h-1.0zM147.6 626.3h1.0v17.2h-1.0zM148.6 626.3h2.0v17.2h-2.0zM150.6 626.3h2.5v17.2h-2.5zM153.1 626.3h1.0v17.2h-1.0zM158.6 626.3h1.0v17.2h-1.0zM164.5 626.3h0.7v17.2h-0.7zM165.2 626.3h1.0v17.2h-1.0zM166.2 626.3h2.0v17.2h-2.0zM170.2 626.3h1.0v17.2h-1.0zM171.2 626.3h1.0v17.2h-1.0zM173.2 626.3h1.0v17.2h-1.0zM174.2 626.3h0.7v17.2h-0.7zM174.9 626.3h1.0v17.2h-1.0zM176.9 626.3h1.0v17.2h-1.0zM177.9 626.3h0.5v17.2h-0.5zM179.4 626.3h1.0v17.2h-1.0zM182.9 626.3h2.5v17.2h-2.5zM188.9 626.3h1.5v17.2h-1.5zM190.4 626.3h1.0v17.2h-1.0zM197.6 626.3h1.2v17.2h-1.2zM198.8 626.3h2.5v17.2h-2.5zM206.8 626.3h0.7v17.2h-0.7zM209.2 626.3h0.5v17.2h-0.5zM210.4 626.3h2.5v17.2h-2.5zM213.4 626.3h1.0v17.2h-1.0zM214.4 626.3h0.7v17.2h-0.7zM372.7 626.3h0.7v17.2h-0.7zM374.6 626.3h1.5v17.2h-1.5zM376.1 626.3h1.0v17.2h-1.0zM380.1 626.3h1.0v17.2h-1.0zM381.1 626.3h0.7v17.2h-0.7zM384.3 626.3h2.0v17.2h-2.0zM387.8 626.3h0.5v17.2h-0.5zM393.5 626.3h1.0v17.2h-1.0zM394.5 626.3h0.7v17.2h-0.7zM395.2 626.3h1.0v17.2h-1.0zM398.7 626.3h1.0v17.2h-1.0zM399.7 626.3h1.5v17.2h-1.5zM403.7 626.3h1.0v17.2h-1.0zM404.7 626.3h2.5v17.2h-2.5zM410.4 626.3h1.0v17.2h-1.0zM411.4 626.3h2.0v17.2h-2.0zM414.4 626.3h0.5v17.2h-0.5zM414.9 626.3h1.2v17.2h-1.2zM418.6 626.3h0.7v17.2h-0.7zM419.3 626.3h0.7v17.2h-0.7zM420.7 626.3h1.0v17.2h-1.0zM422.7 626.3h0.5v17.2h-0.5zM424.2 626.3h1.0v17.2h-1.0zM425.2 626.3h1.5v17.2h-1.5zM426.7 626.3h1.2v17.2h-1.2zM442.6 626.3h2.5v17.2h-2.5zM445.1 626.3h0.7v17.2h-0.7zM446.8 626.3h1.2v17.2h-1.2zM449.5 626.3h2.5v17.2h-2.5zM456.7 626.3h1.0v17.2h-1.0zM463.4 626.3h1.0v17.2h-1.0zM466.9 626.3h0.5v17.2h-0.5zM467.4 626.3h0.7v17.2h-0.7zM468.1 626.3h1.0v17.2h-1.0zM469.1 626.3h1.5v17.2h-1.5zM470.6 626.3h0.7v17.2h-0.7zM471.3 626.3h2.0v17.2h-2.0zM473.3 626.3h2.5v17.2h-2.5zM475.8 626.3h2.5v17.2h-2.5zM479.3 626.3h2.5v17.2h-2.5zM481.8 626.3h0.2v17.2h-0.2z"/>
<path fill="#f7d3a8" d="M100.8 261.8h1.2v17.2h-1.2zM103.5 261.8h0.7v17.2h-0.7zM104.9 261.8h0.5v17.2h-0.5zM110.4 261.8h0.7v17.2h-0.7zM124.1 261.8h1.5v17.2h-1.5zM129.6 261.8h1.0v17.2h-1.0zM140.2 261.8h0.7v17.2h-0.7zM145.3 261.8h0.7v17.2h-0.7zM151.7 261.8h1.5v17.2h-1.5zM157.1 261.8h1.0v17.2h-1.0zM168.3 261.8h1.5v17.2h-1.5zM176.8 261.8h1.2v17.2h-1.2zM178.0 261.8h2.5v17.2h-2.5zM194.1 261.8h1.0v17.2h-1.0zM298.0 261.8h1.0v17.2h-1.0zM299.0 261.8h1.0v17.2h-1.0zM301.2 261.8h1.0v17.2h-1.0zM302.2 261.8h1.0v17.2h-1.0zM306.9 261.8h1.5v17.2h-1.5zM317.1 261.8h2.5v17.2h-2.5zM319.6 261.8h0.7v17.2h-0.7zM320.3 261.8h1.0v17.2h-1.0zM324.7 261.8h2.5v17.2h-2.5zM334.8 261.8h1.2v17.2h-1.2zM336.0 261.8h1.5v17.2h-1.5zM339.0 261.8h1.0v17.2h-1.0zM343.0 261.8h2.5v17.2h-2.5zM347.5 261.8h0.5v17.2h-0.5zM352.0 261.8h1.0v17.2h-1.0zM355.2 261.8h2.5v17.2h-2.5zM357.7 261.8h1.5v17.2h-1.5zM362.2 261.8h1.2v17.2h-1.2zM365.9 261.8h1.5v17.2h-1.5zM372.4 261.8h1.2v17.2h-1.2zM376.1 261.8h0.5v17.2h-0.5zM104.0 283.2h2.5v17.2h-2.5zM107.5 283.2h1.5v17.2h-1.5zM117.0 283.2h2.5v17.2h-2.5zM119.5 283.2h0.5v17.2h-0.5zM121.5 283.2h1.2v17.2h-1.2zM122.7 283.2h1.5v17.2h-1.5zM128.7 283.2h0.7v17.2h-0.7zM129.4 283.2h2.5v17.2h-2.5zM132.6 283.2h0.7v17.2h-0.7zM135.3 283.2h0.7v17.2h-0.7zM141.5 283.2h1.0v17.2h-1.0zM154.1 283.2h0.7v17.2h-0.7zM262.0 283.2h1.0v17.2h-1.0zM265.0 283.2h2.0v17.2h-2.0zM269.0 283.2h1.5v17.2h-1.5zM270.5 283.2h2.5v17.2h-2.5zM276.7 283.2h0.7v17.2h-0.7zM281.4 283.2h1.0v17.2h-1.0zM287.6 283.2h1.0v17.2h-1.0zM289.1 283.2h1.0v17.2h-1.0zM290.1 283.2h1.0v17.2h-1.0zM293.1 283.2h0.5v17.2h-0.5zM306.3 283.2h2.0v17.2h-2.0zM308.3 283.2h1.0v17.2h-1.0zM315.3 283.2h0.5v17.2h-0.5zM315.8 283.2h1.0v17.2h-1.0zM318.8 283.2h2.0v17.2h-2.0zM322.0 283.2h0.7v17.2h-0.7zM323.9 283.2h2.5v17.2h-2.5zM326.9 283.2h1.5v17.2h-1.5zM331.3 283.2h1.5v17.2h-1.5zM334.5 283.2h1.0v17.2h-1.0zM339.0 283.2h2.5v17.2h-2.5zM348.5 283.2h0.7v17.2h-0.7zM350.4 283.2h1.2v17.2h-1.2zM352.1 283.2h1.2v17.2h-1.2zM356.0 283.2h2.0v17.2h-2.0zM358.0 283.2h1.5v17.2h-1.5zM359.5 283.2h1.5v17.2h-1.5zM361.0 283.2h1.0v17.2h-1.0zM363.0 283.2h1.0v17.2h-1.0zM365.0 283.2h0.6v17.2h-0.6zM368.0 283.2h1.5v17.2h-1.5zM373.5 283.2h1.5v17.2h-1.5zM380.9 283.2h1.0v17.2h-1.0zM381.9 283.2h0.7v17.2h-0.7zM108.7 304.7h2.0v17.2h-2.0zM110.7 304.7h1.0v17.2h-1.0zM114.4 304.7h1.0v17.2h-1.0zM117.6 304.7h1.0v17.2h-1.0zM123.0 304.7h1.0v17.2h-1.0zM127.4 304.7h0.5v17.2h-0.5zM158.1 304.7h0.5v17.2h-0.5zM170.3 304.7h1.0v17.2h-1.0zM331.6 304.7h2.5v17.2h-2.5zM334.1 304.7h0.7v17.2h-0.7zM337.8 304.7h0.7v17.2h-0.7zM344.2 304.7h1.2v17.2h-1.2zM348.9 304.7h0.5v17.2h-0.5zM354.3 304.7h1.0v17.2h-1.0zM357.8 304.7h1.0v17.2h-1.0zM358.8 304.7h1.2v17.2h-1.2zM363.5 304.7h1.0v17.2h-1.0zM365.5 304.7h0.7v17.2h-0.7zM366.9 304.7h2.5v17.2h-2.5zM370.6 304.7h1.5v17.2h-1.5zM376.8 304.7h1.5v17.2h-1.5zM378.3 304.7h1.0v17.2h-1.0zM399.1 304.7h1.0v17.2h-1.0zM407.5 304.7h2.5v17.2h-2.5zM413.5 304.7h1.0v17.2h-1.0zM416.0 304.7h1.5v17.2h-1.5zM420.4 304.7h0.7v17.2h-0.7zM421.1 304.7h1.0v17.2h-1.0zM426.6 304.7h1.0v17.2h-1.0zM427.6 304.7h1.2v17.2h-1.2zM428.8 304.7h1.5v17.2h-1.5zM434.5 304.7h0.7v17.2h-0.7zM440.4 304.7h1.5v17.2h-1.5zM119.6 326.1h2.5v17.2h-2.5zM152.6 326.1h1.0v17.2h-1.0zM184.9 326.1h1.5v17.2h-1.5zM208.3 326.1h2.5v17.2h-2.5zM341.7 326.1h2.0v17.2h-2.0zM351.2 326.1h0.7v17.2h-0.7zM351.9 326.1h1.5v17.2h-1.5zM357.6 326.1h2.0v17.2h-2.0zM359.6 326.1h1.2v17.2h-1.2zM361.8 326.1h1.0v17.2h-1.0zM362.8 326.1h0.5v17.2h-0.5zM363.3 326.1h0.5v17.2h-0.5zM369.8 326.1h0.5v17.2h-0.5zM371.3 326.1h2.0v17.2h-2.0zM377.4 326.1h1.0v17.2h-1.0zM378.9 326.1h1.0v17.2h-1.0zM379.9 326.1h1.0v17.2h-1.0zM381.9 326.1h1.2v17.2h-1.2zM383.1 326.1h1.0v17.2h-1.0zM384.1 326.1h0.7v17.2h-0.7zM384.8 326.1h1.5v17.2h-1.5zM393.2 326.1h2.5v17.2h-2.5zM395.7 326.1h2.0v17.2h-2.0zM409.9 326.1h1.0v17.2h-1.0zM410.9 326.1h1.5v17.2h-1.5zM412.4 326.1h1.0v17.2h-1.0zM414.1 326.1h1.5v17.2h-1.5zM415.6 326.1h0.5v17.2h-0.5zM430.3 326.1h0.7v17.2h-0.7zM431.0 326.1h2.0v17.2h-2.0zM442.2 326.1h1.5v17.2h-1.5zM112.0 347.6h2.0v17.2h-2.0zM114.7 347.6h1.0v17.2h-1.0zM115.7 347.6h1.2v17.2h-1.2zM118.9 347.6h0.7v17.2h-0.7zM124.6 347.6h1.0v17.2h-1.0zM137.3 347.6h2.5v17.2h-2.5zM140.5 347.6h1.5v17.2h-1.5zM145.5 347.6h2.0v17.2h-2.0zM147.5 347.6h1.0v17.2h-1.0zM148.5 347.6h0.5v17.2h-0.5zM153.0 347.6h0.5v17.2h-0.5zM155.9 347.6h1.2v17.2h-1.2zM172.5 347.6h1.5v17.2h-1.5zM176.5 347.6h1.0v17.2h-1.0zM183.0 347.6h2.5v17.2h-2.5zM186.2 347.6h2.5v17.2h-2.5zM190.7 347.6h1.0v17.2h-1.0zM194.2 347.6h0.7v17.2h-0.7zM194.9 347.6h1.0v17.2h-1.0zM213.2 347.6h1.0v17.2h-1.0zM453.4 347.6h1.0v17.2h-1.0zM477.7 347.6h0.8v17.2h-0.8zM103.7 369.0h2.0v17.2h-2.0zM107.7 369.0h1.2v17.2h-1.2zM109.9 369.0h2.0v17.2h-2.0zM116.4 369.0h1.2v17.2h-1.2zM120.8 369.0h1.5v17.2h-1.5zM123.3 369.0h2.5v17.2h-2.5zM126.8 369.0h1.0v17.2h-1.0zM131.4 369.0h1.2v17.2h-1.2zM134.1 369.0h1.5v17.2h-1.5zM144.8 369.0h0.5v17.2h-0.5zM152.5 369.0h1.5v17.2h-1.5zM154.7 369.0h1.0v17.2h-1.0zM161.6 369.0h1.5v17.2h-1.5zM163.1 369.0h1.0v17.2h-1.0zM164.1 369.0h0.7v17.2h-0.7zM167.5 369.0h1.5v17.2h-1.5zM173.2 369.0h0.5v17.2h-0.5zM191.3 369.0h0.7v17.2h-0.7zM192.0 369.0h0.7v17.2h-0.7zM192.7 369.0h1.0v17.2h-1.0zM205.8 369.0h1.5v17.2h-1.5zM210.2 369.0h1.2v17.2h-1.2zM211.4 369.0h0.5v17.2h-0.5zM216.3 369.0h0.5v17.2h-0.5zM223.2 369.0h0.5v17.2h-0.5zM226.2 369.0h0.7v17.2h-0.7zM227.9 369.0h1.0v17.2h-1.0zM228.9 369.0h1.5v17.2h-1.5zM231.4 369.0h1.0v17.2h-1.0zM233.9 369.0h2.0v17.2h-2.0zM236.4 369.0h1.5v17.2h-1.5zM245.7 369.0h1.0v17.2h-1.0zM249.6 369.0h1.5v17.2h-1.5zM383.7 369.0h1.5v17.2h-1.5zM390.9 369.0h1.0v17.2h-1.0zM394.9 369.0h1.0v17.2h-1.0zM395.9 369.0h1.0v17.2h-1.0zM401.4 369.0h0.5v17.2h-0.5zM401.9 369.0h1.0v17.2h-1.0zM406.1 369.0h1.0v17.2h-1.0zM415.2 369.0h1.5v17.2h-1.5zM417.2 369.0h1.0v17.2h-1.0zM425.1 369.0h2.0v17.2h-2.0zM105.7 390.4h2.0v17.2h-2.0zM108.4 390.4h1.0v17.2h-1.0zM111.9 390.4h0.7v17.2h-0.7zM113.6 390.4h1.5v17.2h-1.5zM122.0 390.4h1.5v17.2h-1.5zM125.7 390.4h1.5v17.2h-1.5zM127.2 390.4h1.5v17.2h-1.5zM128.7 390.4h1.5v17.2h-1.5zM130.7 390.4h2.5v17.2h-2.5zM134.2 390.4h1.5v17.2h-1.5zM136.7 390.4h0.7v17.2h-0.7zM137.4 390.4h0.5v17.2h-0.5zM145.2 390.4h2.5v17.2h-2.5zM250.0 390.4h1.0v17.2h-1.0zM282.7 390.4h1.0v17.2h-1.0zM291.5 390.4h2.5v17.2h-2.5zM294.5 390.4h1.0v17.2h-1.0zM295.5 390.4h1.5v17.2h-1.5zM311.3 390.4h1.0v17.2h-1.0zM313.3 390.4h1.0v17.2h-1.0zM319.3 390.4h1.5v17.2h-1.5zM321.5 390.4h0.7v17.2h-0.7zM327.7 390.4h1.0v17.2h-1.0zM328.7 390.4h2.5v17.2h-2.5zM331.2 390.4h1.0v17.2h-1.0zM335.2 390.4h0.7v17.2h-0.7zM110.8 411.9h1.0v17.2h-1.0zM114.8 411.9h1.0v17.2h-1.0zM129.4 411.9h1.0v17.2h-1.0zM133.9 411.9h0.5v17.2h-0.5zM134.4 411.9h2.0v17.2h-2.0zM137.1 411.9h1.0v17.2h-1.0zM138.1 411.9h2.5v17.2h-2.5zM141.6 411.9h1.0v17.2h-1.0zM144.6 411.9h0.7v17.2h-0.7zM151.4 411.9h1.0v17.2h-1.0zM253.2 411.9h0.5v17.2h-0.5zM269.3 411.9h1.2v17.2h-1.2zM274.4 411.9h1.2v17.2h-1.2zM278.0 411.9h1.0v17.2h-1.0zM283.5 411.9h0.7v17.2h-0.7zM286.7 411.9h1.0v17.2h-1.0zM291.6 411.9h1.5v17.2h-1.5zM293.1 411.9h0.5v17.2h-0.5zM298.8 411.9h2.5v17.2h-2.5zM304.5 411.9h0.5v17.2h-0.5zM314.5 411.9h2.5v17.2h-2.5zM317.0 411.9h0.7v17.2h-0.7zM321.4 411.9h2.0v17.2h-2.0zM329.9 411.9h1.0v17.2h-1.0zM330.9 411.9h1.0v17.2h-1.0zM331.9 411.9h1.2v17.2h-1.2zM100.0 433.3h1.2v17.2h-1.2zM106.9 433.3h1.0v17.2h-1.0zM112.6 433.3h1.0v17.2h-1.0zM115.6 433.3h1.5v17.2h-1.5zM119.6 433.3h1.0v17.2h-1.0zM124.0 433.3h1.0v17.2h-1.0zM127.5 433.3h1.5v17.2h-1.5zM129.0 433.3h0.7v17.2h-0.7zM130.7 433.3h0.7v17.2h-0.7zM131.4 433.3h1.5v17.2h-1.5zM134.1 433.3h2.0v17.2h-2.0zM136.1 433.3h1.2v17.2h-1.2zM144.5 433.3h0.5v17.2h-0.5zM147.5 433.3h1.0v17.2h-1.0zM150.5 433.3h1.0v17.2h-1.0zM151.5 433.3h1.5v17.2h-1.5zM159.0 433.3h1.0v17.2h-1.0zM176.4 433.3h1.2v17.2h-1.2zM184.6 433.3h1.0v17.2h-1.0zM185.6 433.3h0.5v17.2h-0.5zM187.1 433.3h0.7v17.2h-0.7zM189.5 433.3h2.5v17.2h-2.5zM193.5 433.3h0.5v17.2h-0.5zM208.5 433.3h1.0v17.2h-1.0zM209.5 433.3h1.0v17.2h-1.0zM211.5 433.3h1.0v17.2h-1.0zM212.5 433.3h0.5v17.2h-0.5zM218.2 433.3h1.2v17.2h-1.2zM221.4 433.3h1.5v17.2h-1.5zM222.9 433.3h2.0v17.2h-2.0zM229.1 433.3h0.7v17.2h-0.7zM231.0 433.3h1.0v17.2h-1.0zM238.2 433.3h0.5v17.2h-0.5zM320.0 433.3h2.5v17.2h-2.5zM331.5 433.3h1.2v17.2h-1.2zM334.7 433.3h2.0v17.2h-2.0zM336.7 433.3h1.0v17.2h-1.0zM337.7 433.3h0.7v17.2h-0.7zM339.4 433.3h1.0v17.2h-1.0zM340.4 433.3h1.5v17.2h-1.5zM344.4 433.3h1.0v17.2h-1.0zM346.6 433.3h1.0v17.2h-1.0zM347.6 433.3h2.0v17.2h-2.0zM355.3 433.3h1.2v17.2h-1.2zM357.7 433.3h1.0v17.2h-1.0zM372.0 433.3h1.5v17.2h-1.5zM381.7 433.3h1.0v17.2h-1.0zM394.8 433.3h1.0v17.2h-1.0zM401.0 433.3h0.7v17.2h-0.7zM405.7 433.3h1.0v17.2h-1.0zM407.9 433.3h0.5v17.2h-0.5zM408.4 433.3h0.4v17.2h-0.4zM104.8 454.8h1.0v17.2h-1.0zM113.0 454.8h1.0v17.2h-1.0zM118.2 454.8h0.7v17.2h-0.7zM119.9 454.8h1.5v17.2h-1.5zM121.9 454.8h1.0v17.2h-1.0zM122.9 454.8h1.5v17.2h-1.5zM127.9 454.8h1.5v17.2h-1.5zM138.3 454.8h1.0v17.2h-1.0zM146.4 454.8h2.0v17.2h-2.0zM152.4 454.8h2.5v17.2h-2.5zM157.9 454.8h2.0v17.2h-2.0zM167.8 454.8h2.5v17.2h-2.5zM172.8 454.8h1.0v17.2h-1.0zM175.8 454.8h1.2v17.2h-1.2zM180.9 454.8h1.0v17.2h-1.0zM181.9 454.8h1.0v17.2h-1.0zM182.9 454.8h1.0v17.2h-1.0zM208.1 454.8h1.0v17.2h-1.0zM209.1 454.8h1.0v17.2h-1.0zM212.6 454.8h1.2v17.2h-1.2zM215.8 454.8h2.0v17.2h-2.0zM217.8 454.8h1.0v17.2h-1.0zM218.8 454.8h1.0v17.2h-1.0zM219.8 454.8h1.0v17.2h-1.0zM222.3 454.8h1.5v17.2h-1.5zM223.8 454.8h0.7v17.2h-0.7zM225.5 454.8h0.3v17.2h-0.3zM359.5 454.8h1.0v17.2h-1.0zM363.0 454.8h1.2v17.2h-1.2zM364.2 454.8h1.5v17.2h-1.5zM368.1 454.8h0.7v17.2h-0.7zM375.5 454.8h0.7v17.2h-0.7zM392.2 454.8h1.0v17.2h-1.0zM395.7 454.8h1.0v17.2h-1.0zM398.2 454.8h1.0v17.2h-1.0zM407.2 454.8h1.0v17.2h-1.0zM412.1 454.8h0.5v17.2h-0.5zM414.8 454.8h0.5v17.2h-0.5zM416.5 454.8h1.2v17.2h-1.2zM417.7 454.8h1.0v17.2h-1.0zM422.9 454.8h1.5v17.2h-1.5zM424.4 454.8h1.0v17.2h-1.0zM425.4 454.8h0.5v17.2h-0.5zM425.9 454.8h1.0v17.2h-1.0zM100.2 476.2h1.0v17.2h-1.0zM101.2 476.2h1.0v17.2h-1.0zM104.7 476.2h0.5v17.2h-0.5zM105.2 476.2h2.5v17.2h-2.5zM108.9 476.2h2.0v17.2h-2.0zM113.8 476.2h0.5v17.2h-0.5zM115.5 476.2h2.0v17.2h-2.0zM117.5 476.2h1.0v17.2h-1.0zM120.0 476.2h2.0v17.2h-2.0zM140.2 476.2h1.0v17.2h-1.0zM144.4 476.2h0.7v17.2h-0.7zM152.2 476.2h1.5v17.2h-1.5zM324.0 476.2h1.0v17.2h-1.0zM333.4 476.2h2.5v17.2h-2.5zM340.6 476.2h2.0v17.2h-2.0zM342.6 476.2h0.5v17.2h-0.5zM343.1 476.2h1.0v17.2h-1.0zM348.6 476.2h1.5v17.2h-1.5zM350.1 476.2h1.0v17.2h-1.0zM352.6 476.2h2.0v17.2h-2.0zM355.3 476.2h1.2v17.2h-1.2zM356.5 476.2h1.0v17.2h-1.0zM364.2 476.2h1.0v17.2h-1.0zM370.4 476.2h1.5v17.2h-1.5zM102.5 497.6h2.5v17.2h-2.5zM106.7 497.6h1.5v17.2h-1.5zM108.2 497.6h1.0v17.2h-1.0zM114.8 497.6h0.7v17.2h-0.7zM116.5 497.6h1.0v17.2h-1.0zM132.6 497.6h0.7v17.2h-0.7zM134.3 497.6h1.0v17.2h-1.0zM139.8 497.6h1.2v17.2h-1.2zM141.0 497.6h2.5v17.2h-2.5zM144.0 497.6h1.0v17.2h-1.0zM146.7 497.6h2.5v17.2h-2.5zM155.2 497.6h0.5v17.2h-0.5zM155.7 497.6h0.5v17.2h-0.5zM160.9 497.6h1.2v17.2h-1.2zM172.2 497.6h1.0v17.2h-1.0zM174.9 497.6h0.7v17.2h-0.7zM177.1 497.6h0.9v17.2h-0.9zM252.5 497.6h2.0v17.2h-2.0zM295.1 497.6h2.5v17.2h-2.5zM297.6 497.6h1.0v17.2h-1.0zM305.8 497.6h1.0v17.2h-1.0zM306.8 497.6h1.5v17.2h-1.5zM314.5 497.6h1.0v17.2h-1.0zM317.0 497.6h1.0v17.2h-1.0zM319.2 497.6h0.7v17.2h-0.7zM321.9 497.6h1.0v17.2h-1.0zM324.4 497.6h1.5v17.2h-1.5zM338.6 497.6h1.5v17.2h-1.5zM340.1 497.6h0.5v17.2h-0.5zM112.5 519.1h0.7v17.2h-0.7zM230.1 519.1h2.0v17.2h-2.0zM250.0 519.1h0.5v17.2h-0.5zM254.5 519.1h0.7v17.2h-0.7zM255.2 519.1h1.5v17.2h-1.5zM256.7 519.1h1.5v17.2h-1.5zM273.3 519.1h1.0v17.2h-1.0zM275.3 519.1h1.0v17.2h-1.0zM278.5 519.1h0.7v17.2h-0.7zM283.4 519.1h1.0v17.2h-1.0zM288.4 519.1h1.0v17.2h-1.0zM290.9 519.1h1.0v17.2h-1.0zM293.3 519.1h2.0v17.2h-2.0zM301.8 519.1h2.5v17.2h-2.5zM305.8 519.1h2.5v17.2h-2.5zM310.3 519.1h1.5v17.2h-1.5zM313.8 519.1h2.0v17.2h-2.0zM315.8 519.1h1.0v17.2h-1.0zM316.8 519.1h2.5v17.2h-2.5zM320.0 519.1h1.5v17.2h-1.5zM325.0 519.1h1.0v17.2h-1.0zM342.7 519.1h0.7v17.2h-0.7zM347.1 519.1h1.5v17.2h-1.5zM354.8 519.1h1.5v17.2h-1.5zM209.5 540.5h1.0v17.2h-1.0zM210.5 540.5h1.2v17.2h-1.2zM224.6 540.5h1.2v17.2h-1.2zM230.8 540.5h1.2v17.2h-1.2zM234.0 540.5h0.5v17.2h-0.5zM236.0 540.5h1.5v17.2h-1.5zM237.5 540.5h0.7v17.2h-0.7zM247.4 540.5h0.5v17.2h-0.5zM247.9 540.5h0.7v17.2h-0.7zM261.2 540.5h1.0v17.2h-1.0zM268.6 540.5h1.5v17.2h-1.5zM272.1 540.5h2.0v17.2h-2.0zM274.1 540.5h1.2v17.2h-1.2zM275.3 540.5h1.0v17.2h-1.0zM276.3 540.5h1.0v17.2h-1.0zM280.5 540.5h1.2v17.2h-1.2zM284.2 540.5h1.0v17.2h-1.0zM286.9 540.5h2.0v17.2h-2.0zM288.9 540.5h2.5v17.2h-2.5zM292.9 540.5h1.0v17.2h-1.0zM302.4 540.5h1.2v17.2h-1.2zM304.1 540.5h0.5v17.2h-0.5zM306.6 540.5h1.2v17.2h-1.2zM309.3 540.5h0.5v17.2h-0.5zM316.7 540.5h1.5v17.2h-1.5zM318.7 540.5h2.0v17.2h-2.0zM324.2 540.5h0.5v17.2h-0.5zM331.7 540.5h1.5v17.2h-1.5zM341.7 540.5h1.0v17.2h-1.0zM343.2 540.5h0.5v17.2h-0.5zM344.7 540.5h1.0v17.2h-1.0zM346.7 540.5h1.0v17.2h-1.0zM347.7 540.5h1.2v17.2h-1.2zM100.9 562.0h1.0v17.2h-1.0zM108.3 562.0h2.5v17.2h-2.5zM138.8 562.0h1.2v17.2h-1.2zM329.5 562.0h1.0v17.2h-1.0zM335.7 562.0h1.0v17.2h-1.0zM153.7 583.4h0.7v17.2h-0.7zM185.1 583.4h1.0v17.2h-1.0zM200.5 583.4h1.2v17.2h-1.2zM273.9 583.4h2.0v17.2h-2.0zM283.9 583.4h1.2v17.2h-1.2zM288.1 583.4h1.2v17.2h-1.2zM297.5 583.4h1.0v17.2h-1.0zM304.4 583.4h2.0v17.2h-2.0zM315.9 583.4h1.0v17.2h-1.0zM101.8 604.8h1.0v17.2h-1.0zM105.0 604.8h1.0v17.2h-1.0zM109.7 604.8h0.7v17.2h-0.7zM113.4 604.8h1.2v17.2h-1.2zM119.1 604.8h0.7v17.2h-0.7zM130.8 604.8h1.0v17.2h-1.0zM134.5 604.8h0.5v17.2h-0.5zM135.5 604.8h1.0v17.2h-1.0zM138.5 604.8h2.5v17.2h-2.5zM141.0 604.8h1.5v17.2h-1.5zM145.5 604.8h2.0v17.2h-2.0zM161.7 604.8h0.5v17.2h-0.5zM167.4 604.8h2.5v17.2h-2.5zM169.9 604.8h2.5v17.2h-2.5zM175.9 604.8h1.0v17.2h-1.0zM181.1 604.8h1.0v17.2h-1.0zM185.8 604.8h1.0v17.2h-1.0zM189.3 604.8h1.0v17.2h-1.0zM191.3 604.8h2.0v17.2h-2.0zM194.8 604.8h2.0v17.2h-2.0zM198.0 604.8h2.5v17.2h-2.5zM200.5 604.8h2.0v17.2h-2.0zM204.2 604.8h1.2v17.2h-1.2zM206.9 604.8h0.1v17.2h-0.1zM211.6 604.8h1.2v17.2h-1.2zM236.8 604.8h1.0v17.2h-1.0zM239.8 604.8h1.0v17.2h-1.0zM371.6 604.8h2.5v17.2h-2.5zM379.3 604.8h1.0v17.2h-1.0zM381.8 604.8h1.2v17.2h-1.2zM383.0 604.8h1.5v17.2h-1.5zM440.6 604.8h1.0v17.2h-1.0zM441.6 604.8h2.0v17.2h-2.0zM443.6 604.8h0.7v17.2h-0.7zM462.1 604.8h1.0v17.2h-1.0zM470.0 604.8h0.7v17.2h-0.7zM483.2 604.8h1.0v17.2h-1.0zM484.2 604.8h2.5v17.2h-2.5zM486.7 604.8h0.3v17.2h-0.3zM108.2 626.3h1.5v17.2h-1.5zM119.4 626.3h0.7v17.2h-0.7zM131.5 626.3h1.2v17.2h-1.2zM132.7 626.3h1.2v17.2h-1.2zM136.4 626.3h1.0v17.2h-1.0zM141.9 626.3h2.5v17.2h-2.5zM146.9 626.3h0.7v17.2h-0.7zM159.6 626.3h0.7v17.2h-0.7zM160.3 626.3h2.5v17.2h-2.5zM162.8 626.3h1.0v17.2h-1.0zM163.8 626.3h0.7v17.2h-0.7zM168.2 626.3h1.0v17.2h-1.0zM175.9 626.3h1.0v17.2h-1.0zM178.4 626.3h1.0v17.2h-1.0zM185.4 626.3h1.0v17.2h-1.0zM186.4 626.3h0.5v17.2h-0.5zM192.1 626.3h2.5v17.2h-2.5zM194.6 626.3h1.0v17.2h-1.0zM202.3 626.3h1.0v17.2h-1.0zM209.7 626.3h0.7v17.2h-0.7zM212.9 626.3h0.5v17.2h-0.5zM215.1 626.3h1.4v17.2h-1.4zM370.7 626.3h1.0v17.2h-1.0zM381.8 626.3h2.5v17.2h-2.5zM386.3 626.3h1.5v17.2h-1.5zM389.8 626.3h2.5v17.2h-2.5zM396.2 626.3h2.5v17.2h-2.5zM413.4 626.3h1.0v17.2h-1.0zM420.0 626.3h0.7v17.2h-0.7zM421.7 626.3h1.0v17.2h-1.0zM427.9 626.3h1.2v17.2h-1.2zM445.8 626.3h1.0v17.2h-1.0zM454.5 626.3h1.2v17.2h-1.2zM455.7 626.3h1.0v17.2h-1.0zM461.4 626.3h2.0v17.2h-2.0z"/>
<rect x="383.6" y="261.8" width="1.9" height="17.2" fill="#f2a055"/>
<rect x="99" y="283.2" width="3.0" height="17.2" fill="#e4502a"/>
<rect x="158.8" y="283.2" width="2.3" height="17.2" fill="#8f1b1b"/>
<rect x="162.7" y="283.2" width="8.2" height="17.2" fill="#e4502a"/>
<rect x="181" y="283.2" width="4.6" height="17.2" fill="#e4502a"/>
<rect x="195" y="283.2" width="2.8" height="17.2" fill="#f4ad65"/>
<rect x="358.3" y="283.2" width="1.0" height="17.2" fill="#f2a055"/>
<rect x="383.5" y="283.2" width="1.7" height="17.2" fill="#f2a055"/>
<rect x="447" y="304.7" width="4.1" height="17.2" fill="#4a1010"/>
<rect x="123.5" y="326.1" width="1.2" height="17.2" fill="#e4502a"/>
<rect x="133.5" y="326.1" width="1.2" height="17.2" fill="#f4ad65"/>
<rect x="409" y="326.1" width="1.0" height="17.2" fill="#f2a055"/>
<rect x="449.6" y="326.1" width="1.6" height="17.2" fill="#4a1010"/>
<rect x="99" y="347.6" width="13.0" height="17.2" fill="#f4ad65"/>
<rect x="115.6" y="347.6" width="1.0" height="17.2" fill="#f2a055"/>
<rect x="169" y="347.6" width="1.0" height="17.2" fill="#f2a055"/>
<rect x="478.5" y="347.6" width="27.5" height="17.2" fill="#f4ad65"/>
<rect x="242.6" y="369.0" width="1.9" height="17.2" fill="#e4502a"/>
<rect x="363.3" y="369.0" width="2.3" height="17.2" fill="#f4ad65"/>
<rect x="172.1" y="390.4" width="27.5" height="17.2" fill="#f4ad65"/>
<rect x="237.5" y="390.4" width="4.2" height="17.2" fill="#f4ad65"/>
<rect x="355" y="454.8" width="1.2" height="17.2" fill="#f2a055"/>
<rect x="98.6" y="476.2" width="0.9" height="17.2" fill="#8a3a24"/>
<rect x="249.2" y="519.1" width="1.0" height="17.2" fill="#f2a055"/>
<rect x="267.5" y="519.1" width="1.2" height="17.2" fill="#f2a055"/>
<rect x="138.2" y="540.5" width="25.7" height="17.2" fill="#f4ad65"/>
<rect x="223.5" y="540.5" width="1.1" height="17.2" fill="#f2a055"/>
<rect x="256.5" y="540.5" width="1.2" height="17.2" fill="#f2a055"/>
<rect x="98.6" y="562.0" width="1.0" height="17.2" fill="#8f1b1b"/>
<rect x="173.7" y="562.0" width="3.5" height="17.2" fill="#e4502a"/>
<rect x="337.9" y="562.0" width="6.3" height="17.2" fill="#f4ad65"/>
<rect x="339.6" y="583.4" width="2.8" height="17.2" fill="#8f1b1b"/>
<rect x="362.9" y="583.4" width="3.0" height="17.2" fill="#4a1010"/>
<rect x="354" y="604.8" width="3.6" height="17.2" fill="#8f1b1b"/>
<rect x="387.5" y="604.8" width="1.2" height="17.2" fill="#f2a055"/>
<rect x="98.5" y="626.3" width="1.0" height="17.2" fill="#e3a08a"/>
<rect x="275" y="626.3" width="6.0" height="17.2" fill="#f4ad65"/>
<rect x="290.2" y="626.3" width="19.4" height="17.2" fill="#f4ad65"/>
<rect x="430.1" y="626.3" width="12.5" height="17.2" fill="#f4ad65"/>
<line x1="78" y1="252.5" x2="527" y2="252.5" stroke="#5a5a5a" stroke-width="1"/>
<line x1="78" y1="653.5" x2="527" y2="653.5" stroke="#767676" stroke-width="1"/>
<line x1="78.5" y1="253" x2="78.5" y2="653" stroke="#868686" stroke-width="1"/>
<line x1="526.5" y1="253" x2="526.5" y2="653" stroke="#8a8a8a" stroke-width="1"/>
<line x1="75.6" y1="270.30" x2="78.5" y2="270.30" stroke="#555" stroke-width="0.8"/>
<text x="71.20" y="274.70" font-size="12.0" text-anchor="end" fill="#231f20" textLength="30.8" lengthAdjust="spacingAndGlyphs" >Chr1A</text>
<line x1="75.6" y1="291.74" x2="78.5" y2="291.74" stroke="#555" stroke-width="0.8"/>
<text x="71.20" y="296.14" font-size="12.0" text-anchor="end" fill="#231f20" textLength="30.8" lengthAdjust="spacingAndGlyphs" >Chr1B</text>
<line x1="75.6" y1="313.18" x2="78.5" y2="313.18" stroke="#555" stroke-width="0.8"/>
<text x="71.20" y="317.58" font-size="12.0" text-anchor="end" fill="#231f20" textLength="30.8" lengthAdjust="spacingAndGlyphs" >Chr2A</text>
<line x1="75.6" y1="334.62" x2="78.5" y2="334.62" stroke="#555" stroke-width="0.8"/>
<text x="71.20" y="339.02" font-size="12.0" text-anchor="end" fill="#231f20" textLength="30.8" lengthAdjust="spacingAndGlyphs" >Chr2B</text>
<line x1="75.6" y1="356.06" x2="78.5" y2="356.06" stroke="#555" stroke-width="0.8"/>
<text x="71.20" y="360.46" font-size="12.0" text-anchor="end" fill="#231f20" textLength="30.8" lengthAdjust="spacingAndGlyphs" >Chr3A</text>
<line x1="75.6" y1="377.50" x2="78.5" y2="377.50" stroke="#555" stroke-width="0.8"/>
<text x="71.20" y="381.90" font-size="12.0" text-anchor="end" fill="#231f20" textLength="30.8" lengthAdjust="spacingAndGlyphs" >Chr3B</text>
<line x1="75.6" y1="398.94" x2="78.5" y2="398.94" stroke="#555" stroke-width="0.8"/>
<text x="71.20" y="403.34" font-size="12.0" text-anchor="end" fill="#231f20" textLength="30.8" lengthAdjust="spacingAndGlyphs" >Chr4A</text>
<line x1="75.6" y1="420.38" x2="78.5" y2="420.38" stroke="#555" stroke-width="0.8"/>
<text x="71.20" y="424.78" font-size="12.0" text-anchor="end" fill="#231f20" textLength="30.8" lengthAdjust="spacingAndGlyphs" >Chr4B</text>
<line x1="75.6" y1="441.82" x2="78.5" y2="441.82" stroke="#555" stroke-width="0.8"/>
<text x="71.20" y="446.22" font-size="12.0" text-anchor="end" fill="#231f20" textLength="30.8" lengthAdjust="spacingAndGlyphs" >Chr5A</text>
<line x1="75.6" y1="463.26" x2="78.5" y2="463.26" stroke="#555" stroke-width="0.8"/>
<text x="71.20" y="467.66" font-size="12.0" text-anchor="end" fill="#231f20" textLength="30.8" lengthAdjust="spacingAndGlyphs" >Chr5B</text>
<line x1="75.6" y1="484.70" x2="78.5" y2="484.70" stroke="#555" stroke-width="0.8"/>
<text x="71.20" y="489.10" font-size="12.0" text-anchor="end" fill="#231f20" textLength="30.8" lengthAdjust="spacingAndGlyphs" >Chr6A</text>
<line x1="75.6" y1="506.14" x2="78.5" y2="506.14" stroke="#555" stroke-width="0.8"/>
<text x="71.20" y="510.54" font-size="12.0" text-anchor="end" fill="#231f20" textLength="30.8" lengthAdjust="spacingAndGlyphs" >Chr6B</text>
<line x1="75.6" y1="527.58" x2="78.5" y2="527.58" stroke="#555" stroke-width="0.8"/>
<text x="71.20" y="531.98" font-size="12.0" text-anchor="end" fill="#231f20" textLength="30.8" lengthAdjust="spacingAndGlyphs" >Chr7A</text>
<line x1="75.6" y1="549.02" x2="78.5" y2="549.02" stroke="#555" stroke-width="0.8"/>
<text x="71.20" y="553.42" font-size="12.0" text-anchor="end" fill="#231f20" textLength="30.8" lengthAdjust="spacingAndGlyphs" >Chr7B</text>
<line x1="75.6" y1="570.46" x2="78.5" y2="570.46" stroke="#555" stroke-width="0.8"/>
<text x="71.20" y="574.86" font-size="12.0" text-anchor="end" fill="#231f20" textLength="30.8" lengthAdjust="spacingAndGlyphs" >Chr8A</text>
<line x1="75.6" y1="591.90" x2="78.5" y2="591.90" stroke="#555" stroke-width="0.8"/>
<text x="71.20" y="596.30" font-size="12.0" text-anchor="end" fill="#231f20" textLength="30.8" lengthAdjust="spacingAndGlyphs" >Chr8B</text>
<line x1="75.6" y1="613.34" x2="78.5" y2="613.34" stroke="#555" stroke-width="0.8"/>
<text x="71.20" y="617.74" font-size="12.0" text-anchor="end" fill="#231f20" textLength="30.8" lengthAdjust="spacingAndGlyphs" >Chr9A</text>
<line x1="75.6" y1="634.78" x2="78.5" y2="634.78" stroke="#555" stroke-width="0.8"/>
<text x="71.20" y="639.18" font-size="12.0" text-anchor="end" fill="#231f20" textLength="30.8" lengthAdjust="spacingAndGlyphs" >Chr9B</text>
<line x1="98.20" y1="653.5" x2="98.20" y2="656" stroke="#555" stroke-width="0.8"/>
<line x1="164.50" y1="653.5" x2="164.50" y2="656" stroke="#555" stroke-width="0.8"/>
<line x1="230.80" y1="653.5" x2="230.80" y2="656" stroke="#555" stroke-width="0.8"/>
<line x1="297.10" y1="653.5" x2="297.10" y2="656" stroke="#555" stroke-width="0.8"/>
<line x1="363.40" y1="653.5" x2="363.40" y2="656" stroke="#555" stroke-width="0.8"/>
<line x1="429.70" y1="653.5" x2="429.70" y2="656" stroke="#555" stroke-width="0.8"/>
<line x1="496.00" y1="653.5" x2="496.00" y2="656" stroke="#555" stroke-width="0.8"/>
<text x="23.40" y="428.80" font-size="14.6" text-anchor="middle" fill="#231f20" textLength="90.6" lengthAdjust="spacingAndGlyphs" transform="rotate(-90 23.40 428.80)" >Chromosomes</text>
<text x="197.20" y="669.10" font-size="12.0" text-anchor="start" fill="#231f20" textLength="264.0" lengthAdjust="spacingAndGlyphs" >Gene positions along the length of the chromosome</text>
<text x="537.00" y="287.70" font-size="11.6" text-anchor="start" fill="#231f20" textLength="29.2" lengthAdjust="spacingAndGlyphs" >No. of</text>
<text x="537.00" y="302.50" font-size="11.6" text-anchor="start" fill="#231f20" textLength="52.2" lengthAdjust="spacingAndGlyphs" >accessions</text>
<text x="537.00" y="317.30" font-size="11.6" text-anchor="start" fill="#231f20" textLength="41.6" lengthAdjust="spacingAndGlyphs" >carrying</text>
<text x="537.00" y="331.70" font-size="11.6" text-anchor="start" fill="#231f20" textLength="37.4" lengthAdjust="spacingAndGlyphs" >the LSV</text>
<rect x="539.4" y="339.8" width="9.8" height="44.7" fill="#4b1010"/>
<rect x="539.4" y="384.5" width="9.8" height="45.2" fill="#9a171d"/>
<rect x="539.4" y="429.7" width="9.8" height="45.3" fill="#e13c26"/>
<rect x="539.4" y="475" width="9.8" height="44.6" fill="#f49a40"/>
<text x="555.40" y="370.10" font-size="14.0" text-anchor="start" fill="#231f20" textLength="7.6" lengthAdjust="spacingAndGlyphs" >4</text>
<text x="555.40" y="407.20" font-size="14.0" text-anchor="start" fill="#231f20" textLength="7.6" lengthAdjust="spacingAndGlyphs" >3</text>
<text x="555.40" y="455.40" font-size="14.0" text-anchor="start" fill="#231f20" textLength="7.6" lengthAdjust="spacingAndGlyphs" >2</text>
<text x="555.40" y="499.60" font-size="14.0" text-anchor="start" fill="#231f20" textLength="7.6" lengthAdjust="spacingAndGlyphs" >1</text></g>
</svg>
</body></html>
